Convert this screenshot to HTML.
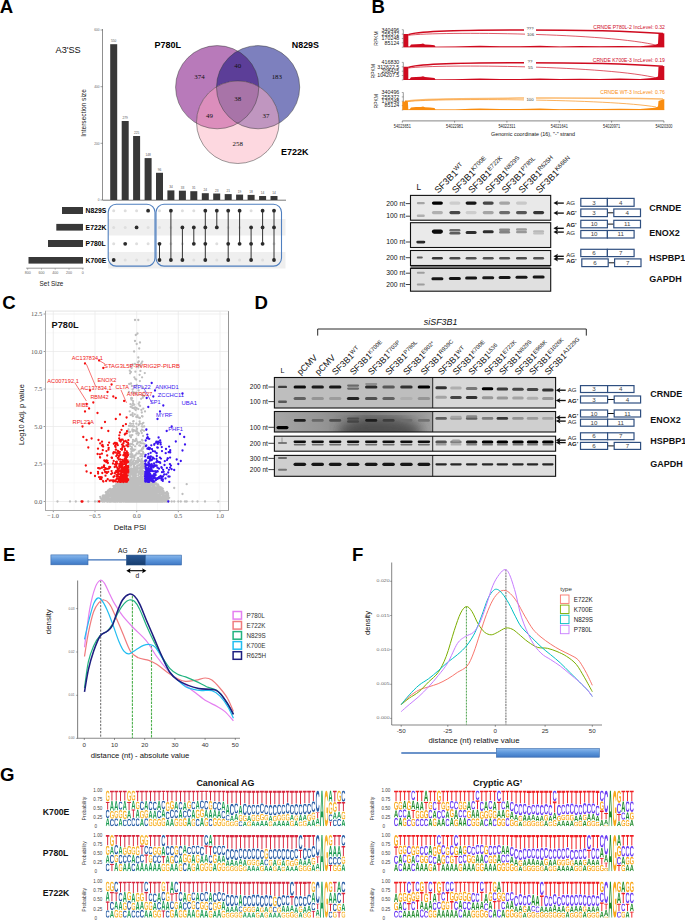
<!DOCTYPE html>
<html><head><meta charset="utf-8"><style>
html,body{margin:0;padding:0;background:#fff;}
svg{display:block;}
text{font-family:"Liberation Sans",sans-serif;}
</style></head><body>
<svg width="685" height="921" viewBox="0 0 685 921">
<rect width="685" height="921" fill="#fff"/>
<text x="-0.3" y="12.9" font-size="18.6" font-weight="bold" fill="#000" >A</text>
<text x="55.5" y="52.8" font-size="9.2" fill="#111" >A3&#39;SS</text>
<line x1="102.5" y1="29" x2="102.5" y2="200" stroke="#444" stroke-width="0.6"/>
<line x1="100.5" y1="200.0" x2="102.5" y2="200.0" stroke="#444" stroke-width="0.5"/>
<text x="99.5" y="201.2" font-size="3.2" text-anchor="end" fill="#666" >0</text>
<line x1="100.5" y1="143.3" x2="102.5" y2="143.3" stroke="#444" stroke-width="0.5"/>
<text x="99.5" y="144.5" font-size="3.2" text-anchor="end" fill="#666" >200</text>
<line x1="100.5" y1="86.7" x2="102.5" y2="86.7" stroke="#444" stroke-width="0.5"/>
<text x="99.5" y="87.9" font-size="3.2" text-anchor="end" fill="#666" >400</text>
<line x1="100.5" y1="30.0" x2="102.5" y2="30.0" stroke="#444" stroke-width="0.5"/>
<text x="99.5" y="31.2" font-size="3.2" text-anchor="end" fill="#666" >600</text>
<text transform="translate(86.3,113) rotate(-90)" font-size="6.6" text-anchor="middle" fill="#222">Intersection size</text>
<line x1="102.5" y1="200.2" x2="286" y2="200.2" stroke="#555" stroke-width="0.8"/>
<rect x="110.2" y="44.2" width="7" height="155.8" fill="#383838"/>
<text x="113.7" y="42.2" font-size="3.2" text-anchor="middle" fill="#555" >550</text>
<rect x="121.7" y="121.0" width="7" height="79.0" fill="#383838"/>
<text x="125.2" y="119.0" font-size="3.2" text-anchor="middle" fill="#555" >279</text>
<rect x="133.1" y="136.0" width="7" height="64.0" fill="#383838"/>
<text x="136.6" y="134.0" font-size="3.2" text-anchor="middle" fill="#555" >225</text>
<rect x="144.6" y="158.1" width="7" height="41.9" fill="#383838"/>
<text x="148.1" y="156.1" font-size="3.2" text-anchor="middle" fill="#555" >148</text>
<rect x="156.0" y="172.8" width="7" height="27.2" fill="#383838"/>
<text x="159.5" y="170.8" font-size="3.2" text-anchor="middle" fill="#555" >96</text>
<rect x="167.4" y="190.4" width="7" height="9.6" fill="#383838"/>
<text x="170.9" y="188.4" font-size="3.2" text-anchor="middle" fill="#555" >34</text>
<rect x="178.9" y="190.7" width="7" height="9.3" fill="#383838"/>
<text x="182.4" y="188.7" font-size="3.2" text-anchor="middle" fill="#555" >33</text>
<rect x="190.3" y="191.2" width="7" height="8.8" fill="#383838"/>
<text x="193.8" y="189.2" font-size="3.2" text-anchor="middle" fill="#555" >31</text>
<rect x="201.8" y="193.2" width="7" height="6.8" fill="#383838"/>
<text x="205.3" y="191.2" font-size="3.2" text-anchor="middle" fill="#555" >24</text>
<rect x="213.2" y="193.5" width="7" height="6.5" fill="#383838"/>
<text x="216.8" y="191.5" font-size="3.2" text-anchor="middle" fill="#555" >23</text>
<rect x="224.7" y="194.1" width="7" height="5.9" fill="#383838"/>
<text x="228.2" y="192.1" font-size="3.2" text-anchor="middle" fill="#555" >21</text>
<rect x="236.1" y="194.6" width="7" height="5.4" fill="#383838"/>
<text x="239.6" y="192.6" font-size="3.2" text-anchor="middle" fill="#555" >19</text>
<rect x="247.6" y="194.9" width="7" height="5.1" fill="#383838"/>
<text x="251.1" y="192.9" font-size="3.2" text-anchor="middle" fill="#555" >18</text>
<rect x="259.1" y="196.0" width="7" height="4.0" fill="#383838"/>
<text x="262.6" y="194.0" font-size="3.2" text-anchor="middle" fill="#555" >14</text>
<rect x="270.5" y="196.0" width="7" height="4.0" fill="#383838"/>
<text x="274.0" y="194.0" font-size="3.2" text-anchor="middle" fill="#555" >14</text>
<rect x="108" y="219" width="177.5" height="16.5" fill="#efefef"/>
<rect x="108" y="252" width="177.5" height="16.5" fill="#efefef"/>
<circle cx="113.7" cy="210.7" r="1.5" fill="#dedede"/>
<circle cx="113.7" cy="227.4" r="1.5" fill="#dedede"/>
<circle cx="113.7" cy="243.8" r="1.5" fill="#dedede"/>
<circle cx="113.7" cy="260.0" r="1.9" fill="#2b2b2b"/>
<circle cx="125.2" cy="210.7" r="1.5" fill="#dedede"/>
<circle cx="125.2" cy="227.4" r="1.5" fill="#dedede"/>
<circle cx="125.2" cy="260.0" r="1.5" fill="#dedede"/>
<circle cx="125.2" cy="243.8" r="1.9" fill="#2b2b2b"/>
<circle cx="136.6" cy="210.7" r="1.5" fill="#dedede"/>
<circle cx="136.6" cy="243.8" r="1.5" fill="#dedede"/>
<circle cx="136.6" cy="260.0" r="1.5" fill="#dedede"/>
<circle cx="136.6" cy="227.4" r="1.9" fill="#2b2b2b"/>
<circle cx="148.1" cy="227.4" r="1.5" fill="#dedede"/>
<circle cx="148.1" cy="243.8" r="1.5" fill="#dedede"/>
<circle cx="148.1" cy="260.0" r="1.5" fill="#dedede"/>
<circle cx="148.1" cy="210.7" r="1.9" fill="#2b2b2b"/>
<circle cx="159.5" cy="210.7" r="1.5" fill="#dedede"/>
<circle cx="159.5" cy="227.4" r="1.5" fill="#dedede"/>
<line x1="159.5" y1="243.8" x2="159.5" y2="260.0" stroke="#333" stroke-width="1"/>
<circle cx="159.5" cy="243.8" r="1.9" fill="#2b2b2b"/>
<circle cx="159.5" cy="260.0" r="1.9" fill="#2b2b2b"/>
<circle cx="170.9" cy="227.4" r="1.5" fill="#dedede"/>
<circle cx="170.9" cy="243.8" r="1.5" fill="#dedede"/>
<line x1="170.9" y1="210.7" x2="170.9" y2="260.0" stroke="#333" stroke-width="1"/>
<circle cx="170.9" cy="210.7" r="1.9" fill="#2b2b2b"/>
<circle cx="170.9" cy="260.0" r="1.9" fill="#2b2b2b"/>
<circle cx="182.4" cy="210.7" r="1.5" fill="#dedede"/>
<circle cx="182.4" cy="243.8" r="1.5" fill="#dedede"/>
<line x1="182.4" y1="227.4" x2="182.4" y2="260.0" stroke="#333" stroke-width="1"/>
<circle cx="182.4" cy="227.4" r="1.9" fill="#2b2b2b"/>
<circle cx="182.4" cy="260.0" r="1.9" fill="#2b2b2b"/>
<circle cx="193.8" cy="210.7" r="1.5" fill="#dedede"/>
<circle cx="193.8" cy="260.0" r="1.5" fill="#dedede"/>
<line x1="193.8" y1="227.4" x2="193.8" y2="243.8" stroke="#333" stroke-width="1"/>
<circle cx="193.8" cy="227.4" r="1.9" fill="#2b2b2b"/>
<circle cx="193.8" cy="243.8" r="1.9" fill="#2b2b2b"/>
<line x1="205.3" y1="210.7" x2="205.3" y2="260.0" stroke="#333" stroke-width="1"/>
<circle cx="205.3" cy="210.7" r="1.9" fill="#2b2b2b"/>
<circle cx="205.3" cy="227.4" r="1.9" fill="#2b2b2b"/>
<circle cx="205.3" cy="243.8" r="1.9" fill="#2b2b2b"/>
<circle cx="205.3" cy="260.0" r="1.9" fill="#2b2b2b"/>
<circle cx="216.8" cy="243.8" r="1.5" fill="#dedede"/>
<circle cx="216.8" cy="260.0" r="1.5" fill="#dedede"/>
<line x1="216.8" y1="210.7" x2="216.8" y2="227.4" stroke="#333" stroke-width="1"/>
<circle cx="216.8" cy="210.7" r="1.9" fill="#2b2b2b"/>
<circle cx="216.8" cy="227.4" r="1.9" fill="#2b2b2b"/>
<circle cx="228.2" cy="227.4" r="1.5" fill="#dedede"/>
<line x1="228.2" y1="210.7" x2="228.2" y2="260.0" stroke="#333" stroke-width="1"/>
<circle cx="228.2" cy="210.7" r="1.9" fill="#2b2b2b"/>
<circle cx="228.2" cy="243.8" r="1.9" fill="#2b2b2b"/>
<circle cx="228.2" cy="260.0" r="1.9" fill="#2b2b2b"/>
<circle cx="239.6" cy="227.4" r="1.5" fill="#dedede"/>
<circle cx="239.6" cy="260.0" r="1.5" fill="#dedede"/>
<line x1="239.6" y1="210.7" x2="239.6" y2="243.8" stroke="#333" stroke-width="1"/>
<circle cx="239.6" cy="210.7" r="1.9" fill="#2b2b2b"/>
<circle cx="239.6" cy="243.8" r="1.9" fill="#2b2b2b"/>
<circle cx="251.1" cy="210.7" r="1.5" fill="#dedede"/>
<line x1="251.1" y1="227.4" x2="251.1" y2="260.0" stroke="#333" stroke-width="1"/>
<circle cx="251.1" cy="227.4" r="1.9" fill="#2b2b2b"/>
<circle cx="251.1" cy="243.8" r="1.9" fill="#2b2b2b"/>
<circle cx="251.1" cy="260.0" r="1.9" fill="#2b2b2b"/>
<circle cx="262.6" cy="260.0" r="1.5" fill="#dedede"/>
<line x1="262.6" y1="210.7" x2="262.6" y2="243.8" stroke="#333" stroke-width="1"/>
<circle cx="262.6" cy="210.7" r="1.9" fill="#2b2b2b"/>
<circle cx="262.6" cy="227.4" r="1.9" fill="#2b2b2b"/>
<circle cx="262.6" cy="243.8" r="1.9" fill="#2b2b2b"/>
<circle cx="274.0" cy="243.8" r="1.5" fill="#dedede"/>
<line x1="274.0" y1="210.7" x2="274.0" y2="260.0" stroke="#333" stroke-width="1"/>
<circle cx="274.0" cy="210.7" r="1.9" fill="#2b2b2b"/>
<circle cx="274.0" cy="227.4" r="1.9" fill="#2b2b2b"/>
<circle cx="274.0" cy="260.0" r="1.9" fill="#2b2b2b"/>
<rect x="108.2" y="204.3" width="46.8" height="61.8" rx="8" fill="none" stroke="#4f7fbf" stroke-width="1.1"/>
<rect x="156" y="204.3" width="125.5" height="61.8" rx="8" fill="none" stroke="#4f7fbf" stroke-width="1.1"/>
<rect x="62" y="207" width="21.0" height="7.0" fill="#383838"/>
<text x="85.6" y="213.3" font-size="6.8" font-weight="bold" fill="#000" >N829S</text>
<rect x="56.3" y="223.9" width="26.7" height="6.7" fill="#383838"/>
<text x="85.6" y="230.0" font-size="6.8" font-weight="bold" fill="#000" >E722K</text>
<rect x="48" y="240" width="35.0" height="7.0" fill="#383838"/>
<text x="85.6" y="246.4" font-size="6.8" font-weight="bold" fill="#000" >P780L</text>
<rect x="28.5" y="257" width="54.5" height="6.6" fill="#383838"/>
<text x="85.6" y="262.6" font-size="6.8" font-weight="bold" fill="#000" >K700E</text>
<line x1="26.2" y1="268.2" x2="83.6" y2="268.2" stroke="#555" stroke-width="0.6"/>
<line x1="27.7" y1="268.3" x2="27.7" y2="269.8" stroke="#555" stroke-width="0.4"/>
<text x="27.7" y="273.6" font-size="3.6" text-anchor="middle" fill="#666" >800</text>
<line x1="41.5" y1="268.3" x2="41.5" y2="269.8" stroke="#555" stroke-width="0.4"/>
<text x="41.5" y="273.6" font-size="3.6" text-anchor="middle" fill="#666" >600</text>
<line x1="55.2" y1="268.3" x2="55.2" y2="269.8" stroke="#555" stroke-width="0.4"/>
<text x="55.2" y="273.6" font-size="3.6" text-anchor="middle" fill="#666" >400</text>
<line x1="69.0" y1="268.3" x2="69.0" y2="269.8" stroke="#555" stroke-width="0.4"/>
<text x="69.0" y="273.6" font-size="3.6" text-anchor="middle" fill="#666" >200</text>
<line x1="82.8" y1="268.3" x2="82.8" y2="269.8" stroke="#555" stroke-width="0.4"/>
<text x="82.8" y="273.6" font-size="3.6" text-anchor="middle" fill="#666" >0</text>
<text x="51.5" y="286.0" font-size="6.4" text-anchor="middle" fill="#222" >Set Size</text>
<defs><clipPath id="cpP"><circle cx="217.2" cy="87.2" r="41.6" fill="#000" /></clipPath><clipPath id="cpN"><circle cx="258.1" cy="87.2" r="41.6" fill="#000" /></clipPath></defs>
<circle cx="217.2" cy="87.2" r="41.6" fill="#b87aba" />
<circle cx="258.1" cy="87.2" r="41.6" fill="#7d80be" />
<circle cx="237.8" cy="122.2" r="41.3" fill="#fdd8e0" />
<g clip-path="url(#cpP)"><circle cx="258.1" cy="87.2" r="41.6" fill="#5c3e98" /><circle cx="237.8" cy="122.2" r="41.3" fill="#dc8ebc" /></g>
<g clip-path="url(#cpN)"><circle cx="237.8" cy="122.2" r="41.3" fill="#c096c0" /><g clip-path="url(#cpP)"><circle cx="237.8" cy="122.2" r="41.3" fill="#a874a8" /></g></g>
<circle cx="217.2" cy="87.2" r="41.6" fill="none" stroke="#3a3a3a" stroke-width="0.5"/>
<circle cx="258.1" cy="87.2" r="41.6" fill="none" stroke="#3a3a3a" stroke-width="0.5"/>
<circle cx="237.8" cy="122.2" r="41.3" fill="none" stroke="#3a3a3a" stroke-width="0.5"/>
<text x="199.5" y="79.3" font-size="6.9" text-anchor="middle" style="font-family:Liberation Serif" fill="#111">374</text>
<text x="237.7" y="68.3" font-size="6.9" text-anchor="middle" style="font-family:Liberation Serif" fill="#111">40</text>
<text x="276.8" y="79.3" font-size="6.9" text-anchor="middle" style="font-family:Liberation Serif" fill="#111">183</text>
<text x="237.7" y="100.8" font-size="6.9" text-anchor="middle" style="font-family:Liberation Serif" fill="#111">38</text>
<text x="209.5" y="118.3" font-size="6.9" text-anchor="middle" style="font-family:Liberation Serif" fill="#111">49</text>
<text x="266" y="118.3" font-size="6.9" text-anchor="middle" style="font-family:Liberation Serif" fill="#111">37</text>
<text x="237.7" y="146.3" font-size="6.9" text-anchor="middle" style="font-family:Liberation Serif" fill="#111">258</text>
<text x="154.6" y="47.9" font-size="9.0" font-weight="bold" fill="#000" >P780L</text>
<text x="291.8" y="47.9" font-size="8.9" font-weight="bold" fill="#000" >N829S</text>
<text x="281.0" y="154.5" font-size="9.0" font-weight="bold" fill="#000" >E722K</text>
<text x="371.6" y="12.9" font-size="18.6" font-weight="bold" fill="#000" >B</text>
<defs><filter id="bl" x="-20%" y="-100%" width="140%" height="300%"><feGaussianBlur stdDeviation="0.55"/></filter><filter id="bl2" x="-20%" y="-100%" width="140%" height="300%"><feGaussianBlur stdDeviation="0.9"/></filter><filter id="bl5" x="-10%" y="-10%" width="120%" height="120%"><feGaussianBlur stdDeviation="6"/></filter></defs>
<line x1="403.3" y1="29.7" x2="403.3" y2="47.2" stroke="#333" stroke-width="0.5"/>
<line x1="401.8" y1="29.7" x2="403.3" y2="29.7" stroke="#333" stroke-width="0.4"/>
<line x1="401.8" y1="34.1" x2="403.3" y2="34.1" stroke="#333" stroke-width="0.4"/>
<line x1="401.8" y1="38.5" x2="403.3" y2="38.5" stroke="#333" stroke-width="0.4"/>
<line x1="401.8" y1="42.8" x2="403.3" y2="42.8" stroke="#333" stroke-width="0.4"/>
<line x1="401.8" y1="47.2" x2="403.3" y2="47.2" stroke="#333" stroke-width="0.4"/>
<text x="399.3" y="31.5" font-size="5.3" text-anchor="end" fill="#222" >340496</text>
<text x="399.3" y="35.9" font-size="5.3" text-anchor="end" fill="#222" >255372</text>
<text x="399.3" y="40.3" font-size="5.3" text-anchor="end" fill="#222" >170248</text>
<text x="399.3" y="44.6" font-size="5.3" text-anchor="end" fill="#222" >85124</text>
<text transform="translate(377.5,38.5) rotate(-90)" font-size="5" text-anchor="middle" fill="#222">RPKM</text>
<path d="M403.5,47.2 L403.5,34.1 L408.3,34.1 L408.3,46.6 L409.7,46.4 L411.0,44.6 L416.0,44.2 L421.0,44.1 L423.0,43.6 L425.0,44.4 L430.0,44.8 L434.5,45.2 L435.5,46.7 L455.0,46.6 L470.0,46.0 L480.0,45.7 L490.0,46.0 L500.0,46.2 L520.0,46.3 L540.0,45.8 L560.0,46.4 L580.0,46.1 L600.0,46.2 L620.0,45.9 L640.0,46.2 L655.0,45.0 L658.0,43.7 L658.5,33.9 L664.3,33.3 L664.3,47.2Z" fill="#cf0a1f"/>
<line x1="403.5" y1="46.95" x2="664.3" y2="46.95" stroke="#cf0a1f" stroke-width="0.6" opacity="0.6"/>
<path d="M408.3,34.7 C425,28.2 600,29.2 663,33.5" fill="none" stroke="#cf0a1f" stroke-width="1.6"/>
<path d="M408.3,35.3 C440,31.3 610,32.9 658,45.6" fill="none" stroke="#cf0a1f" stroke-width="0.8" opacity="0.85"/>
<rect x="524" y="26.5" width="12" height="4.8" fill="#fff"/>
<text x="530.0" y="30.3" font-size="4.3" text-anchor="middle" fill="#333" >???</text>
<rect x="525" y="31.9" width="11" height="4.6" fill="#fff"/>
<text x="530.5" y="36.0" font-size="4.3" text-anchor="middle" fill="#333" >106</text>
<text x="664.8" y="29.099999999999998" font-size="6.2" text-anchor="end" fill="#cf0a1f" textLength="71.5" lengthAdjust="spacingAndGlyphs">CRNDE P780L-2 IncLevel: 0.32</text>
<line x1="403.3" y1="62.4" x2="403.3" y2="79.9" stroke="#333" stroke-width="0.5"/>
<line x1="401.8" y1="62.4" x2="403.3" y2="62.4" stroke="#333" stroke-width="0.4"/>
<line x1="401.8" y1="66.8" x2="403.3" y2="66.8" stroke="#333" stroke-width="0.4"/>
<line x1="401.8" y1="71.2" x2="403.3" y2="71.2" stroke="#333" stroke-width="0.4"/>
<line x1="401.8" y1="75.5" x2="403.3" y2="75.5" stroke="#333" stroke-width="0.4"/>
<line x1="401.8" y1="79.9" x2="403.3" y2="79.9" stroke="#333" stroke-width="0.4"/>
<text x="399.3" y="64.2" font-size="5.3" text-anchor="end" fill="#222" >416830</text>
<text x="399.3" y="68.6" font-size="5.3" text-anchor="end" fill="#222" >312622.5</text>
<text x="399.3" y="73.0" font-size="5.3" text-anchor="end" fill="#222" >208415</text>
<text x="399.3" y="77.3" font-size="5.3" text-anchor="end" fill="#222" >104207.5</text>
<text transform="translate(374.5,71.2) rotate(-90)" font-size="5" text-anchor="middle" fill="#222">RPKM</text>
<path d="M403.5,79.9 L403.5,66.8 L408.3,66.8 L408.3,79.3 L409.7,79.1 L411.0,77.3 L416.0,76.9 L421.0,76.8 L423.0,76.3 L425.0,77.1 L430.0,77.5 L434.5,77.9 L435.5,79.4 L455.0,79.3 L470.0,78.7 L480.0,78.4 L490.0,78.7 L500.0,78.9 L520.0,79.0 L540.0,78.5 L560.0,79.1 L580.0,78.8 L600.0,78.9 L620.0,78.6 L640.0,78.9 L655.0,77.7 L658.0,76.4 L658.5,66.6 L664.3,66.0 L664.3,79.9Z" fill="#cf0a1f"/>
<line x1="403.5" y1="79.65" x2="664.3" y2="79.65" stroke="#cf0a1f" stroke-width="0.6" opacity="0.6"/>
<path d="M408.3,67.4 C425,60.9 600,61.9 663,66.2" fill="none" stroke="#cf0a1f" stroke-width="1.6"/>
<path d="M408.3,68.0 C440,64.0 610,65.6 658,78.30000000000001" fill="none" stroke="#cf0a1f" stroke-width="0.8" opacity="0.85"/>
<rect x="524" y="59.199999999999996" width="12" height="4.8" fill="#fff"/>
<text x="530.0" y="63.0" font-size="4.3" text-anchor="middle" fill="#333" >??</text>
<rect x="525" y="64.6" width="11" height="4.6" fill="#fff"/>
<text x="530.5" y="68.7" font-size="4.3" text-anchor="middle" fill="#333" >55</text>
<text x="664.8" y="61.8" font-size="6.2" text-anchor="end" fill="#cf0a1f" textLength="72" lengthAdjust="spacingAndGlyphs">CRNDE K700E-3 IncLevel: 0.19</text>
<line x1="403.3" y1="92.5" x2="403.3" y2="110.0" stroke="#333" stroke-width="0.5"/>
<line x1="401.8" y1="92.5" x2="403.3" y2="92.5" stroke="#333" stroke-width="0.4"/>
<line x1="401.8" y1="96.9" x2="403.3" y2="96.9" stroke="#333" stroke-width="0.4"/>
<line x1="401.8" y1="101.2" x2="403.3" y2="101.2" stroke="#333" stroke-width="0.4"/>
<line x1="401.8" y1="105.6" x2="403.3" y2="105.6" stroke="#333" stroke-width="0.4"/>
<line x1="401.8" y1="110.0" x2="403.3" y2="110.0" stroke="#333" stroke-width="0.4"/>
<text x="399.3" y="94.3" font-size="5.3" text-anchor="end" fill="#222" >340496</text>
<text x="399.3" y="98.7" font-size="5.3" text-anchor="end" fill="#222" >255372</text>
<text x="399.3" y="103.0" font-size="5.3" text-anchor="end" fill="#222" >170248</text>
<text x="399.3" y="107.4" font-size="5.3" text-anchor="end" fill="#222" >85124</text>
<text transform="translate(377.5,101.2) rotate(-90)" font-size="5" text-anchor="middle" fill="#222">RPKM</text>
<path d="M402.3,110.0 L402.3,101.5 L405.0,101.5 L405.0,100.5 L407.8,100.5 L408.3,109.4 L409.7,109.2 L411.0,107.4 L416.0,107.0 L421.0,106.9 L423.0,106.4 L425.0,107.2 L430.0,107.6 L434.5,108.0 L435.5,109.5 L455.0,109.4 L470.0,108.8 L480.0,108.5 L490.0,108.8 L500.0,109.0 L520.0,109.1 L540.0,108.6 L560.0,109.2 L580.0,108.9 L600.0,109.0 L620.0,108.7 L640.0,109.0 L655.0,107.8 L658.0,106.5 L658.5,101.1 L664.3,99.0 L664.3,110.0Z" fill="#f98c0f"/>
<line x1="403.5" y1="109.75" x2="664.3" y2="109.75" stroke="#f98c0f" stroke-width="0.6" opacity="0.6"/>
<path d="M407.8,100.9 C425,97.3 600,97.7 663,99.0" fill="none" stroke="#f98c0f" stroke-width="1.5" opacity="0.6"/>
<path d="M407.8,101.5 C440,98.1 610,98.9 656,107.0" fill="none" stroke="#f98c0f" stroke-width="0.8" opacity="0.85"/>
<rect x="524" y="97.1" width="12" height="4.8" fill="#fff"/>
<text x="530.0" y="101.1" font-size="4.3" text-anchor="middle" fill="#333" >100</text>
<text x="664.8" y="93.9" font-size="6.2" text-anchor="end" fill="#f98c0f" textLength="64.5" lengthAdjust="spacingAndGlyphs">CRNDE WT-3 IncLevel: 0.76</text>
<line x1="402.3" y1="120.9" x2="663.9" y2="120.9" stroke="#333" stroke-width="0.6"/>
<line x1="402.3" y1="120.9" x2="402.3" y2="122.6" stroke="#333" stroke-width="0.5"/>
<text x="402.3" y="128" font-size="4.8" text-anchor="middle" fill="#222" textLength="17" lengthAdjust="spacingAndGlyphs">54023651</text>
<line x1="454.6" y1="120.9" x2="454.6" y2="122.6" stroke="#333" stroke-width="0.5"/>
<text x="454.6" y="128" font-size="4.8" text-anchor="middle" fill="#222" textLength="17" lengthAdjust="spacingAndGlyphs">54022981</text>
<line x1="506.9" y1="120.9" x2="506.9" y2="122.6" stroke="#333" stroke-width="0.5"/>
<text x="506.9" y="128" font-size="4.8" text-anchor="middle" fill="#222" textLength="17" lengthAdjust="spacingAndGlyphs">54022311</text>
<line x1="559.3" y1="120.9" x2="559.3" y2="122.6" stroke="#333" stroke-width="0.5"/>
<text x="559.3" y="128" font-size="4.8" text-anchor="middle" fill="#222" textLength="17" lengthAdjust="spacingAndGlyphs">54021641</text>
<line x1="611.6" y1="120.9" x2="611.6" y2="122.6" stroke="#333" stroke-width="0.5"/>
<text x="611.6" y="128" font-size="4.8" text-anchor="middle" fill="#222" textLength="17" lengthAdjust="spacingAndGlyphs">54020971</text>
<line x1="663.9" y1="120.9" x2="663.9" y2="122.6" stroke="#333" stroke-width="0.5"/>
<text x="663.9" y="128" font-size="4.8" text-anchor="middle" fill="#222" textLength="17" lengthAdjust="spacingAndGlyphs">54020300</text>
<text x="533" y="135.8" font-size="6.2" text-anchor="middle" fill="#111" textLength="84" lengthAdjust="spacingAndGlyphs">Genomic coordinate (16), "-" strand</text>
<rect x="410.5" y="195.4" width="140.2" height="24.8" fill="#e9e9e9"/>
<rect x="410.5" y="222.7" width="140.2" height="24.8" fill="#eaeaea"/>
<rect x="410.5" y="250.5" width="140.2" height="15.0" fill="#e8e8e8"/>
<rect x="410.5" y="265.5" width="140.2" height="3" fill="#7a7a7a"/>
<rect x="410.5" y="268.4" width="140.2" height="22.8" fill="#e0e0e0"/>
<rect x="416.8" y="201.9" width="8.0" height="2.4" rx="1.2" fill="rgb(165,165,165)" filter="url(#bl)"/>
<rect x="416.8" y="214.6" width="8.0" height="2.4" rx="1.2" fill="rgb(176,176,176)" filter="url(#bl)"/>
<rect x="431.9" y="201.4" width="11.0" height="3.4" rx="1.7" fill="rgb(6,6,6)" filter="url(#bl)"/>
<rect x="449.4" y="201.4" width="11.0" height="3.4" rx="1.7" fill="rgb(205,205,205)" filter="url(#bl)"/>
<rect x="465.6" y="201.4" width="11.0" height="3.4" rx="1.7" fill="rgb(18,18,18)" filter="url(#bl)"/>
<rect x="482.7" y="201.4" width="11.0" height="3.4" rx="1.7" fill="rgb(70,70,70)" filter="url(#bl)"/>
<rect x="499.1" y="201.4" width="11.0" height="3.4" rx="1.7" fill="rgb(165,165,165)" filter="url(#bl)"/>
<rect x="516.0" y="201.4" width="11.0" height="3.4" rx="1.7" fill="rgb(201,201,201)" filter="url(#bl)"/>
<rect x="431.9" y="211.0" width="11.0" height="3.2" rx="1.6" fill="rgb(176,176,176)" filter="url(#bl)"/>
<rect x="449.4" y="211.0" width="11.0" height="3.2" rx="1.6" fill="rgb(70,70,70)" filter="url(#bl)"/>
<rect x="465.6" y="211.0" width="11.0" height="3.2" rx="1.6" fill="rgb(205,205,205)" filter="url(#bl)"/>
<rect x="482.7" y="211.0" width="11.0" height="3.2" rx="1.6" fill="rgb(165,165,165)" filter="url(#bl)"/>
<rect x="499.1" y="211.0" width="11.0" height="3.2" rx="1.6" fill="rgb(108,108,108)" filter="url(#bl)"/>
<rect x="516.0" y="211.0" width="11.0" height="3.2" rx="1.6" fill="rgb(86,86,86)" filter="url(#bl)"/>
<rect x="533.1" y="211.0" width="11.0" height="3.2" rx="1.6" fill="rgb(52,52,52)" filter="url(#bl)"/>
<rect x="416.3" y="240.7" width="9.0" height="2.8" rx="1.4" fill="rgb(41,41,41)" filter="url(#bl)"/>
<rect x="431.9" y="229.5" width="11.0" height="4.2" rx="2.1" fill="rgb(7,7,7)" filter="url(#bl)"/>
<rect x="449.4" y="229.1" width="11.0" height="2.4" rx="1.2" fill="rgb(109,109,109)" filter="url(#bl)"/>
<rect x="449.4" y="231.9" width="11.0" height="2.6" rx="1.3" fill="rgb(93,93,93)" filter="url(#bl)"/>
<rect x="465.6" y="231.0" width="11.0" height="3.0" rx="1.5" fill="rgb(47,47,47)" filter="url(#bl)"/>
<rect x="482.7" y="230.3" width="11.0" height="3.0" rx="1.5" fill="rgb(47,47,47)" filter="url(#bl)"/>
<rect x="499.1" y="228.6" width="11.0" height="2.4" rx="1.2" fill="rgb(138,138,138)" filter="url(#bl)"/>
<rect x="499.1" y="231.1" width="11.0" height="2.4" rx="1.2" fill="rgb(131,131,131)" filter="url(#bl)"/>
<rect x="516.0" y="228.3" width="11.0" height="2.4" rx="1.2" fill="rgb(156,156,156)" filter="url(#bl)"/>
<rect x="516.0" y="230.9" width="11.0" height="2.4" rx="1.2" fill="rgb(152,152,152)" filter="url(#bl)"/>
<rect x="533.1" y="230.3" width="11.0" height="2.4" rx="1.2" fill="rgb(184,184,184)" filter="url(#bl)"/>
<rect x="533.1" y="232.4" width="11.0" height="2.2" rx="1.1" fill="rgb(193,193,193)" filter="url(#bl)"/>
<rect x="416.8" y="256.6" width="6.0" height="1.8" rx="0.9" fill="rgb(96,96,96)" filter="url(#bl)"/>
<rect x="431.9" y="257.0" width="11.0" height="2.6" rx="1.3" fill="rgb(56,56,56)" filter="url(#bl)"/>
<rect x="449.4" y="257.0" width="11.0" height="2.6" rx="1.3" fill="rgb(78,78,78)" filter="url(#bl)"/>
<rect x="465.6" y="257.0" width="11.0" height="2.6" rx="1.3" fill="rgb(83,83,83)" filter="url(#bl)"/>
<rect x="482.7" y="257.0" width="11.0" height="2.6" rx="1.3" fill="rgb(83,83,83)" filter="url(#bl)"/>
<rect x="499.1" y="257.0" width="11.0" height="2.6" rx="1.3" fill="rgb(83,83,83)" filter="url(#bl)"/>
<rect x="516.0" y="257.0" width="11.0" height="2.6" rx="1.3" fill="rgb(78,78,78)" filter="url(#bl)"/>
<rect x="533.1" y="257.0" width="11.0" height="2.6" rx="1.3" fill="rgb(83,83,83)" filter="url(#bl)"/>
<rect x="416.8" y="271.8" width="8.0" height="2.0" rx="1.0" fill="rgb(158,158,158)" filter="url(#bl)"/>
<rect x="416.8" y="283.6" width="8.0" height="2.0" rx="1.0" fill="rgb(158,158,158)" filter="url(#bl)"/>
<rect x="431.4" y="277.2" width="12.0" height="3.0" rx="1.5" fill="rgb(24,24,24)" filter="url(#bl)"/>
<rect x="448.9" y="276.9" width="12.0" height="3.0" rx="1.5" fill="rgb(24,24,24)" filter="url(#bl)"/>
<rect x="465.1" y="276.6" width="12.0" height="3.0" rx="1.5" fill="rgb(24,24,24)" filter="url(#bl)"/>
<rect x="482.2" y="276.3" width="12.0" height="3.0" rx="1.5" fill="rgb(24,24,24)" filter="url(#bl)"/>
<rect x="498.6" y="276.0" width="12.0" height="3.0" rx="1.5" fill="rgb(24,24,24)" filter="url(#bl)"/>
<rect x="515.5" y="275.7" width="12.0" height="3.0" rx="1.5" fill="rgb(24,24,24)" filter="url(#bl)"/>
<rect x="532.6" y="275.4" width="12.0" height="3.0" rx="1.5" fill="rgb(24,24,24)" filter="url(#bl)"/>
<rect x="410.5" y="195.4" width="140.2" height="24.8" fill="none" stroke="#111" stroke-width="1.1"/>
<rect x="410.5" y="222.7" width="140.2" height="24.8" fill="none" stroke="#111" stroke-width="1.1"/>
<rect x="410.5" y="250.5" width="140.2" height="15.0" fill="none" stroke="#111" stroke-width="1.1"/>
<rect x="410.5" y="268.4" width="140.2" height="22.8" fill="none" stroke="#111" stroke-width="1.1"/>
<line x1="405.7" y1="203.6" x2="410.5" y2="203.6" stroke="#111" stroke-width="0.8"/>
<text x="405.2" y="205.8" font-size="6.8" text-anchor="end" fill="#111" >200 nt</text>
<line x1="405.7" y1="216.2" x2="410.5" y2="216.2" stroke="#111" stroke-width="0.8"/>
<text x="405.2" y="218.4" font-size="6.8" text-anchor="end" fill="#111" >100 nt</text>
<line x1="405.7" y1="242.0" x2="410.5" y2="242.0" stroke="#111" stroke-width="0.8"/>
<text x="405.2" y="244.2" font-size="6.8" text-anchor="end" fill="#111" >100 nt</text>
<line x1="405.7" y1="257.7" x2="410.5" y2="257.7" stroke="#111" stroke-width="0.8"/>
<text x="405.2" y="259.9" font-size="6.8" text-anchor="end" fill="#111" >200 nt</text>
<line x1="405.7" y1="273.2" x2="410.5" y2="273.2" stroke="#111" stroke-width="0.8"/>
<text x="405.2" y="275.4" font-size="6.8" text-anchor="end" fill="#111" >300 nt</text>
<line x1="405.7" y1="284.5" x2="410.5" y2="284.5" stroke="#111" stroke-width="0.8"/>
<text x="405.2" y="286.7" font-size="6.8" text-anchor="end" fill="#111" >200 nt</text>
<text x="416.5" y="190.0" font-size="8.2" fill="#111" >L</text>
<text transform="translate(438.2,193.8) rotate(-45)" font-size="9.3" fill="#111">SF3B1<tspan font-size="6.1" dy="-3.3">WT</tspan></text>
<text transform="translate(455.7,193.8) rotate(-45)" font-size="9.3" fill="#111">SF3B1<tspan font-size="6.1" dy="-3.3">K700E</tspan></text>
<text transform="translate(471.9,193.8) rotate(-45)" font-size="9.3" fill="#111">SF3B1<tspan font-size="6.1" dy="-3.3">E722K</tspan></text>
<text transform="translate(489.0,193.8) rotate(-45)" font-size="9.3" fill="#111">SF3B1<tspan font-size="6.1" dy="-3.3">N829S</tspan></text>
<text transform="translate(505.4,193.8) rotate(-45)" font-size="9.3" fill="#111">SF3B1<tspan font-size="6.1" dy="-3.3">P780L</tspan></text>
<text transform="translate(522.3,193.8) rotate(-45)" font-size="9.3" fill="#111">SF3B1<tspan font-size="6.1" dy="-3.3">R625H</tspan></text>
<text transform="translate(539.4,193.8) rotate(-45)" font-size="9.3" fill="#111">SF3B1<tspan font-size="6.1" dy="-3.3">K666N</tspan></text>
<line x1="555.9" y1="203.1" x2="563.8" y2="203.1" stroke="#111" stroke-width="1.35"/>
<path d="M553.4,203.1 L558.0,200.6 L557.0,203.1 L558.0,205.6Z" fill="#111"/>
<text x="566.2" y="205.2" font-size="6.1" fill="#222" >AG</text>
<line x1="555.9" y1="213.1" x2="563.8" y2="213.1" stroke="#111" stroke-width="1.35"/>
<path d="M553.4,213.1 L558.0,210.6 L557.0,213.1 L558.0,215.6Z" fill="#111"/>
<text x="566.2" y="215.2" font-size="5.917" font-weight="bold" fill="#111" >AG&#8217;</text>
<line x1="555.9" y1="228.3" x2="563.8" y2="228.3" stroke="#111" stroke-width="1.35"/>
<path d="M553.4,228.3 L558.0,225.8 L557.0,228.3 L558.0,230.8Z" fill="#111"/>
<text x="566.2" y="226.8" font-size="5.917" font-weight="bold" fill="#111" >AG&#8217;</text>
<line x1="555.9" y1="232.1" x2="563.8" y2="232.1" stroke="#111" stroke-width="1.35"/>
<path d="M553.4,232.1 L558.0,229.6 L557.0,232.1 L558.0,234.6Z" fill="#111"/>
<text x="566.2" y="234.6" font-size="6.1" fill="#222" >AG</text>
<line x1="555.9" y1="256.3" x2="563.8" y2="256.3" stroke="#111" stroke-width="1.35"/>
<path d="M553.4,256.3 L558.0,253.8 L557.0,256.3 L558.0,258.8Z" fill="#111"/>
<text x="566.2" y="256.6" font-size="6.1" fill="#222" >AG</text>
<line x1="555.9" y1="258.9" x2="563.8" y2="258.9" stroke="#111" stroke-width="1.35"/>
<path d="M553.4,258.9 L558.0,256.4 L557.0,258.9 L558.0,261.4Z" fill="#111"/>
<text x="566.2" y="262.5" font-size="5.917" font-weight="bold" fill="#111" >AG&#8217;</text>
<rect x="580.8" y="198.4" width="26.6" height="7.9" fill="#fff" stroke="#2f4f80" stroke-width="1.2"/>
<rect x="607.4" y="198.4" width="26.7" height="7.9" fill="#fff" stroke="#2f4f80" stroke-width="1.2"/>
<text x="594.1" y="204.6" font-size="6.2" text-anchor="middle" fill="#444" >3</text>
<text x="620.8" y="204.6" font-size="6.2" text-anchor="middle" fill="#444" >4</text>
<line x1="607.4" y1="212.8" x2="613.8" y2="212.8" stroke="#111" stroke-width="1"/>
<rect x="580.8" y="209" width="26.6" height="7.6" fill="#fff" stroke="#2f4f80" stroke-width="1.2"/>
<rect x="613.8" y="209" width="26.7" height="7.6" fill="#fff" stroke="#2f4f80" stroke-width="1.2"/>
<text x="594.1" y="215.0" font-size="6.2" text-anchor="middle" fill="#444" >3</text>
<text x="627.2" y="215.0" font-size="6.2" text-anchor="middle" fill="#444" >4</text>
<line x1="607.4" y1="224.1" x2="613.8" y2="224.1" stroke="#111" stroke-width="1"/>
<rect x="580.8" y="220.3" width="26.6" height="7.5" fill="#fff" stroke="#2f4f80" stroke-width="1.2"/>
<rect x="613.8" y="220.3" width="26.7" height="7.5" fill="#fff" stroke="#2f4f80" stroke-width="1.2"/>
<text x="594.1" y="226.2" font-size="6.2" text-anchor="middle" fill="#444" >10</text>
<text x="627.2" y="226.2" font-size="6.2" text-anchor="middle" fill="#444" >11</text>
<rect x="580.8" y="230.5" width="26.6" height="7.5" fill="#fff" stroke="#2f4f80" stroke-width="1.2"/>
<rect x="607.4" y="230.5" width="26.7" height="7.5" fill="#fff" stroke="#2f4f80" stroke-width="1.2"/>
<text x="594.1" y="236.4" font-size="6.2" text-anchor="middle" fill="#444" >10</text>
<text x="620.8" y="236.4" font-size="6.2" text-anchor="middle" fill="#444" >11</text>
<rect x="580.8" y="249.3" width="26.6" height="7.3" fill="#fff" stroke="#2f4f80" stroke-width="1.2"/>
<rect x="607.4" y="249.3" width="26.7" height="7.3" fill="#fff" stroke="#2f4f80" stroke-width="1.2"/>
<text x="594.1" y="255.2" font-size="6.2" text-anchor="middle" fill="#444" >6</text>
<text x="620.8" y="255.2" font-size="6.2" text-anchor="middle" fill="#444" >7</text>
<line x1="608.2" y1="262.8" x2="614.6" y2="262.8" stroke="#111" stroke-width="1"/>
<rect x="581.8" y="258.9" width="26.4" height="7.7" fill="#fff" stroke="#2f4f80" stroke-width="1.2"/>
<rect x="614.6" y="258.9" width="26.4" height="7.7" fill="#fff" stroke="#2f4f80" stroke-width="1.2"/>
<text x="595.0" y="264.9" font-size="6.2" text-anchor="middle" fill="#444" >6</text>
<text x="627.8" y="264.9" font-size="6.2" text-anchor="middle" fill="#444" >7</text>
<text x="649.3" y="210.7" font-size="9.0" font-weight="bold" fill="#111" >CRNDE</text>
<text x="649.3" y="236.0" font-size="9.0" font-weight="bold" fill="#111" >ENOX2</text>
<text x="649.3" y="261.3" font-size="9.0" font-weight="bold" fill="#111" >HSPBP1</text>
<text x="649.3" y="282.4" font-size="9.0" font-weight="bold" fill="#111" >GAPDH</text>
<text x="2.3" y="309.1" font-size="18.6" font-weight="bold" fill="#000" >C</text>
<line x1="74.1" y1="311.1" x2="74.1" y2="510.5" stroke="#f3f3f3" stroke-width="0.5"/>
<line x1="115.8" y1="311.1" x2="115.8" y2="510.5" stroke="#f3f3f3" stroke-width="0.5"/>
<line x1="157.5" y1="311.1" x2="157.5" y2="510.5" stroke="#f3f3f3" stroke-width="0.5"/>
<line x1="199.2" y1="311.1" x2="199.2" y2="510.5" stroke="#f3f3f3" stroke-width="0.5"/>
<line x1="45.5" y1="482.8" x2="228.5" y2="482.8" stroke="#f3f3f3" stroke-width="0.5"/>
<line x1="45.5" y1="445.2" x2="228.5" y2="445.2" stroke="#f3f3f3" stroke-width="0.5"/>
<line x1="45.5" y1="407.8" x2="228.5" y2="407.8" stroke="#f3f3f3" stroke-width="0.5"/>
<line x1="45.5" y1="370.2" x2="228.5" y2="370.2" stroke="#f3f3f3" stroke-width="0.5"/>
<line x1="45.5" y1="332.8" x2="228.5" y2="332.8" stroke="#f3f3f3" stroke-width="0.5"/>
<line x1="53.3" y1="311.1" x2="53.3" y2="510.5" stroke="#e8e8e8" stroke-width="0.7"/>
<line x1="53.3" y1="510.5" x2="53.3" y2="512.2" stroke="#555" stroke-width="0.6"/>
<text x="53.1" y="517.5" font-size="6.4" text-anchor="middle" fill="#555" style="font-family:Liberation Serif">&#8722;1.0</text>
<line x1="95.0" y1="311.1" x2="95.0" y2="510.5" stroke="#e8e8e8" stroke-width="0.7"/>
<line x1="95.0" y1="510.5" x2="95.0" y2="512.2" stroke="#555" stroke-width="0.6"/>
<text x="94.8" y="517.5" font-size="6.4" text-anchor="middle" fill="#555" style="font-family:Liberation Serif">&#8722;0.5</text>
<line x1="136.7" y1="311.1" x2="136.7" y2="510.5" stroke="#e8e8e8" stroke-width="0.7"/>
<line x1="136.7" y1="510.5" x2="136.7" y2="512.2" stroke="#555" stroke-width="0.6"/>
<text x="136.7" y="517.5" font-size="6.4" text-anchor="middle" fill="#555" style="font-family:Liberation Serif">0.0</text>
<line x1="178.3" y1="311.1" x2="178.3" y2="510.5" stroke="#e8e8e8" stroke-width="0.7"/>
<line x1="178.3" y1="510.5" x2="178.3" y2="512.2" stroke="#555" stroke-width="0.6"/>
<text x="178.3" y="517.5" font-size="6.4" text-anchor="middle" fill="#555" style="font-family:Liberation Serif">0.5</text>
<line x1="220.0" y1="311.1" x2="220.0" y2="510.5" stroke="#e8e8e8" stroke-width="0.7"/>
<line x1="220.0" y1="510.5" x2="220.0" y2="512.2" stroke="#555" stroke-width="0.6"/>
<text x="220.0" y="517.5" font-size="6.4" text-anchor="middle" fill="#555" style="font-family:Liberation Serif">1.0</text>
<line x1="45.5" y1="501.5" x2="228.5" y2="501.5" stroke="#e8e8e8" stroke-width="0.7"/>
<line x1="43.6" y1="501.5" x2="45.5" y2="501.5" stroke="#555" stroke-width="0.6"/>
<text x="42.3" y="503.7" font-size="6.5" text-anchor="end" fill="#555" style="font-family:Liberation Serif">0.0</text>
<line x1="45.5" y1="464.0" x2="228.5" y2="464.0" stroke="#e8e8e8" stroke-width="0.7"/>
<line x1="43.6" y1="464.0" x2="45.5" y2="464.0" stroke="#555" stroke-width="0.6"/>
<text x="42.3" y="466.2" font-size="6.5" text-anchor="end" fill="#555" style="font-family:Liberation Serif">2.5</text>
<line x1="45.5" y1="426.5" x2="228.5" y2="426.5" stroke="#e8e8e8" stroke-width="0.7"/>
<line x1="43.6" y1="426.5" x2="45.5" y2="426.5" stroke="#555" stroke-width="0.6"/>
<text x="42.3" y="428.7" font-size="6.5" text-anchor="end" fill="#555" style="font-family:Liberation Serif">5.0</text>
<line x1="45.5" y1="389.0" x2="228.5" y2="389.0" stroke="#e8e8e8" stroke-width="0.7"/>
<line x1="43.6" y1="389.0" x2="45.5" y2="389.0" stroke="#555" stroke-width="0.6"/>
<text x="42.3" y="391.2" font-size="6.5" text-anchor="end" fill="#555" style="font-family:Liberation Serif">7.5</text>
<line x1="45.5" y1="351.5" x2="228.5" y2="351.5" stroke="#e8e8e8" stroke-width="0.7"/>
<line x1="43.6" y1="351.5" x2="45.5" y2="351.5" stroke="#555" stroke-width="0.6"/>
<text x="42.3" y="353.7" font-size="6.5" text-anchor="end" fill="#555" style="font-family:Liberation Serif">10.0</text>
<line x1="45.5" y1="314.0" x2="228.5" y2="314.0" stroke="#e8e8e8" stroke-width="0.7"/>
<line x1="43.6" y1="314.0" x2="45.5" y2="314.0" stroke="#555" stroke-width="0.6"/>
<text x="42.3" y="316.2" font-size="6.5" text-anchor="end" fill="#555" style="font-family:Liberation Serif">12.5</text>
<line x1="45.5" y1="311.1" x2="228.5" y2="311.1" stroke="#e0e0e0" stroke-width="0.9"/>
<line x1="228.5" y1="311.1" x2="228.5" y2="510.5" stroke="#8c8c8c" stroke-width="0.9"/>
<line x1="45.5" y1="310.8" x2="45.5" y2="510.5" stroke="#aaa" stroke-width="1"/>
<line x1="45" y1="510.5" x2="228.9" y2="510.5" stroke="#aaa" stroke-width="1"/>
<text transform="translate(24.3,414.6) rotate(-90)" font-size="7.4" text-anchor="middle" fill="#111">Log10 Adj. p value</text>
<text x="130.0" y="529.8" font-size="7.7" text-anchor="middle" fill="#111" >Delta PSI</text>
<path d="M110.2 496.1h0M126.2 498.7h0M138.1 501.5h0M147.9 501.0h0M145.2 490.3h0M131.3 501.5h0M136.8 493.4h0M136.3 489.8h0M139.7 493.6h0M168.0 494.2h0M138.0 500.6h0M146.9 485.4h0M158.1 501.5h0M133.0 482.4h0M121.7 501.5h0M120.9 482.8h0M136.8 500.7h0M142.4 491.5h0M135.9 489.8h0M130.1 498.2h0M155.2 496.6h0M117.3 490.3h0M115.9 497.8h0M151.8 501.5h0M128.6 490.6h0M132.0 482.9h0M142.0 499.2h0M118.3 498.6h0M114.8 485.8h0M130.7 494.3h0M145.6 488.5h0M141.4 496.7h0M134.5 500.6h0M147.0 497.0h0M122.8 501.3h0M143.9 495.3h0M139.5 495.4h0M145.4 488.7h0M139.0 484.0h0M103.1 497.3h0M137.2 496.3h0M117.1 485.1h0M130.8 486.6h0M126.0 484.9h0M159.2 493.0h0M112.0 493.8h0M111.3 489.6h0M106.3 494.7h0M139.4 501.5h0M132.2 493.1h0M119.4 483.8h0M136.9 496.6h0M149.8 489.4h0M123.4 489.3h0M160.4 489.7h0M127.3 491.0h0M112.8 489.0h0M120.1 499.0h0M137.2 498.2h0M125.8 485.6h0M137.1 501.5h0M104.4 496.0h0M137.3 499.5h0M134.3 485.8h0M153.5 493.8h0M141.8 486.3h0M141.1 501.5h0M150.1 488.3h0M125.7 492.3h0M127.9 486.6h0M152.6 483.5h0M119.9 484.0h0M141.7 484.7h0M132.6 489.6h0M144.1 488.2h0M167.0 492.0h0M123.0 484.0h0M120.4 500.4h0M138.3 501.2h0M122.3 486.4h0M138.3 499.3h0M130.0 485.5h0M134.5 501.5h0M126.4 487.9h0M134.9 485.5h0M118.9 484.2h0M166.2 496.5h0M153.0 492.0h0M169.2 497.8h0M139.2 492.9h0M142.4 491.9h0M163.2 498.7h0M115.6 486.1h0M146.0 498.6h0M110.3 501.5h0M139.4 496.2h0M155.5 500.1h0M127.2 498.5h0M136.0 495.2h0M141.2 490.0h0M143.8 485.3h0M117.2 488.4h0M122.7 496.3h0M162.8 500.2h0M136.4 501.5h0M129.8 486.6h0M135.7 498.4h0M166.2 500.6h0M135.2 488.9h0M134.5 501.5h0M120.5 499.4h0M135.1 485.5h0M108.0 501.0h0M137.7 493.4h0M125.6 501.5h0M141.1 493.6h0M130.1 498.5h0M163.0 491.4h0M143.6 494.6h0M139.2 482.4h0M154.2 486.9h0M125.7 484.3h0M139.0 494.6h0M115.5 496.5h0M125.7 490.2h0M146.1 495.9h0M150.7 492.0h0M144.5 488.5h0M103.2 497.4h0M133.4 498.5h0M139.0 497.5h0M104.0 497.4h0M135.0 501.5h0M136.9 483.6h0M132.9 499.0h0M164.8 497.2h0M147.5 495.4h0M127.2 488.2h0M132.9 501.5h0M137.0 484.3h0M124.2 482.3h0M147.6 493.2h0M129.2 492.2h0M102.6 496.1h0M143.5 490.2h0M151.2 499.7h0M141.6 493.6h0M117.7 492.3h0M150.6 497.8h0M153.9 490.1h0M147.2 488.9h0M122.6 498.6h0M162.7 501.5h0M121.1 497.2h0M149.1 501.5h0M146.0 491.7h0M128.1 495.8h0M106.6 500.6h0M137.8 487.1h0M135.5 495.3h0M123.3 491.7h0M130.2 501.5h0M106.9 500.9h0M159.4 491.2h0M106.7 499.8h0M130.0 488.7h0M155.6 495.7h0M151.2 491.3h0M162.5 496.3h0M149.9 496.3h0M161.3 498.6h0M128.5 494.9h0M146.1 486.5h0M139.2 498.8h0M120.4 501.3h0M107.0 495.2h0M123.3 491.8h0M154.5 501.5h0M146.7 499.4h0M136.9 487.2h0M127.9 495.9h0M145.5 492.8h0M129.4 494.5h0M109.8 491.0h0M160.9 487.5h0M131.1 494.3h0M114.8 489.7h0M140.8 494.2h0M105.6 499.1h0M144.0 486.9h0M120.6 501.5h0M140.9 498.7h0M133.2 498.0h0M120.2 498.9h0M114.7 494.4h0M162.6 497.6h0M133.8 501.5h0M155.1 495.0h0M129.8 497.1h0M136.8 493.3h0M149.2 490.5h0M138.5 496.2h0M136.1 489.9h0M129.7 501.5h0M158.1 501.5h0M135.1 501.5h0M106.1 496.3h0M142.8 486.6h0M107.7 492.7h0M129.4 485.7h0M135.5 500.5h0M134.1 488.8h0M125.1 493.5h0M145.2 501.4h0M137.9 501.5h0M155.0 498.3h0M152.7 495.2h0M130.1 489.3h0M147.3 487.9h0M139.2 488.1h0M107.8 501.5h0M134.6 494.7h0M129.0 500.3h0M145.7 500.5h0M145.6 492.5h0M156.4 495.4h0M149.2 488.6h0M145.7 501.5h0M137.9 495.8h0M125.9 486.7h0M147.0 499.2h0M138.2 495.6h0M128.3 492.4h0M114.8 485.9h0M100.8 501.2h0M133.0 483.6h0M126.1 499.7h0M149.5 491.5h0M127.8 484.0h0M141.8 499.8h0M144.1 491.2h0M131.1 501.5h0M152.3 483.4h0M135.7 490.8h0M124.4 498.4h0M124.4 498.9h0M147.3 491.3h0M154.8 499.4h0M141.0 493.3h0M128.8 487.5h0M157.5 486.9h0M117.1 491.9h0M123.5 484.1h0M134.6 488.0h0M119.6 496.5h0M124.6 499.7h0M133.4 488.7h0M139.1 496.5h0M161.7 487.9h0M129.7 486.3h0M148.1 491.3h0M138.3 491.9h0M130.4 497.7h0M161.2 490.0h0M146.8 501.5h0M145.3 492.7h0M133.2 498.3h0M161.4 499.3h0M130.3 493.3h0M168.0 500.1h0M139.6 500.0h0M133.9 484.2h0M149.4 483.4h0M151.1 498.0h0M139.3 497.8h0M126.5 489.4h0M144.1 497.9h0M146.1 497.0h0M150.0 492.1h0M135.2 490.7h0M138.4 496.9h0M131.6 497.0h0M166.2 501.3h0M127.3 483.6h0M114.3 493.2h0M124.7 492.4h0M147.3 492.3h0M118.3 486.9h0M137.9 487.0h0M117.4 493.3h0M150.1 501.5h0M133.1 484.8h0M120.7 501.3h0M127.5 501.5h0M139.6 491.8h0M140.1 499.4h0M129.8 492.2h0M152.7 500.3h0M136.4 488.8h0M105.7 498.2h0M144.0 501.5h0M139.2 499.4h0M100.2 501.4h0M111.1 496.8h0M139.6 482.1h0M138.2 497.9h0M137.4 483.5h0M150.5 482.4h0M121.8 500.8h0M147.0 485.0h0M132.5 494.8h0M138.4 495.7h0M128.1 499.1h0M126.1 493.8h0M138.8 485.0h0M153.9 495.4h0M145.1 498.8h0M154.2 497.2h0M127.5 483.4h0M149.9 501.5h0M132.8 484.6h0M136.3 500.8h0M140.1 501.0h0M147.3 494.2h0M138.8 488.4h0M133.1 498.4h0M130.6 494.6h0M116.7 497.1h0M139.3 490.0h0M166.7 499.0h0M116.1 490.0h0M159.5 498.5h0M137.4 494.2h0M128.4 492.8h0M144.1 494.7h0M131.9 500.2h0M128.7 499.3h0M118.3 501.2h0M130.3 500.7h0M120.1 493.3h0M137.1 501.2h0M139.4 497.3h0M119.7 483.0h0M140.0 483.3h0M127.3 494.4h0M160.3 496.5h0M127.8 499.5h0M114.7 499.6h0M163.1 493.2h0M124.6 497.7h0M133.2 491.7h0M152.7 496.0h0M122.5 488.2h0M107.9 490.9h0M126.2 491.4h0M126.6 487.5h0M136.7 498.8h0M147.7 501.5h0M134.9 493.7h0M130.8 499.1h0M105.2 499.7h0M127.8 488.2h0M131.4 487.3h0M139.5 494.3h0M146.6 485.7h0M123.3 497.9h0M149.6 491.0h0M110.6 492.9h0M113.5 501.5h0M154.2 501.5h0M132.0 499.8h0M124.6 496.4h0M120.6 494.9h0M167.1 498.2h0M137.9 486.4h0M159.4 498.2h0M154.8 501.5h0M147.5 497.1h0M150.4 495.4h0M160.9 501.5h0M147.0 493.0h0M146.3 494.4h0M126.0 500.8h0M129.4 483.4h0M131.2 485.7h0M129.6 501.2h0M147.2 487.4h0M142.0 501.4h0M102.4 498.3h0M150.7 494.7h0M152.8 482.3h0M128.5 488.4h0M103.2 497.6h0M124.2 486.2h0M150.0 495.6h0M123.1 500.2h0M141.6 491.8h0M156.7 500.1h0M135.1 492.7h0M137.4 492.0h0M144.7 487.4h0M130.3 482.8h0M129.1 488.4h0M123.2 496.2h0M109.4 489.4h0M123.7 498.2h0M158.7 491.9h0M149.1 499.9h0M118.9 494.3h0M142.0 490.6h0M153.9 493.8h0M140.2 483.5h0M157.1 496.8h0M128.5 484.9h0M134.4 497.8h0M135.7 483.4h0M135.8 501.5h0M149.1 497.5h0M112.3 499.3h0M131.0 500.5h0M134.4 497.7h0M153.0 491.7h0M111.8 497.0h0M122.5 485.7h0M157.3 495.5h0M140.6 482.3h0M133.9 484.7h0M130.1 501.3h0M125.1 490.0h0M134.0 499.7h0M129.2 499.6h0M142.3 495.5h0M147.8 487.8h0M130.8 490.0h0M128.9 493.6h0M124.7 488.5h0M140.5 496.9h0M148.1 493.6h0M121.8 487.6h0M148.6 497.0h0M121.2 488.7h0M141.8 494.5h0M118.4 494.3h0M158.3 492.3h0M140.9 495.4h0M133.4 489.2h0M165.0 501.3h0M127.6 496.3h0M147.3 482.7h0M128.0 485.8h0M141.3 493.5h0M136.6 498.1h0M131.9 494.8h0M141.7 499.0h0M136.2 486.2h0M109.6 501.5h0M164.6 501.5h0M127.1 492.0h0M139.2 492.6h0M126.4 501.5h0M130.7 497.6h0M157.5 498.5h0M113.1 500.4h0M142.8 482.7h0M117.6 483.3h0M120.5 499.2h0M135.0 501.5h0M129.6 496.6h0M138.9 501.5h0M133.5 499.9h0M118.5 484.5h0M137.9 492.7h0M130.4 497.4h0M156.2 493.6h0M132.9 501.5h0M137.9 491.7h0M146.4 496.3h0M143.7 487.5h0M109.5 501.5h0M126.0 490.7h0M154.7 490.5h0M121.6 501.5h0M136.9 497.5h0M130.0 485.1h0M134.4 482.4h0M131.9 496.3h0M144.5 500.8h0M125.4 483.6h0M125.5 483.5h0M157.1 495.0h0M162.8 500.8h0M137.4 487.5h0M130.9 496.2h0M139.1 499.9h0M130.8 499.8h0M139.0 483.7h0M134.8 492.0h0M146.6 501.1h0M126.6 489.1h0M132.1 486.9h0M125.1 499.0h0M132.4 495.7h0M142.8 494.9h0M125.5 491.0h0M123.5 488.6h0M134.6 501.5h0M126.8 488.2h0M120.4 491.5h0M132.0 493.0h0M108.5 498.5h0M131.5 491.7h0M121.3 483.1h0M108.2 493.0h0M119.9 499.8h0M132.9 484.2h0M116.5 489.2h0M150.1 497.3h0M159.8 493.9h0M136.5 493.0h0M143.3 497.0h0M112.3 489.2h0M117.1 492.5h0M153.3 501.5h0M125.8 486.7h0M131.1 495.3h0M135.4 491.4h0M142.4 483.3h0M134.8 484.2h0M164.0 498.3h0M162.3 501.5h0M104.5 496.1h0M136.4 500.5h0M121.3 492.2h0M143.0 494.4h0M155.1 493.0h0M139.1 499.6h0M127.9 482.5h0M158.9 501.5h0M108.4 495.2h0M114.6 500.5h0M103.8 500.9h0M103.2 501.4h0M117.7 492.6h0M155.5 501.5h0M166.7 493.4h0M135.4 487.1h0M138.4 492.2h0M127.9 484.6h0M139.2 497.5h0M123.8 497.8h0M127.2 484.7h0M135.3 496.6h0M126.5 501.5h0M117.9 498.2h0M126.4 495.5h0M127.5 499.5h0M124.2 486.6h0M117.0 491.4h0M137.5 492.7h0M134.8 483.9h0M159.6 486.9h0M111.1 492.2h0M114.6 499.8h0M150.1 483.1h0M143.9 501.5h0M143.5 501.5h0M139.3 492.2h0M142.5 487.2h0M107.1 501.5h0M138.6 492.6h0M108.3 495.5h0M166.5 497.3h0M132.7 498.6h0M103.3 496.1h0M140.7 487.8h0M143.2 498.1h0M128.6 501.5h0M125.2 501.0h0M127.0 490.2h0M147.0 484.6h0M123.2 496.0h0M133.2 483.4h0M112.5 494.7h0M146.2 497.8h0M154.3 483.2h0M132.2 491.5h0M135.9 501.5h0M126.0 497.2h0M131.4 492.8h0M137.9 482.7h0M156.0 498.0h0M118.6 484.2h0M148.0 491.6h0M126.4 485.5h0M137.8 498.5h0M155.2 482.7h0M142.4 486.2h0M117.8 486.4h0M139.0 492.5h0M142.4 484.0h0M135.3 500.7h0M161.8 497.9h0M133.8 487.3h0M150.9 500.8h0M154.0 484.8h0M144.3 492.9h0M150.9 501.2h0M116.9 490.2h0M125.8 497.1h0M135.6 488.9h0M161.3 498.0h0M124.5 482.8h0M133.9 501.5h0M137.3 493.3h0M151.6 498.4h0M134.4 500.8h0M140.9 483.1h0M129.0 493.2h0M141.7 494.1h0M138.7 489.8h0M118.4 491.9h0M144.6 500.8h0M156.4 497.4h0M127.7 489.7h0M156.0 494.4h0M161.8 501.5h0M129.3 488.7h0M122.1 487.6h0M144.0 489.0h0M135.0 500.8h0M130.3 500.5h0M161.1 489.4h0M155.7 496.5h0M133.7 485.0h0M145.0 494.7h0M141.7 493.7h0M117.7 493.9h0M127.6 487.0h0M142.3 484.7h0M164.1 492.3h0M116.2 488.9h0M154.0 489.2h0M131.0 498.0h0M148.0 501.5h0M135.2 487.1h0M138.9 482.1h0M105.6 496.5h0M127.7 490.9h0M151.4 491.1h0M149.0 491.5h0M110.7 491.4h0M146.2 491.3h0M133.6 499.0h0M145.9 496.8h0M147.1 493.5h0M139.6 483.0h0M106.7 499.0h0M150.1 485.8h0M126.9 501.2h0M148.7 499.3h0M163.9 499.0h0M155.7 488.2h0M148.0 501.5h0M159.0 498.8h0M123.3 498.1h0M158.6 495.0h0M108.2 499.5h0M113.3 499.8h0M124.3 485.8h0M141.5 498.9h0M142.1 484.8h0M161.9 499.0h0M135.1 485.5h0M132.4 501.5h0M153.5 501.5h0M135.0 501.3h0M134.0 488.7h0M155.0 496.8h0M130.6 496.8h0M143.9 496.4h0M155.0 493.3h0M152.4 484.5h0M126.3 492.7h0M120.5 492.6h0M115.1 486.7h0M132.1 501.5h0M143.0 496.9h0M157.4 490.2h0M124.6 491.6h0M162.8 501.5h0M140.2 482.6h0M127.5 492.4h0M159.8 501.5h0M122.9 499.9h0M130.7 487.2h0M148.1 498.9h0M146.6 498.1h0M128.1 501.5h0M150.7 489.5h0M137.5 482.9h0M125.4 489.9h0M149.9 501.5h0M138.7 501.5h0M130.1 493.2h0M135.3 498.7h0M160.1 501.5h0M119.4 497.5h0M152.3 492.8h0M131.6 501.5h0M164.1 499.2h0M148.4 482.5h0M121.9 501.5h0M150.0 495.0h0M142.9 496.1h0M143.4 492.7h0M139.3 497.7h0M132.6 500.5h0M141.9 485.5h0M149.7 487.3h0M139.9 501.5h0M130.4 484.7h0M159.8 492.8h0M143.6 499.9h0M143.0 489.8h0M142.1 492.0h0M123.1 494.9h0M130.5 490.3h0M162.8 494.3h0M138.2 483.3h0M133.5 488.4h0M125.0 496.9h0M153.9 488.6h0M117.5 487.7h0M151.0 485.0h0M151.9 482.9h0M145.4 482.9h0M107.1 496.1h0M105.8 496.0h0M130.3 493.8h0M119.2 495.4h0M131.6 485.3h0M136.3 501.5h0M137.1 497.1h0M154.8 497.9h0M144.6 485.2h0M131.5 496.4h0M148.1 488.9h0M166.1 499.8h0M149.3 498.7h0M139.5 489.1h0M139.4 493.5h0M138.6 491.7h0M150.2 501.2h0M148.3 501.5h0M148.4 485.9h0M148.9 489.2h0M138.6 491.0h0M146.8 487.0h0M135.0 501.4h0M124.7 501.5h0M127.8 490.5h0M154.5 496.8h0M140.8 483.8h0M124.8 493.1h0M104.7 501.5h0M140.8 494.2h0M131.3 496.7h0M115.9 501.4h0M142.4 499.6h0M151.6 500.7h0M120.6 500.9h0M142.3 499.4h0M154.3 493.3h0M115.4 501.0h0M140.9 496.6h0M133.6 483.7h0M132.8 496.2h0M154.6 501.0h0M107.3 492.5h0M127.9 496.3h0M137.3 494.3h0M125.3 493.4h0M148.0 492.8h0M157.1 495.9h0M142.0 499.7h0M120.4 490.5h0M128.8 489.7h0M122.7 495.4h0M122.2 486.4h0M127.4 489.8h0M156.1 500.2h0M121.8 495.1h0M119.6 500.4h0M116.7 485.8h0M116.5 498.6h0M133.1 501.2h0M123.4 498.6h0M156.5 487.5h0M120.5 501.5h0M141.5 495.6h0M158.9 492.9h0M107.7 501.5h0M124.9 494.5h0M140.2 484.3h0M144.7 493.3h0M145.0 494.4h0M149.5 488.8h0M156.7 500.3h0M153.5 496.4h0M163.4 494.9h0M123.8 485.4h0M131.4 501.5h0M135.0 487.1h0M123.7 498.4h0M144.5 489.1h0M141.6 501.5h0M157.3 495.7h0M166.8 500.1h0M164.1 499.5h0M151.2 497.9h0M133.2 499.7h0M124.8 486.9h0M120.6 493.4h0M128.9 496.1h0M118.6 500.9h0M141.6 494.2h0M103.7 499.5h0M137.7 499.5h0M127.1 498.8h0M137.5 488.0h0M127.6 498.6h0M150.8 496.6h0M114.8 497.9h0M141.7 482.9h0M140.6 482.2h0M109.7 498.3h0M147.0 498.4h0M135.6 500.9h0M110.6 494.2h0M151.2 497.6h0M137.3 500.9h0M141.1 494.7h0M155.3 496.0h0M138.6 501.5h0M134.8 501.2h0M142.5 484.7h0M133.9 500.1h0M136.2 492.8h0M135.2 486.6h0M150.0 489.1h0M123.2 486.0h0M129.4 487.4h0M140.0 493.2h0M112.6 493.8h0M134.3 487.8h0M102.1 500.4h0M153.5 501.5h0M134.5 501.5h0M136.8 501.1h0M157.3 485.2h0M152.5 497.1h0M130.2 493.3h0M147.8 483.3h0M156.9 498.2h0M126.0 495.7h0M123.3 501.5h0M133.8 501.0h0M112.9 490.1h0M162.8 488.7h0M156.2 488.3h0M134.6 489.4h0M151.8 499.4h0M141.4 483.1h0M158.2 488.0h0M168.1 495.3h0M104.5 501.2h0M166.7 497.5h0M113.0 491.5h0M161.1 491.5h0M147.7 498.3h0M130.9 501.5h0M134.9 498.0h0M127.3 501.5h0M142.2 487.9h0M110.6 501.5h0M154.5 484.0h0M142.9 486.2h0M167.7 501.5h0M120.6 490.4h0M117.6 486.2h0M141.2 485.3h0M132.5 484.3h0M131.3 482.2h0M147.0 501.5h0M131.6 490.7h0M124.3 482.5h0M140.6 501.5h0M144.9 492.9h0M130.3 501.5h0M131.7 487.1h0M159.1 487.8h0M150.8 485.5h0M112.2 493.9h0M151.8 499.6h0M132.5 501.5h0M138.8 490.5h0M147.1 484.1h0M163.1 498.8h0M132.3 500.1h0M134.2 488.2h0M137.8 484.5h0M132.4 501.5h0M151.5 483.7h0M140.4 488.1h0M138.9 494.4h0M120.4 496.9h0M138.2 501.5h0M151.8 482.4h0M124.8 501.5h0M114.2 497.5h0M115.0 501.5h0M126.2 483.1h0M137.1 501.5h0M142.4 501.5h0M138.7 485.7h0M155.6 499.3h0M163.2 501.5h0M140.6 501.5h0M125.2 500.4h0M134.2 494.0h0M149.4 500.8h0M119.1 485.9h0M145.5 501.5h0M117.4 483.9h0M132.1 498.5h0M131.5 488.7h0M134.9 499.8h0M160.4 496.4h0M132.2 501.5h0M107.2 500.9h0M130.6 489.8h0M137.6 490.8h0M156.8 499.7h0M133.7 484.9h0M134.2 484.0h0M155.4 498.2h0M136.8 487.2h0M121.0 494.1h0M152.1 484.6h0M133.3 489.1h0M133.6 499.4h0M131.7 494.4h0M137.9 485.2h0M157.4 492.3h0M144.1 501.5h0M148.2 499.5h0M142.9 485.0h0M132.7 491.0h0M160.2 501.0h0M153.4 490.8h0M111.8 494.2h0M115.4 501.5h0M145.6 501.5h0M113.0 498.5h0M151.5 497.0h0M137.2 484.9h0M124.7 483.0h0M127.0 489.7h0M153.3 497.7h0M111.1 491.6h0M140.9 483.5h0M167.0 496.0h0M127.0 495.1h0M131.2 489.8h0M137.1 495.3h0M138.1 492.3h0M139.6 489.0h0M137.2 493.9h0M121.2 491.2h0M143.0 498.8h0M138.0 498.4h0M146.7 492.2h0M122.5 493.1h0M126.3 493.4h0M134.9 482.6h0M120.1 487.1h0M118.1 488.3h0M167.1 497.2h0M145.0 501.5h0M119.9 490.3h0M125.9 487.7h0M119.0 501.5h0M131.1 488.5h0M133.7 499.0h0M149.9 498.8h0M159.2 494.0h0M137.5 482.5h0M135.6 489.9h0M128.3 484.9h0M147.3 493.3h0M141.6 496.2h0M134.6 501.5h0M152.3 493.0h0M138.2 494.3h0M150.0 490.2h0M155.3 497.8h0M131.8 488.3h0M144.9 497.4h0M145.9 494.7h0M126.9 491.7h0M151.2 500.2h0M158.5 501.5h0M144.2 492.8h0M137.7 500.8h0M138.4 482.7h0M141.0 484.0h0M126.7 500.0h0M146.9 498.4h0M119.9 501.5h0M142.3 488.8h0M150.4 491.0h0M123.9 482.1h0M139.0 489.7h0M141.4 500.4h0M134.9 493.8h0M157.9 484.5h0M117.7 486.0h0M132.0 486.8h0M128.7 491.5h0M130.5 486.1h0M136.3 487.1h0M149.7 483.7h0M149.6 492.2h0M136.9 493.1h0M135.2 487.9h0M136.9 494.1h0M153.5 486.8h0M127.1 496.7h0M137.1 487.7h0M143.2 501.5h0M166.0 501.5h0M142.6 501.5h0M106.1 499.7h0M117.3 492.9h0M128.8 500.6h0M135.4 490.7h0M120.1 494.5h0M129.6 484.7h0M153.1 488.8h0M151.4 497.6h0M147.7 490.5h0M130.3 484.5h0M154.9 493.8h0M137.4 486.2h0M131.6 493.8h0M115.3 487.7h0M124.8 501.4h0M135.2 483.1h0M166.5 493.7h0M140.1 496.6h0M133.4 485.9h0M131.1 495.1h0M120.9 489.3h0M136.5 500.8h0M133.6 483.4h0M124.0 484.8h0M120.6 483.0h0M131.3 483.2h0M138.0 485.2h0M119.1 493.3h0M130.4 497.5h0M133.2 492.2h0M150.6 489.4h0M124.8 485.4h0M147.2 498.8h0M126.8 495.0h0M131.9 501.5h0M125.2 488.3h0M160.3 491.3h0M163.7 497.0h0M142.3 495.4h0M157.6 500.6h0M137.6 485.5h0M132.1 490.3h0M131.6 497.1h0M124.9 497.7h0M128.7 501.5h0M134.2 488.7h0M122.2 500.9h0M140.9 501.5h0M146.0 487.3h0M136.0 499.5h0M131.6 486.7h0M134.6 486.0h0M108.7 497.0h0M138.8 500.5h0M168.3 497.2h0M129.0 489.8h0M137.7 501.0h0M137.8 496.9h0M122.4 496.8h0M139.8 482.9h0M137.9 483.3h0M147.2 490.4h0M144.8 495.8h0M123.5 501.5h0M137.5 488.2h0M153.8 487.8h0M127.5 494.8h0M136.1 493.3h0M133.9 492.6h0M112.0 492.6h0M121.7 494.5h0M137.6 486.5h0M119.0 489.6h0M113.8 494.2h0M121.1 497.2h0M154.1 489.3h0M129.9 493.6h0M141.3 493.4h0M135.0 487.9h0M141.1 499.8h0M141.8 501.5h0M120.0 487.9h0M115.7 491.3h0M149.3 485.6h0M142.2 501.4h0M156.7 501.5h0M134.5 501.5h0M166.3 492.3h0M115.6 489.3h0M152.3 492.7h0M119.9 486.7h0M119.8 484.3h0M142.6 501.2h0M152.1 488.0h0M132.7 489.3h0M134.8 487.8h0M148.4 500.8h0M157.4 501.5h0M126.4 485.9h0M139.1 501.5h0M123.3 501.5h0M126.1 492.2h0M144.7 495.3h0M148.6 497.1h0M136.4 490.8h0M137.0 484.0h0M125.6 497.2h0M128.2 501.5h0M115.2 488.2h0M155.0 501.5h0M143.9 501.4h0M129.1 487.0h0M107.0 497.1h0M146.5 501.5h0M131.0 500.3h0M162.7 501.5h0M135.5 486.8h0M140.0 500.4h0M142.8 501.5h0M109.6 500.6h0M122.9 494.7h0M127.3 488.7h0M138.7 494.2h0M143.1 498.5h0M132.1 501.5h0M121.1 498.2h0M135.8 501.5h0M131.6 498.9h0M159.5 498.7h0M152.2 493.6h0M143.5 489.8h0M150.8 490.6h0M128.1 486.3h0M113.0 497.6h0M125.5 497.8h0M125.4 500.8h0M159.2 499.7h0M114.5 501.5h0M135.0 501.5h0M141.0 493.1h0M160.7 494.8h0M137.0 495.6h0M115.0 499.3h0M134.8 492.8h0M127.3 484.0h0M135.5 483.8h0M117.5 492.0h0M121.7 498.6h0M132.7 501.5h0M119.3 494.8h0M151.3 501.5h0M149.0 490.4h0M130.6 486.1h0M168.2 501.1h0M135.1 486.0h0M110.5 492.4h0M163.2 500.7h0M139.0 490.4h0M127.2 486.6h0M162.1 493.5h0M150.0 497.0h0M135.7 496.2h0M152.9 488.9h0M101.8 499.6h0M103.2 495.3h0M133.6 495.8h0M105.7 501.0h0M111.6 499.4h0M139.2 501.5h0M119.4 501.5h0M126.4 494.4h0M152.7 483.0h0M110.1 494.1h0M141.6 490.4h0M110.8 501.5h0M144.7 498.0h0M162.8 500.3h0M137.9 500.8h0M149.5 499.7h0M148.4 497.0h0M120.4 496.0h0M113.1 490.7h0M141.3 485.6h0M133.1 491.0h0M148.9 501.5h0M136.5 495.9h0M147.0 501.0h0M146.6 488.8h0M158.2 499.0h0M148.6 501.5h0M116.2 496.4h0M132.8 484.8h0M141.9 498.9h0M128.5 497.6h0M139.9 487.8h0M166.0 495.2h0M122.8 485.0h0M117.8 482.8h0M132.7 498.3h0M151.0 501.5h0M121.5 487.0h0M109.0 491.8h0M113.3 496.9h0M132.1 501.5h0M156.2 501.5h0M138.1 500.2h0M126.3 499.7h0M136.2 482.2h0M106.9 492.2h0M123.9 486.1h0M160.0 496.8h0M115.4 492.6h0M145.4 501.5h0M116.7 489.3h0M153.7 488.3h0M123.1 501.5h0M133.0 483.1h0M114.6 495.6h0M123.2 487.4h0M158.5 485.3h0M147.4 492.9h0M126.5 501.5h0M143.6 495.9h0M130.0 500.9h0M139.8 492.8h0M140.2 497.9h0M134.3 496.0h0M137.0 491.6h0M131.1 487.9h0M145.4 491.5h0M143.2 501.1h0M119.8 498.3h0M140.6 490.1h0M141.0 484.8h0M139.6 495.1h0M144.4 490.0h0M132.3 490.0h0M144.6 501.5h0M146.4 483.9h0M113.8 496.7h0M143.7 487.9h0M148.3 482.3h0M138.8 482.0h0M119.3 494.9h0M138.4 498.0h0M147.7 482.2h0M146.6 487.7h0M151.7 501.1h0M138.3 495.8h0M142.3 483.1h0M110.7 499.4h0M139.6 499.3h0M163.4 491.0h0M161.4 487.6h0M148.5 494.3h0M139.8 501.2h0M148.9 493.1h0M116.6 489.5h0M126.3 483.4h0M102.5 499.7h0M124.4 489.6h0M118.0 496.9h0M150.9 482.2h0M135.1 492.3h0M157.1 501.5h0M113.6 489.1h0M152.1 499.1h0M131.4 484.1h0M164.7 500.5h0M131.5 483.9h0M139.2 496.2h0M160.7 501.5h0M147.1 490.8h0M133.2 485.6h0M104.0 500.5h0M103.2 501.4h0M150.7 497.7h0M116.3 488.3h0M123.8 493.5h0M139.1 494.7h0M147.0 498.6h0M148.4 484.7h0M132.9 495.3h0M150.7 489.9h0M132.3 498.8h0M127.5 498.3h0M117.1 483.8h0M158.0 487.1h0M131.9 501.5h0M123.0 482.5h0M141.0 498.8h0M124.4 494.5h0M144.5 500.9h0M124.5 487.3h0M129.7 490.3h0M135.6 495.1h0M128.4 485.0h0M103.1 498.5h0M126.7 483.3h0M123.2 487.5h0M144.5 500.5h0M158.6 488.4h0M132.4 496.8h0M144.6 482.4h0M122.9 490.8h0M157.2 499.1h0M123.5 494.3h0M152.6 490.0h0M133.7 495.0h0M149.0 497.0h0M145.1 496.7h0M113.8 492.0h0M127.7 494.2h0M126.7 487.4h0M106.0 492.9h0M128.1 498.8h0M128.9 492.0h0M140.1 488.4h0M117.0 490.5h0M118.6 497.8h0M142.2 492.9h0M111.9 498.6h0M133.0 483.8h0M142.2 497.6h0M135.2 492.1h0M130.9 501.5h0M132.3 482.3h0M135.9 492.2h0M148.5 493.2h0M120.4 491.2h0M134.8 498.2h0M132.3 494.5h0M121.8 491.8h0M148.9 494.1h0M133.6 483.4h0M112.3 492.3h0M134.6 501.5h0M128.8 492.8h0M129.2 488.4h0M114.1 487.2h0M117.3 501.5h0M131.8 495.0h0M150.7 487.3h0M139.6 496.1h0M145.4 487.2h0M132.4 501.4h0M151.2 490.8h0M147.4 501.3h0M136.0 487.8h0M142.2 497.9h0M131.7 486.6h0M143.8 488.8h0M109.1 501.4h0M125.0 497.5h0M149.6 501.5h0M151.3 490.6h0M123.9 491.4h0M136.2 487.6h0M152.9 492.5h0M154.4 500.6h0M134.3 490.7h0M133.8 485.8h0M138.1 491.8h0M139.2 492.0h0M134.9 501.5h0M150.1 501.2h0M145.7 497.1h0M130.5 488.1h0M104.4 501.2h0M135.1 495.5h0M154.5 491.9h0M118.7 491.3h0M133.7 485.0h0M109.3 495.0h0M141.9 492.3h0M155.0 501.5h0M145.8 482.6h0M118.4 496.2h0M152.7 499.3h0M121.2 501.5h0M146.0 501.5h0M159.6 501.4h0M149.5 501.5h0M124.2 491.5h0M119.4 487.9h0M148.3 499.3h0M131.3 486.6h0M156.7 499.0h0M156.4 496.2h0M155.9 483.8h0M149.2 493.3h0M150.1 499.3h0M136.2 494.7h0M116.2 490.6h0M121.1 501.5h0M137.2 494.2h0M104.5 501.5h0M125.5 497.6h0M138.9 501.3h0M129.1 497.5h0M134.4 483.9h0M149.3 484.0h0M137.3 495.7h0M104.5 501.0h0M166.7 494.7h0M154.6 485.0h0M141.7 488.7h0M133.9 499.8h0M112.6 495.4h0M144.2 495.4h0M127.8 496.8h0M167.9 495.3h0M110.7 489.5h0M138.0 492.2h0M143.3 501.5h0M134.6 491.7h0M147.6 485.8h0M141.1 498.8h0M128.7 496.1h0M162.2 488.6h0M158.8 499.4h0M156.7 501.1h0M142.7 489.2h0M131.5 497.0h0M153.1 483.4h0M129.0 498.3h0M144.5 492.0h0M133.0 483.4h0M150.1 482.2h0M122.6 488.0h0M120.5 496.0h0M141.5 483.8h0M131.2 483.1h0M121.9 491.5h0M158.2 499.1h0M131.5 484.0h0M140.2 501.5h0M134.1 495.2h0M141.3 500.6h0M138.6 497.9h0M128.9 487.6h0M137.4 482.9h0M117.7 501.5h0M134.0 486.0h0M138.4 492.3h0M133.2 497.9h0M147.7 501.5h0M126.8 499.7h0M150.9 495.5h0M113.7 501.5h0M156.4 484.6h0M126.8 492.8h0M125.7 484.4h0M155.7 489.3h0M144.4 501.5h0M159.4 499.9h0M114.3 488.5h0M127.1 491.4h0M141.6 499.0h0M111.8 496.3h0M154.6 498.9h0M131.3 501.5h0M150.3 499.2h0M147.4 487.7h0M132.7 491.7h0M145.9 499.2h0M132.7 501.5h0M137.4 501.3h0M129.9 498.1h0M120.5 498.6h0M134.0 499.6h0M126.8 501.5h0M115.1 487.9h0M157.3 500.1h0M126.7 496.2h0M132.8 482.8h0M136.7 495.6h0M115.5 492.6h0M137.2 486.4h0M150.6 487.7h0M135.6 490.0h0M167.7 495.9h0M140.1 493.5h0M112.1 501.5h0M119.1 485.2h0M133.8 494.3h0M117.7 500.1h0M138.0 492.3h0M107.2 491.6h0M124.0 492.3h0M153.7 489.5h0M145.4 482.2h0M137.4 488.2h0M166.5 501.5h0M137.9 498.3h0M112.6 496.1h0M130.7 501.5h0M117.9 494.1h0M142.4 488.7h0M145.9 501.0h0M133.5 482.7h0M160.7 489.4h0M131.1 493.2h0M115.8 499.1h0M148.8 501.5h0M159.7 491.7h0M127.5 501.2h0M120.3 495.2h0M133.6 490.2h0M153.3 489.6h0M156.9 489.3h0M133.6 501.5h0M104.4 498.3h0M114.8 499.5h0M133.6 482.0h0M162.2 492.5h0M125.8 486.8h0M152.7 501.5h0M136.6 486.3h0M126.1 484.9h0M118.4 500.7h0M134.2 489.9h0M129.5 490.9h0M137.5 498.8h0M132.7 485.5h0M131.8 482.5h0M119.2 484.7h0M125.8 494.6h0M113.9 491.6h0M119.6 488.1h0M130.1 498.8h0M137.5 487.3h0M156.5 501.5h0M133.0 498.3h0M103.2 501.5h0M114.0 488.5h0M132.3 493.3h0M128.9 498.7h0M136.2 501.5h0M130.9 493.7h0M102.5 501.5h0M146.5 493.0h0M119.1 500.6h0M128.3 493.1h0M139.7 500.8h0M141.2 498.5h0M139.8 496.9h0M135.3 497.7h0M140.2 487.9h0M127.5 496.5h0M148.5 494.9h0M109.6 490.8h0M131.4 496.7h0M133.4 486.1h0M114.0 488.4h0M139.7 493.8h0M163.5 497.5h0M127.2 484.2h0M129.3 489.3h0M144.7 492.3h0M117.6 488.3h0M139.2 483.6h0M140.2 498.6h0M129.2 484.4h0M157.0 501.5h0M135.0 486.9h0M161.6 488.5h0M139.0 501.4h0M155.6 495.6h0M134.0 485.0h0M138.0 497.8h0M143.6 483.3h0M134.9 497.8h0M107.2 501.5h0M136.9 486.3h0M145.8 489.5h0M166.3 500.7h0M143.7 499.6h0M143.2 486.1h0M116.9 501.5h0M130.3 498.4h0M114.8 497.0h0M132.4 492.7h0M148.4 484.4h0M127.7 501.5h0M130.0 492.4h0M127.7 489.2h0M148.8 501.2h0M135.6 498.3h0M150.8 496.9h0M131.2 494.9h0M155.5 489.0h0M126.7 482.5h0M136.5 489.3h0M137.4 489.3h0M115.2 499.5h0M130.2 500.6h0M107.5 494.0h0M166.1 495.2h0M120.9 495.9h0M142.9 494.0h0M148.5 488.4h0M117.0 501.5h0M149.2 487.4h0M125.6 493.0h0M143.2 491.1h0M131.6 482.5h0M156.2 483.6h0M168.3 496.1h0M161.2 501.5h0M138.2 496.6h0M150.7 500.3h0M145.6 499.6h0M153.9 499.8h0M161.8 493.1h0M113.0 497.5h0M164.8 495.4h0M136.4 493.9h0M109.8 499.6h0M145.9 498.5h0M134.5 501.5h0M138.5 500.1h0M133.6 491.4h0M114.6 497.4h0M135.6 492.9h0M143.9 501.5h0M149.4 495.1h0M121.9 490.9h0M139.1 488.7h0M145.3 485.7h0M136.0 483.2h0M121.9 484.3h0M131.3 494.1h0M132.2 488.5h0M138.9 497.4h0M146.6 498.1h0M146.4 496.5h0M136.3 488.2h0M118.7 486.5h0M110.1 489.0h0M112.1 489.1h0M160.7 488.1h0M161.5 500.6h0M113.2 496.9h0M128.3 494.5h0M143.5 495.7h0M121.4 498.0h0M123.8 491.2h0M152.1 489.4h0M144.8 499.1h0M138.1 482.8h0M140.4 489.1h0M137.9 496.1h0M142.1 497.9h0M156.2 483.4h0M149.2 501.4h0M113.3 501.2h0M131.9 501.5h0M141.7 486.5h0M100.7 498.4h0M125.5 495.1h0M129.0 482.6h0M109.0 496.1h0M162.3 501.5h0M166.7 498.6h0M123.4 488.7h0M148.5 492.8h0M136.1 483.8h0M137.5 492.8h0M130.6 491.1h0M124.5 499.3h0M144.1 491.9h0M152.1 494.7h0M133.6 500.7h0M119.7 496.4h0M154.2 499.3h0M143.8 486.0h0M104.7 498.0h0M111.0 499.3h0M124.6 482.0h0M129.9 497.0h0M131.6 501.5h0M134.6 500.2h0M142.4 483.4h0M157.7 501.5h0M145.6 483.9h0M132.4 484.2h0M134.3 485.5h0M133.0 497.5h0M152.4 501.3h0M131.5 492.5h0M141.5 487.5h0M148.5 490.5h0M144.3 486.3h0M132.9 487.3h0M122.9 492.4h0M121.7 501.5h0M119.0 488.8h0M131.8 490.6h0M136.4 492.6h0M137.9 487.3h0M101.1 498.1h0M146.3 483.5h0M125.4 493.4h0M140.6 482.2h0M131.4 490.5h0M160.4 500.4h0M154.1 487.5h0M145.2 500.7h0M115.7 501.5h0M135.2 490.4h0M132.5 484.1h0M154.8 498.6h0M147.2 500.4h0M137.4 496.6h0M137.5 501.5h0M146.6 488.1h0M128.1 487.7h0M100.2 496.8h0M133.6 496.8h0M148.9 501.5h0M107.3 492.9h0M136.3 501.0h0M125.7 496.0h0M138.1 501.5h0M154.3 486.5h0M104.1 496.4h0M137.5 495.2h0M167.7 493.5h0M128.8 492.2h0M117.4 495.4h0M135.9 483.9h0M158.2 492.3h0M132.0 484.6h0M142.1 490.7h0M123.7 495.9h0M132.5 501.5h0M150.2 498.2h0M140.5 498.0h0M136.4 500.1h0M156.6 498.4h0M136.3 498.8h0M137.1 494.0h0M151.1 490.0h0M121.1 493.8h0M120.4 482.4h0M156.9 493.2h0M115.4 498.0h0M141.1 484.4h0M127.0 492.5h0M138.5 485.7h0M132.9 491.7h0M141.7 497.5h0M117.0 493.0h0M128.4 495.9h0M155.1 487.1h0M127.9 484.4h0M121.2 501.5h0M135.1 501.5h0M139.7 487.0h0M149.9 485.9h0M133.4 501.5h0M109.1 494.8h0M119.0 491.6h0M144.3 498.4h0M134.6 484.0h0M129.3 482.1h0M126.8 493.3h0M146.9 499.3h0M129.0 497.2h0M142.9 496.6h0M142.6 491.8h0M152.3 485.6h0M144.3 488.9h0M146.4 499.7h0M113.4 486.1h0M160.0 501.1h0M137.1 494.5h0M136.7 501.1h0M114.7 499.7h0M167.5 500.1h0M112.7 500.2h0M152.0 498.8h0M139.0 498.6h0M140.3 482.6h0M122.1 485.7h0M165.4 499.0h0M121.9 482.2h0M143.1 500.2h0M145.9 494.8h0M122.5 488.5h0M122.8 495.9h0M168.5 497.9h0M111.2 499.2h0M144.5 498.3h0M120.5 500.4h0M164.4 498.0h0M131.9 496.0h0M150.4 492.6h0M154.0 495.4h0M134.9 500.2h0M138.1 501.2h0M131.8 488.0h0M146.2 496.6h0M156.2 491.6h0M146.7 484.2h0M163.4 497.8h0M138.9 495.4h0M136.1 496.0h0M152.8 498.3h0M112.9 490.5h0M158.9 486.7h0M151.8 484.8h0M134.6 493.0h0M132.5 498.2h0M151.4 498.8h0M115.9 484.5h0M128.0 491.5h0M167.1 495.5h0M130.2 501.5h0M166.6 493.3h0M140.4 486.6h0M147.0 486.9h0M143.6 487.6h0M145.9 493.1h0M141.4 500.1h0M143.8 499.5h0M146.1 501.0h0M141.2 493.3h0M155.9 500.4h0M133.4 501.5h0M153.0 485.7h0M125.8 493.0h0M151.2 485.5h0M128.6 501.5h0M140.9 494.1h0M133.5 497.0h0M130.8 501.5h0M147.4 483.6h0M121.8 496.0h0M141.9 486.5h0M142.0 498.4h0M150.0 495.2h0M130.7 500.5h0M120.5 499.8h0M142.2 497.6h0M150.9 483.6h0M150.7 501.5h0M153.4 488.3h0M111.7 499.2h0M117.7 492.3h0M131.8 501.4h0M131.8 501.5h0M156.9 487.5h0M155.6 489.1h0M128.3 500.7h0M134.5 499.4h0M154.6 489.3h0M138.1 483.9h0M154.6 497.1h0M128.3 493.5h0M127.5 490.9h0M148.6 490.2h0M164.4 492.8h0M139.2 492.4h0M149.2 495.4h0M139.0 491.6h0M150.0 483.6h0M142.0 489.4h0M138.3 498.8h0M111.2 501.5h0M123.2 491.3h0M138.6 489.9h0M119.3 486.7h0M146.2 501.2h0M149.8 490.7h0M166.3 497.1h0M126.4 497.5h0M111.7 494.0h0M150.3 495.2h0M114.4 496.3h0M115.6 485.6h0M156.9 501.3h0M127.4 486.3h0M116.7 499.3h0M121.9 487.8h0M130.9 483.0h0M128.8 501.5h0M133.4 486.1h0M127.3 487.3h0M140.9 494.6h0M141.8 500.9h0M141.2 499.0h0M104.9 495.5h0M128.1 483.7h0M155.3 490.8h0M145.9 493.0h0M119.9 493.0h0M145.4 487.5h0M114.5 495.0h0M130.8 483.0h0M144.8 500.2h0M143.4 501.5h0M128.1 500.6h0M133.8 501.5h0M160.0 489.6h0M154.5 499.7h0M147.0 500.0h0M132.4 489.6h0M140.6 486.7h0M120.9 498.6h0M136.6 493.8h0M137.0 498.2h0M144.2 492.2h0M137.9 501.5h0M151.7 489.8h0M144.7 488.9h0M147.6 500.4h0M119.3 483.2h0M151.2 485.6h0M139.0 501.5h0M157.2 487.3h0M147.8 501.5h0M123.2 488.9h0M142.1 483.8h0M152.3 492.5h0M155.1 500.1h0M137.6 491.0h0M129.7 495.5h0M130.6 501.5h0M136.1 501.1h0M142.6 487.6h0M107.4 501.5h0M129.0 493.6h0M137.6 490.9h0M127.9 491.3h0M134.7 501.5h0M137.3 487.0h0M151.8 494.2h0M125.3 496.7h0M154.0 490.0h0M129.2 501.4h0M134.8 484.2h0M127.6 499.1h0M145.0 483.0h0M143.6 497.8h0M129.2 490.2h0M129.7 498.1h0M153.5 493.5h0M140.0 499.8h0M121.1 489.2h0M148.7 501.3h0M115.0 501.5h0M140.9 483.6h0M156.2 494.0h0M128.1 499.2h0M137.9 497.8h0M122.4 488.1h0M148.4 495.6h0M134.8 497.6h0M113.3 496.9h0M141.1 483.2h0M125.7 498.6h0M109.3 498.6h0M133.0 498.0h0M115.8 499.8h0M124.7 483.2h0M150.3 491.5h0M141.6 492.4h0M159.7 495.4h0M125.1 497.6h0M144.2 490.0h0M119.4 501.5h0M141.6 495.3h0M126.2 498.6h0M148.2 493.8h0M131.0 483.9h0M149.4 485.6h0M123.4 498.2h0M143.5 494.9h0M131.5 488.4h0M125.1 485.6h0M163.1 499.2h0M116.9 485.9h0M126.8 483.2h0M125.6 501.4h0M128.7 494.3h0M163.3 492.6h0M146.0 499.5h0M132.9 486.3h0M131.7 499.1h0M111.7 499.9h0M133.4 497.1h0M140.8 498.2h0M147.3 501.5h0M152.2 501.5h0M147.0 501.5h0M120.9 493.7h0M127.2 487.3h0M123.7 490.4h0M115.9 501.5h0M108.5 498.7h0M110.5 495.4h0M137.2 488.1h0M118.3 496.1h0M167.0 493.4h0M130.6 486.4h0M112.1 496.4h0M140.7 488.4h0M139.7 490.7h0M115.7 499.9h0M127.0 493.5h0M147.4 485.0h0M131.2 501.3h0M136.3 485.5h0M128.4 491.0h0M132.4 501.5h0M128.7 488.3h0M140.3 501.4h0M107.5 493.2h0M149.2 501.0h0M149.1 490.8h0M137.7 482.3h0M141.8 483.6h0M137.0 488.0h0M128.1 498.4h0M114.5 490.7h0M137.1 485.0h0M148.4 491.4h0M148.0 484.7h0M138.5 485.3h0M139.8 501.5h0M129.0 501.5h0M150.2 499.2h0M167.4 495.9h0M142.2 494.2h0M129.9 498.0h0M143.1 495.9h0M133.5 501.5h0M118.2 487.8h0M125.2 491.9h0M116.0 500.9h0M124.2 500.9h0M151.4 501.4h0M121.3 484.6h0M141.8 499.8h0M125.8 498.0h0M156.2 488.7h0M148.1 501.4h0M141.2 492.2h0M140.4 491.9h0M121.4 499.3h0M131.0 485.2h0M154.0 482.3h0M150.5 498.8h0M117.3 490.2h0M149.4 485.6h0M141.9 485.3h0M108.0 499.8h0M128.4 495.1h0M112.5 499.6h0M168.4 501.5h0M156.7 500.2h0M168.1 493.5h0M128.3 488.3h0M141.5 485.6h0M162.1 489.7h0M138.4 501.5h0M160.2 494.8h0M112.1 494.4h0M123.9 493.6h0M117.5 498.9h0M145.2 485.7h0M140.3 499.9h0M119.8 495.5h0M158.8 490.7h0M105.9 492.2h0M118.7 499.0h0M108.2 495.0h0M159.7 501.5h0M118.1 484.9h0M125.5 487.1h0M149.2 499.4h0M148.9 482.5h0M140.1 492.9h0M158.3 496.2h0M115.3 501.0h0M142.5 493.1h0M138.1 501.5h0M127.3 482.8h0M136.9 483.1h0M122.4 500.5h0M142.4 500.4h0M126.4 486.3h0M148.9 500.4h0M125.4 486.2h0M135.5 491.2h0M106.3 500.0h0M132.9 493.7h0M140.8 497.7h0M132.2 487.2h0M141.7 497.4h0M154.4 500.2h0M127.0 492.1h0M139.9 501.5h0M119.3 501.5h0M123.7 501.1h0M146.8 482.9h0M141.5 492.4h0M110.8 490.3h0M147.1 490.7h0M154.0 501.0h0M142.8 494.5h0M145.9 493.7h0M146.6 501.5h0M144.1 488.2h0M132.6 501.5h0M147.0 501.5h0M128.8 494.5h0M162.7 494.5h0M108.9 501.5h0M161.3 500.0h0M144.8 501.5h0M127.7 501.5h0M151.1 493.5h0M130.7 489.1h0M117.9 498.3h0M138.5 485.5h0M129.1 492.0h0M130.0 493.1h0M127.7 498.5h0M133.6 498.4h0M140.7 490.0h0M124.4 489.9h0M144.5 489.0h0M136.0 500.9h0M120.4 496.0h0M123.1 497.6h0M152.6 492.1h0M116.8 501.5h0M120.6 485.2h0M135.0 483.1h0M133.0 489.8h0M157.7 496.4h0M164.5 501.5h0M141.4 493.9h0M134.9 501.5h0M123.7 485.5h0M134.6 501.5h0M139.9 497.4h0M148.6 482.4h0M132.5 498.9h0M131.7 486.0h0M103.9 499.0h0M122.9 493.7h0M148.0 497.9h0M116.7 501.2h0M144.7 490.3h0M124.8 501.5h0M148.1 493.0h0M151.8 500.1h0M148.3 490.7h0M121.3 492.9h0M130.2 501.5h0M135.1 493.3h0M131.9 495.4h0M143.1 500.5h0M102.3 498.9h0M162.1 500.9h0M120.6 487.8h0M115.8 494.0h0M106.9 501.5h0M108.4 490.2h0M141.1 495.1h0M135.0 489.4h0M102.6 498.2h0M121.3 490.6h0M148.3 501.5h0M116.8 495.2h0M162.2 499.2h0M132.9 500.9h0M148.8 501.0h0M131.1 497.8h0M135.7 488.4h0M135.0 482.7h0M159.1 493.1h0M132.3 489.7h0M127.4 499.2h0M148.2 482.4h0M117.4 486.5h0M168.4 500.7h0M132.7 488.9h0M130.3 499.7h0M107.4 499.9h0M129.2 501.5h0M121.2 501.5h0M146.2 501.5h0M162.1 488.5h0M121.4 496.3h0M136.3 483.9h0M124.1 493.0h0M121.7 490.0h0M132.3 488.1h0M117.7 501.5h0M127.7 490.6h0M164.8 493.0h0M134.4 496.8h0M132.9 501.5h0M118.6 482.9h0M146.5 484.3h0M145.3 493.5h0M126.7 497.5h0M159.7 501.5h0M153.3 501.3h0M139.1 501.3h0M140.7 488.6h0M136.2 501.4h0M105.8 492.4h0M135.4 501.5h0M136.8 501.5h0M138.4 499.5h0M140.6 500.3h0M137.3 485.6h0M140.3 492.5h0M155.1 492.1h0M146.5 501.2h0M121.1 499.8h0M125.2 491.2h0M123.9 492.9h0M162.8 498.9h0M110.9 501.1h0M146.3 492.4h0M125.9 501.5h0M149.6 493.4h0M123.4 498.2h0M155.6 493.5h0M148.7 484.0h0M140.3 496.9h0M147.6 487.1h0M144.5 500.4h0M120.4 500.0h0M136.1 491.8h0M123.0 494.1h0M130.7 493.5h0M120.7 482.9h0M133.3 492.7h0M131.4 501.5h0M102.2 499.9h0M144.8 472.6h0M132.3 435.1h0M139.6 480.2h0M143.0 443.4h0M142.6 440.6h0M142.7 448.1h0M142.7 461.2h0M142.0 416.2h0M134.6 479.5h0M141.8 433.0h0M141.9 455.7h0M133.2 444.8h0M133.8 469.0h0M141.9 463.8h0M140.3 456.3h0M133.7 472.1h0M130.0 476.8h0M129.6 481.3h0M130.4 479.6h0M133.0 479.5h0M131.9 462.4h0M134.5 458.3h0M132.8 469.4h0M135.4 475.3h0M130.8 460.5h0M130.5 476.9h0M135.1 472.8h0M133.9 430.2h0M138.9 433.5h0M135.1 407.3h0M140.3 442.8h0M139.5 473.1h0M145.0 467.5h0M130.2 473.7h0M142.4 430.0h0M137.1 468.6h0M139.6 461.0h0M144.6 481.1h0M134.5 478.3h0M135.2 468.3h0M138.2 442.6h0M140.8 479.6h0M136.1 462.2h0M143.7 475.7h0M131.4 451.1h0M137.3 471.1h0M133.5 480.3h0M141.4 409.9h0M142.5 481.9h0M130.2 472.2h0M132.4 475.1h0M142.9 451.7h0M140.2 445.8h0M140.7 466.3h0M140.8 475.0h0M143.2 471.0h0M132.2 478.8h0M135.0 464.1h0M131.4 451.6h0M133.7 466.4h0M130.3 472.9h0M131.9 480.3h0M135.5 472.8h0M141.5 473.5h0M130.9 465.8h0M143.5 481.8h0M138.2 478.4h0M135.7 463.1h0M131.6 480.0h0M140.0 464.4h0M139.8 461.1h0M130.0 436.2h0M138.1 457.9h0M132.1 473.5h0M144.4 475.2h0M137.2 465.5h0M129.0 470.7h0M129.0 475.2h0M142.2 423.9h0M132.7 477.9h0M130.4 460.6h0M141.8 459.0h0M132.4 454.5h0M133.9 481.2h0M143.1 481.2h0M145.0 461.6h0M143.8 481.0h0M134.2 455.9h0M141.5 468.7h0M129.2 384.0h0M136.4 481.7h0M142.1 466.4h0M134.4 377.3h0M138.5 472.4h0M136.7 479.9h0M135.0 441.2h0M138.2 453.4h0M138.3 477.4h0M139.2 473.8h0M131.3 398.0h0M133.7 456.8h0M144.0 472.9h0M138.9 468.4h0M136.7 471.3h0M138.3 435.1h0M135.9 477.4h0M138.4 475.1h0M135.4 472.9h0M138.7 461.2h0M142.3 477.7h0M131.7 470.7h0M141.0 454.2h0M131.5 468.4h0M131.2 453.5h0M138.1 432.9h0M130.5 478.9h0M137.1 469.5h0M131.7 464.4h0M134.9 463.1h0M133.8 460.5h0M140.0 468.0h0M130.9 480.3h0M140.0 479.8h0M136.6 468.4h0M131.0 454.9h0M140.9 470.8h0M138.6 403.8h0M132.6 426.2h0M129.9 469.4h0M134.0 477.5h0M136.9 444.0h0M143.2 473.3h0M131.2 435.5h0M142.4 466.6h0M139.5 459.6h0M140.6 464.0h0M139.4 453.1h0M132.9 469.5h0M145.0 411.4h0M145.0 446.3h0M129.7 446.1h0M141.9 429.6h0M132.1 480.9h0M134.1 477.3h0M136.6 440.3h0M128.3 444.8h0M129.8 463.1h0M133.0 426.6h0M145.0 481.6h0M129.0 479.4h0M143.5 467.9h0M144.8 479.5h0M144.0 430.8h0M129.5 461.7h0M136.9 460.8h0M136.4 462.8h0M142.5 481.3h0M132.8 441.8h0M137.8 480.0h0M144.1 479.3h0M132.1 457.4h0M135.3 479.5h0M130.1 468.6h0M132.1 448.2h0M141.8 470.5h0M134.3 471.5h0M141.0 479.2h0M132.4 430.8h0M141.7 469.1h0M130.1 472.2h0M136.2 478.5h0M130.5 477.1h0M135.6 478.5h0M130.4 474.7h0M139.2 464.9h0M133.0 478.6h0M135.8 480.9h0M134.4 466.4h0M129.1 468.9h0M143.0 387.3h0M143.3 479.3h0M141.5 467.4h0M133.6 477.1h0M144.5 443.8h0M139.0 471.4h0M141.8 426.3h0M133.9 476.5h0M142.7 465.2h0M130.9 448.9h0M132.6 471.8h0M142.8 468.4h0M138.4 481.8h0M133.7 464.6h0M140.3 481.9h0M129.5 476.8h0M142.7 477.4h0M136.1 475.7h0M131.5 399.7h0M135.7 481.0h0M129.8 461.8h0M142.5 474.1h0M130.1 431.8h0M138.7 451.4h0M133.2 461.4h0M141.1 463.5h0M142.1 454.3h0M143.6 464.0h0M132.7 474.2h0M144.6 454.8h0M143.2 448.6h0M144.2 479.6h0M143.1 471.9h0M130.4 456.8h0M135.2 440.3h0M130.1 423.4h0M130.6 480.6h0M130.4 479.3h0M129.4 463.7h0M143.5 465.9h0M140.7 475.9h0M135.7 476.2h0M132.4 450.5h0M135.4 474.5h0M138.7 424.7h0M128.6 431.6h0M130.2 476.0h0M135.6 476.6h0M136.2 392.6h0M131.0 479.6h0M132.0 444.0h0M138.3 409.1h0M130.4 443.9h0M135.6 431.1h0M134.0 450.0h0M136.8 472.8h0M129.8 370.7h0M143.4 453.0h0M128.3 465.9h0M139.0 461.0h0M137.0 469.9h0M142.6 471.2h0M139.1 478.8h0M129.1 479.4h0M132.4 429.4h0M137.7 458.9h0M143.3 408.6h0M143.6 446.6h0M133.5 479.2h0M137.2 481.0h0M131.7 478.8h0M142.0 477.7h0M141.4 443.3h0M133.1 407.9h0M130.7 414.9h0M133.3 475.8h0M135.7 469.8h0M142.0 439.9h0M135.2 471.9h0M142.0 464.7h0M130.9 372.0h0M130.7 478.5h0M141.1 471.1h0M137.7 462.5h0M133.5 431.1h0M132.6 392.0h0M133.0 440.0h0M130.7 426.2h0M140.2 450.7h0M141.2 461.2h0M129.2 468.0h0M142.8 477.5h0M142.5 456.6h0M141.5 450.5h0M132.3 407.8h0M130.4 479.9h0M131.5 470.0h0M138.2 468.5h0M130.2 460.7h0M133.6 464.3h0M134.9 476.3h0M140.3 467.0h0M138.6 472.5h0M134.2 474.2h0M128.9 391.9h0M143.1 436.0h0M133.1 401.1h0M130.1 468.4h0M135.0 449.6h0M139.6 481.6h0M140.2 481.2h0M141.0 431.0h0M128.8 454.1h0M136.2 438.9h0M141.9 478.3h0M131.9 455.6h0M136.9 443.9h0M135.1 478.7h0M135.1 446.3h0M129.7 411.3h0M129.9 475.2h0M142.9 467.4h0M138.3 481.4h0M138.1 479.8h0M136.5 453.4h0M139.7 442.2h0M135.8 469.9h0M140.5 481.3h0M134.2 408.5h0M139.8 477.0h0M133.4 474.5h0M135.6 455.0h0M139.6 421.5h0M137.9 462.8h0M142.8 480.9h0M129.5 432.3h0M136.5 478.0h0M135.3 467.4h0M139.3 471.4h0M130.6 462.3h0M142.7 476.3h0M142.1 462.1h0M141.5 478.9h0M129.8 464.6h0M137.7 466.3h0M128.5 429.5h0M137.1 428.9h0M130.3 456.9h0M138.3 479.2h0M136.2 467.5h0M133.2 481.6h0M133.5 476.0h0M136.1 470.7h0M132.5 449.0h0M132.1 471.5h0M132.2 469.8h0M130.8 477.7h0M141.3 462.3h0M136.2 475.2h0M132.9 450.5h0M135.7 480.7h0M131.1 470.4h0M142.1 467.0h0M137.6 442.2h0M132.3 472.1h0M133.9 476.3h0M131.5 459.6h0M131.4 472.6h0M132.4 473.9h0M130.4 463.3h0M132.9 461.4h0M136.3 423.7h0M133.2 463.8h0M139.0 481.5h0M133.4 450.7h0M131.1 469.7h0M131.7 446.8h0M135.8 461.1h0M141.0 474.3h0M136.4 433.5h0M129.3 462.1h0M130.0 471.4h0M140.9 475.6h0M140.7 481.0h0M140.3 442.0h0M142.1 449.0h0M132.8 463.4h0M134.7 470.4h0M135.7 469.1h0M139.2 445.4h0M133.6 480.7h0M141.0 472.5h0M135.8 479.1h0M142.0 481.7h0M142.6 448.1h0M133.0 472.2h0M143.4 422.8h0M136.8 462.7h0M131.0 437.3h0M130.8 478.5h0M133.2 421.4h0M142.2 471.8h0M134.3 477.7h0M134.8 479.3h0M144.4 465.7h0M138.0 471.4h0M141.7 470.8h0M130.6 473.7h0M133.9 450.4h0M129.2 473.4h0M139.5 470.7h0M140.8 477.9h0M136.4 426.8h0M143.2 461.6h0M143.0 396.1h0M134.6 386.5h0M129.9 435.3h0M130.6 477.0h0M129.9 475.9h0M131.8 456.8h0M132.9 431.5h0M142.7 426.7h0M142.3 479.9h0M129.3 472.1h0M135.4 480.0h0M134.4 456.5h0M139.0 453.4h0M131.9 472.2h0M141.4 480.3h0M132.1 449.0h0M140.8 469.7h0M137.1 472.5h0M129.0 426.0h0M129.8 445.3h0M135.7 481.9h0M133.7 468.4h0M133.8 465.6h0M130.4 481.4h0M132.7 471.5h0M144.4 392.3h0M133.0 477.2h0M141.1 398.8h0M139.3 402.3h0M133.2 423.8h0M132.4 405.4h0M137.2 431.5h0M136.3 416.9h0M140.3 365.0h0M136.5 429.3h0M138.6 390.5h0M136.2 392.6h0M142.5 416.5h0M135.4 379.1h0M131.0 383.5h0M132.6 413.2h0M142.1 377.3h0M136.2 379.5h0M132.6 389.4h0M138.4 365.5h0M142.9 395.6h0M133.6 421.2h0M144.2 426.4h0M134.1 392.6h0M130.7 365.4h0M140.4 370.9h0M136.8 385.0h0M130.1 373.3h0M142.8 397.7h0M139.9 417.9h0M134.3 404.7h0M141.4 363.3h0M132.7 364.5h0M140.1 423.6h0M141.8 412.5h0M130.5 404.2h0M131.6 368.0h0M132.9 416.2h0M131.1 398.5h0M137.6 417.1h0M140.7 365.8h0M132.4 414.8h0M133.0 403.2h0M136.5 408.2h0M138.3 367.3h0M138.6 425.0h0M137.5 394.6h0M137.5 415.3h0M135.7 410.0h0M138.8 361.3h0M136.6 408.1h0M131.0 423.8h0M133.7 393.2h0M139.5 405.5h0M142.3 361.6h0M135.4 371.7h0M137.7 416.9h0M132.1 398.2h0M140.1 405.9h0M139.9 381.1h0M130.6 406.8h0M139.6 374.8h0M131.9 386.0h0M134.9 364.0h0M138.1 362.5h0M142.0 394.7h0M134.8 414.4h0M134.0 426.4h0M144.8 373.1h0M139.8 423.8h0M144.2 396.0h0M139.3 418.0h0M135.0 320.0h0M138.3 320.0h0M137.5 333.5h0M135.0 341.0h0M136.7 344.0h0M139.2 348.5h0M134.1 351.5h0M138.3 357.5h0M140.0 342.5h0M135.8 335.0h0M57.5 501.5h0M70.0 501.5h0M75.8 501.5h0M81.6 501.5h0M88.3 501.5h0M95.0 501.5h0M97.5 501.5h0M100.0 501.5h0M171.7 501.5h0M174.2 501.5h0M178.3 501.5h0M180.8 501.5h0M186.7 501.5h0M192.5 501.5h0M197.5 501.5h0M205.0 501.5h0M218.3 501.5h0M185.0 501.5h0M186.7 484.2h0M182.5 494.0h0M174.2 488.0h0" stroke="#bebebe" stroke-width="2.3" stroke-linecap="round" fill="none"/>
<path d="M122.1 449.0h0M122.1 474.5h0M126.8 442.2h0M121.0 474.3h0M125.2 467.2h0M115.8 449.7h0M126.5 473.6h0M121.1 470.6h0M126.0 460.1h0M127.4 478.7h0M122.6 445.0h0M122.8 471.8h0M119.5 478.0h0M128.3 470.1h0M124.9 471.4h0M121.7 480.3h0M124.0 441.5h0M125.5 467.7h0M124.7 474.5h0M122.6 439.7h0M121.7 465.5h0M120.3 461.8h0M125.3 480.3h0M125.2 462.8h0M126.8 451.4h0M125.3 455.3h0M122.2 466.6h0M116.0 461.8h0M119.9 481.3h0M121.9 470.0h0M124.2 471.0h0M125.4 480.5h0M117.9 450.8h0M117.6 478.7h0M126.8 475.8h0M109.1 442.6h0M120.2 465.0h0M125.9 478.7h0M122.3 459.9h0M121.0 474.9h0M120.7 481.7h0M125.3 475.5h0M124.3 476.8h0M121.3 481.5h0M118.0 476.4h0M123.4 467.6h0M126.4 463.6h0M122.3 477.2h0M120.8 474.4h0M127.2 471.4h0M125.6 472.7h0M128.0 467.5h0M123.8 471.4h0M119.6 459.3h0M119.0 471.5h0M126.0 474.8h0M116.9 476.8h0M121.4 480.0h0M117.1 455.1h0M123.6 468.2h0M118.7 456.9h0M121.0 465.3h0M126.6 477.3h0M125.6 474.5h0M126.7 479.6h0M121.8 479.6h0M119.2 453.2h0M116.2 471.0h0M124.9 463.9h0M125.9 475.4h0M122.4 447.2h0M128.2 466.2h0M117.8 445.2h0M123.5 481.7h0M121.7 439.6h0M121.8 476.4h0M121.7 481.5h0M116.7 478.9h0M119.7 480.0h0M125.2 456.2h0M115.8 442.8h0M124.4 470.8h0M121.0 471.8h0M115.8 480.1h0M126.1 458.7h0M117.5 453.1h0M126.6 479.0h0M117.4 481.8h0M124.1 470.5h0M124.4 467.3h0M123.3 455.3h0M128.2 455.1h0M122.0 468.2h0M125.4 481.7h0M120.2 454.9h0M120.6 462.9h0M128.3 440.2h0M121.0 470.8h0M126.2 475.7h0M119.3 479.0h0M120.6 480.5h0M118.2 473.2h0M125.9 465.6h0M120.3 459.5h0M123.3 482.0h0M127.5 475.4h0M123.5 481.1h0M123.9 468.6h0M125.2 480.8h0M120.9 481.5h0M123.1 480.7h0M118.9 479.9h0M123.8 472.6h0M120.7 441.6h0M127.5 479.6h0M121.7 480.8h0M127.8 480.3h0M124.1 470.0h0M123.9 478.0h0M126.2 463.9h0M125.0 449.0h0M123.9 480.3h0M125.4 433.6h0M122.2 463.9h0M127.0 467.9h0M119.3 481.2h0M125.4 474.3h0M116.5 463.1h0M127.1 480.4h0M117.6 476.2h0M125.5 471.5h0M120.8 481.6h0M126.5 445.3h0M123.1 425.9h0M123.8 478.9h0M119.2 474.2h0M128.0 442.8h0M121.2 477.8h0M120.8 480.9h0M123.3 470.1h0M122.5 475.8h0M125.2 462.0h0M124.6 469.1h0M125.9 468.3h0M122.3 477.1h0M123.4 475.0h0M127.2 479.0h0M121.8 481.3h0M126.9 481.8h0M120.1 480.6h0M126.0 479.0h0M125.3 480.7h0M121.9 449.8h0M126.6 466.5h0M117.8 457.9h0M122.8 471.7h0M124.2 479.1h0M126.4 471.3h0M126.4 474.0h0M125.4 471.3h0M122.2 466.1h0M126.0 459.1h0M107.7 479.2h0M126.1 479.0h0M124.4 446.6h0M125.6 478.3h0M124.8 434.5h0M122.6 469.3h0M124.4 479.0h0M113.5 477.0h0M121.9 477.4h0M121.9 465.3h0M121.3 469.2h0M116.2 456.1h0M128.1 480.0h0M125.7 441.0h0M125.1 477.6h0M125.2 478.7h0M124.8 477.0h0M117.6 468.5h0M125.7 478.4h0M120.9 449.1h0M123.4 468.2h0M125.4 469.3h0M127.3 456.8h0M125.1 480.7h0M124.2 478.9h0M119.7 440.7h0M124.2 467.3h0M128.2 466.5h0M120.3 471.6h0M124.1 475.3h0M126.3 453.7h0M123.9 464.2h0M123.4 477.8h0M127.7 453.0h0M119.8 467.1h0M128.1 472.6h0M113.2 481.6h0M119.8 480.2h0M118.7 481.3h0M119.1 466.1h0M125.8 480.5h0M124.1 476.7h0M114.6 443.0h0M126.2 475.7h0M123.1 460.8h0M125.0 452.8h0M126.1 481.7h0M124.4 462.6h0M121.6 472.6h0M113.7 480.3h0M118.7 459.5h0M126.8 477.1h0M127.3 480.3h0M124.8 481.1h0M125.5 477.5h0M122.7 467.1h0M124.5 472.0h0M126.2 473.8h0M127.0 431.2h0M128.3 471.9h0M125.6 470.1h0M124.3 452.4h0M127.8 467.9h0M125.8 461.4h0M125.9 464.5h0M124.4 480.4h0M124.5 459.5h0M126.2 467.5h0M124.4 477.2h0M122.4 469.9h0M116.3 466.5h0M127.6 460.3h0M127.0 470.0h0M123.4 443.2h0M126.2 479.2h0M119.4 466.2h0M122.8 479.3h0M119.6 480.2h0M125.7 462.6h0M124.0 479.6h0M124.8 481.5h0M124.5 461.3h0M126.0 475.7h0M126.6 469.4h0M121.3 477.3h0M126.0 473.3h0M124.9 478.4h0M119.3 464.2h0M114.7 467.0h0M120.7 480.6h0M125.4 479.8h0M117.9 470.2h0M121.1 481.2h0M118.9 469.0h0M127.9 446.4h0M113.7 480.7h0M126.7 433.3h0M120.3 481.9h0M115.9 463.6h0M124.6 480.2h0M115.3 472.3h0M121.5 429.8h0M126.3 479.2h0M116.1 465.0h0M127.2 481.3h0M126.4 455.9h0M125.0 450.1h0M123.6 479.6h0M124.9 458.3h0M122.0 444.6h0M120.9 475.8h0M119.6 471.2h0M122.2 476.2h0M127.3 471.5h0M120.8 465.0h0M123.8 481.1h0M119.5 480.3h0M125.7 474.1h0M119.9 466.9h0M121.6 468.3h0M119.6 470.9h0M125.9 424.2h0M123.4 480.6h0M122.6 477.8h0M128.1 462.0h0M125.9 475.0h0M126.4 476.8h0M124.5 471.9h0M123.8 481.6h0M113.8 443.8h0M124.2 475.0h0M126.2 481.0h0M123.3 476.0h0M121.3 478.3h0M114.9 473.3h0M124.3 474.7h0M121.0 474.0h0M123.3 481.1h0M102.0 441.7h0M105.1 471.9h0M109.2 468.3h0M107.9 468.8h0M99.9 454.3h0M99.9 468.5h0M105.3 472.3h0M119.2 438.4h0M104.3 460.4h0M100.2 443.4h0M103.1 446.5h0M113.4 452.7h0M104.1 465.5h0M123.0 445.7h0M119.2 455.7h0M106.4 460.4h0M101.8 477.3h0M111.0 480.4h0M102.3 473.0h0M112.6 480.3h0M120.1 481.9h0M102.8 450.2h0M101.9 453.7h0M110.2 467.1h0M106.9 473.1h0M117.9 451.2h0M107.9 463.0h0M123.2 477.3h0M116.1 449.6h0M106.3 462.0h0M123.9 462.0h0M105.6 468.2h0M103.0 481.1h0M108.5 449.7h0M122.1 462.0h0M113.9 452.1h0M120.8 475.2h0M100.1 479.1h0M127.3 453.3h0M112.3 473.2h0M100.0 457.1h0M106.1 468.9h0M119.8 477.0h0M120.6 481.9h0M119.7 477.9h0M120.2 466.9h0M99.1 477.2h0M116.8 461.6h0M126.9 470.3h0M98.7 468.1h0M115.1 464.4h0M111.6 471.1h0M104.9 461.2h0M103.9 466.5h0M104.0 467.2h0M100.7 477.1h0M119.8 451.9h0M107.2 455.5h0M115.6 447.0h0M98.0 448.7h0M109.3 466.8h0M106.4 451.1h0M116.4 463.8h0M125.5 459.9h0M108.2 471.8h0M98.5 440.0h0M119.5 453.3h0M126.1 476.2h0M101.9 445.6h0M113.3 453.4h0M117.5 474.9h0M127.7 462.2h0M102.0 467.3h0M114.4 476.2h0M101.9 467.8h0M116.6 474.8h0M98.1 468.1h0M101.4 479.0h0M104.3 469.8h0M125.3 455.1h0M111.1 474.1h0M107.4 460.8h0M112.0 458.0h0M117.5 467.8h0M113.7 460.9h0M111.9 457.6h0M122.9 464.5h0M103.4 481.6h0M106.1 481.0h0M120.1 440.0h0M111.6 457.6h0M105.9 471.8h0M115.1 446.0h0M115.5 452.5h0M115.3 481.4h0M125.8 456.4h0M128.3 444.1h0M125.0 467.0h0M119.3 435.3h0M102.5 445.0h0M124.1 481.2h0M108.7 447.9h0M121.2 477.8h0M120.3 470.8h0M125.2 468.0h0M127.7 468.8h0M125.3 477.4h0M117.1 463.5h0M121.2 473.7h0M97.6 454.0h0M124.2 454.7h0M100.1 457.5h0M126.5 474.6h0M108.0 445.1h0M127.0 466.1h0M103.9 466.1h0M123.9 454.5h0M109.7 480.7h0M117.3 472.4h0M105.5 475.7h0M116.0 444.4h0M128.1 479.4h0M113.0 463.5h0M98.0 471.9h0M117.1 443.5h0M120.8 440.4h0M98.1 473.5h0M126.3 453.6h0M117.3 453.9h0M117.8 469.6h0M85.0 363.5h0M99.1 360.5h0M103.3 368.0h0M90.0 390.5h0M111.6 384.5h0M107.5 392.0h0M113.3 396.5h0M115.8 398.0h0M93.3 402.5h0M86.6 404.0h0M89.1 408.5h0M97.5 413.0h0M85.0 411.5h0M89.1 423.5h0M82.5 426.5h0M115.8 419.0h0M105.0 422.0h0M120.0 414.5h0M126.6 417.5h0M124.1 401.0h0M101.6 428.0h0M108.3 431.0h0M120.0 432.5h0M83.3 437.0h0M86.6 440.0h0M91.6 438.5h0M88.3 447.5h0M85.8 465.5h0M86.6 471.5h0M90.8 473.0h0M95.0 476.0h0M81.6 501.5h0M82.5 501.5h0M99.1 501.5h0" stroke="#f50f0f" stroke-width="2.3" stroke-linecap="round" fill="none"/>
<path d="M154.2 444.8h0M149.1 475.2h0M150.0 459.1h0M150.1 475.4h0M154.0 478.1h0M145.2 480.3h0M160.2 462.9h0M149.1 478.9h0M146.3 445.4h0M146.9 438.2h0M151.7 480.7h0M145.3 473.5h0M152.6 478.4h0M147.3 481.5h0M146.8 469.7h0M147.5 475.0h0M147.2 470.7h0M145.0 476.7h0M149.0 475.5h0M148.4 462.3h0M145.6 464.9h0M145.6 476.3h0M152.9 481.0h0M146.4 470.0h0M147.0 464.4h0M150.2 458.5h0M147.7 471.7h0M146.4 471.9h0M146.0 446.0h0M147.8 478.0h0M154.5 465.2h0M151.1 468.2h0M148.5 473.8h0M150.0 479.9h0M149.0 476.5h0M149.0 471.2h0M149.1 481.9h0M155.4 474.9h0M148.6 479.6h0M146.2 481.0h0M145.7 475.4h0M146.8 481.1h0M149.5 474.8h0M148.4 453.8h0M153.7 465.5h0M150.1 480.2h0M149.4 477.6h0M146.3 480.6h0M146.4 429.5h0M153.0 481.8h0M157.8 478.8h0M150.4 479.4h0M152.9 480.6h0M153.2 475.3h0M150.3 468.8h0M154.0 458.7h0M147.2 479.8h0M145.1 456.4h0M145.7 440.5h0M148.6 479.1h0M152.7 457.3h0M157.0 442.7h0M161.5 479.8h0M145.5 466.6h0M145.3 481.4h0M147.4 471.6h0M145.5 479.3h0M148.9 480.4h0M149.0 469.3h0M146.9 481.3h0M155.8 480.2h0M157.3 447.5h0M151.5 480.8h0M154.2 473.7h0M146.7 476.3h0M146.7 470.8h0M145.6 481.7h0M157.1 461.0h0M150.7 475.6h0M146.8 473.9h0M151.6 476.2h0M151.7 479.8h0M153.4 478.2h0M145.5 475.6h0M151.1 471.1h0M157.7 471.5h0M152.3 478.7h0M152.8 457.7h0M145.2 478.7h0M147.5 471.4h0M150.7 477.9h0M148.4 473.7h0M146.9 468.8h0M154.6 475.9h0M149.3 464.8h0M147.9 481.9h0M148.3 456.7h0M151.5 478.4h0M148.4 438.5h0M147.3 473.4h0M146.9 480.6h0M149.2 458.2h0M149.3 438.8h0M145.1 478.7h0M148.3 476.0h0M150.8 477.4h0M145.6 474.1h0M148.9 476.5h0M148.7 481.5h0M148.2 479.2h0M146.6 474.7h0M149.1 473.5h0M150.2 471.4h0M146.0 468.5h0M148.4 472.1h0M152.3 480.3h0M150.6 476.1h0M150.5 469.1h0M145.4 474.2h0M145.3 472.2h0M146.6 472.7h0M152.6 479.0h0M148.0 471.7h0M145.4 481.3h0M146.4 478.4h0M157.3 471.1h0M145.2 460.9h0M151.3 445.3h0M151.7 464.2h0M148.2 479.1h0M149.7 460.7h0M145.9 471.9h0M148.3 467.3h0M145.4 461.6h0M156.5 459.0h0M153.0 471.2h0M148.5 479.8h0M147.0 477.3h0M155.2 478.2h0M150.9 476.9h0M154.1 481.5h0M152.0 466.5h0M150.2 471.0h0M147.5 474.4h0M146.3 429.8h0M150.3 479.3h0M150.4 466.0h0M145.5 481.6h0M145.7 467.2h0M153.2 478.1h0M150.5 480.4h0M148.3 448.8h0M150.4 477.0h0M146.9 480.4h0M146.9 475.1h0M149.2 469.5h0M147.6 479.3h0M145.6 468.8h0M150.6 476.8h0M155.9 472.5h0M159.0 477.1h0M145.2 471.9h0M145.3 481.3h0M147.0 477.6h0M153.4 467.3h0M146.9 469.7h0M151.4 479.8h0M152.2 465.7h0M147.3 434.6h0M148.4 480.9h0M153.4 475.1h0M150.1 473.8h0M146.8 478.0h0M149.4 476.1h0M151.8 460.1h0M155.6 478.8h0M150.1 476.9h0M145.3 479.0h0M150.2 478.9h0M161.8 467.9h0M152.2 478.8h0M147.4 472.6h0M150.9 469.8h0M146.0 465.0h0M147.5 476.4h0M151.1 467.6h0M146.3 477.3h0M145.9 467.5h0M147.4 470.5h0M148.7 481.0h0M145.5 460.4h0M152.9 480.8h0M149.4 480.1h0M145.9 479.8h0M145.7 471.4h0M152.3 470.6h0M145.2 463.8h0M150.3 480.4h0M150.3 456.7h0M146.5 478.5h0M147.6 473.5h0M160.4 476.2h0M145.2 474.9h0M148.0 471.6h0M158.6 437.5h0M161.4 467.2h0M162.0 477.0h0M170.2 450.2h0M151.3 475.6h0M149.2 466.3h0M149.1 473.2h0M149.1 479.1h0M150.8 460.3h0M169.9 464.1h0M152.0 470.7h0M159.8 462.2h0M165.7 453.2h0M168.9 469.8h0M169.1 446.6h0M146.3 445.5h0M150.0 448.2h0M160.7 444.4h0M160.6 442.4h0M167.0 460.1h0M151.6 479.0h0M154.9 451.5h0M166.4 474.3h0M168.4 476.5h0M166.9 467.9h0M170.1 457.6h0M148.6 472.7h0M162.0 451.1h0M151.5 468.8h0M152.0 449.2h0M150.7 452.8h0M157.5 467.7h0M160.7 475.8h0M167.9 458.4h0M167.6 458.3h0M155.7 475.1h0M170.2 452.4h0M147.4 448.7h0M153.6 478.4h0M158.3 441.6h0M157.8 447.7h0M149.3 464.8h0M161.4 478.2h0M163.1 469.8h0M150.7 476.4h0M166.0 449.0h0M146.8 478.9h0M161.8 447.1h0M156.4 452.9h0M146.2 460.3h0M158.3 461.9h0M148.7 447.6h0M157.8 443.9h0M159.9 457.6h0M154.9 466.0h0M148.8 478.3h0M150.6 467.3h0M156.0 465.5h0M146.0 481.4h0M149.0 463.3h0M169.6 476.6h0M170.1 467.6h0M160.2 440.3h0M156.2 442.4h0M154.1 466.5h0M155.8 480.0h0M164.2 474.5h0M147.7 464.9h0M147.0 468.6h0M156.7 478.3h0M156.8 456.0h0M159.1 442.3h0M168.2 472.5h0M152.4 480.9h0M156.7 453.2h0M165.5 478.4h0M145.8 469.0h0M164.8 461.2h0M151.9 459.6h0M168.7 452.2h0M162.8 480.9h0M145.3 481.6h0M152.9 451.2h0M150.8 475.1h0M159.0 468.7h0M162.0 472.2h0M145.7 454.8h0M156.5 479.3h0M155.1 471.2h0M151.5 469.7h0M162.9 479.3h0M148.9 481.8h0M157.4 471.1h0M164.5 465.0h0M169.3 481.9h0M147.8 457.9h0M161.0 458.6h0M170.1 451.7h0M148.9 473.5h0M150.8 456.5h0M171.0 465.6h0M154.1 463.3h0M147.7 437.2h0M153.6 477.0h0M151.1 464.3h0M156.7 465.6h0M163.7 471.8h0M156.3 462.2h0M171.6 469.2h0M149.6 449.2h0M158.1 477.9h0M155.8 471.3h0M156.4 441.6h0M159.3 478.2h0M154.5 443.8h0M162.9 476.5h0M151.7 383.0h0M155.0 390.5h0M182.5 393.5h0M153.3 396.5h0M163.3 405.5h0M160.0 411.5h0M157.5 419.0h0M171.7 426.5h0M166.7 431.0h0M180.0 434.0h0M184.2 437.0h0M175.8 441.5h0M182.5 450.5h0M185.0 444.5h0M176.7 459.5h0M174.2 470.0h0M178.3 464.0h0M180.8 461.0h0M146.7 398.0h0M148.3 407.0h0M168.3 501.5h0" stroke="#3a14f0" stroke-width="2.3" stroke-linecap="round" fill="none"/>
<line x1="86.4" y1="364.2" x2="95.5" y2="386" stroke="#f01818" stroke-width="0.6"/>
<line x1="100" y1="361" x2="105" y2="364" stroke="#f01818" stroke-width="0.6"/>
<line x1="75" y1="383" x2="86.4" y2="401" stroke="#f01818" stroke-width="0.6"/>
<line x1="121" y1="390" x2="126.5" y2="402.8" stroke="#f01818" stroke-width="0.6"/>
<line x1="144" y1="388.5" x2="152" y2="403" stroke="#3a14f0" stroke-width="0.6"/>
<text x="71.8" y="359.6" font-size="5.6" fill="#f01818" textLength="31" lengthAdjust="spacingAndGlyphs">AC137834.1</text>
<text x="104" y="368.2" font-size="5.6" fill="#f01818" textLength="76" lengthAdjust="spacingAndGlyphs">STAG3L5P-PVRIG2P-PILRB</text>
<text x="47.3" y="383.3" font-size="5.6" fill="#f01818" textLength="31.5" lengthAdjust="spacingAndGlyphs">AC007192.1</text>
<text x="97.4" y="381.5" font-size="5.6" fill="#f01818" textLength="19" lengthAdjust="spacingAndGlyphs">ENOX2</text>
<text x="80.6" y="390.3" font-size="5.6" fill="#f01818" textLength="31" lengthAdjust="spacingAndGlyphs">AC137834.1</text>
<text x="115.6" y="389.2" font-size="5.6" fill="#f01818" textLength="13.3" lengthAdjust="spacingAndGlyphs">CLTA</text>
<text x="90.4" y="399" font-size="5.6" fill="#f01818" textLength="18.2" lengthAdjust="spacingAndGlyphs">RBM42</text>
<text x="126.8" y="396.2" font-size="5.6" fill="#f01818" textLength="25.6" lengthAdjust="spacingAndGlyphs">ANKRD27</text>
<text x="76" y="407.1" font-size="5.6" fill="#f01818" textLength="12.6" lengthAdjust="spacingAndGlyphs">MIB2</text>
<text x="72.5" y="424.2" font-size="5.6" fill="#f01818" textLength="21.4" lengthAdjust="spacingAndGlyphs">RPL23A</text>
<text x="133.1" y="388.5" font-size="5.6" fill="#3a14f0" textLength="17.6" lengthAdjust="spacingAndGlyphs">RPL22</text>
<text x="155.2" y="389.2" font-size="5.6" fill="#3a14f0" textLength="23.5" lengthAdjust="spacingAndGlyphs">ANKHD1</text>
<text x="157.7" y="396.6" font-size="5.6" fill="#3a14f0" textLength="26.3" lengthAdjust="spacingAndGlyphs">ZCCHC11</text>
<text x="150" y="404.3" font-size="5.6" fill="#3a14f0" textLength="10.5" lengthAdjust="spacingAndGlyphs">SP1</text>
<text x="181.5" y="405.3" font-size="5.6" fill="#3a14f0" textLength="15.5" lengthAdjust="spacingAndGlyphs">UBA1</text>
<text x="156" y="416.5" font-size="5.6" fill="#3a14f0" textLength="16.4" lengthAdjust="spacingAndGlyphs">MYRF</text>
<text x="168.2" y="431.3" font-size="5.6" fill="#3a14f0" textLength="14.8" lengthAdjust="spacingAndGlyphs">PHF1</text>
<text x="51.6" y="327.9" font-size="9.2" font-weight="bold" fill="#111" >P780L</text>
<text x="254.5" y="309.0" font-size="18.6" font-weight="bold" fill="#000" >D</text>
<text x="423.8" y="324.9" font-size="8.9" font-style="italic" fill="#111">siSF3B1</text>
<path d="M317.7,335.6 V329 H586.3 V335.6" fill="none" stroke="#111" stroke-width="0.9"/>
<text x="280.6" y="372.6" font-size="7.2" fill="#111" >L</text>
<text transform="translate(300.6,375.6) rotate(-45)" font-size="8.8" fill="#111">pCMV</text>
<text transform="translate(318.5,375.6) rotate(-45)" font-size="8.8" fill="#111">pCMV</text>
<text transform="translate(335.5,375.6) rotate(-45)" font-size="8.8" fill="#111">SF3B1<tspan font-size="5.7" dy="-3.1">WT</tspan></text>
<text transform="translate(353.4,375.6) rotate(-45)" font-size="8.8" fill="#111">SF3B1<tspan font-size="5.7" dy="-3.1">K700E</tspan></text>
<text transform="translate(371.5,375.6) rotate(-45)" font-size="8.8" fill="#111">SF3B1<tspan font-size="5.7" dy="-3.1">T703P</tspan></text>
<text transform="translate(388.9,375.6) rotate(-45)" font-size="8.8" fill="#111">SF3B1<tspan font-size="5.7" dy="-3.1">P780L</tspan></text>
<text transform="translate(406.7,375.6) rotate(-45)" font-size="8.8" fill="#111">SF3B1<tspan font-size="5.7" dy="-3.1">E902*</tspan></text>
<text transform="translate(424.2,375.6) rotate(-45)" font-size="8.8" fill="#111">SF3B1<tspan font-size="5.7" dy="-3.1">R939C</tspan></text>
<text transform="translate(441.4,375.6) rotate(-45)" font-size="8.8" fill="#111">SF3B1<tspan font-size="5.7" dy="-3.1">WT</tspan></text>
<text transform="translate(456.3,375.6) rotate(-45)" font-size="8.8" fill="#111">SF3B1<tspan font-size="5.7" dy="-3.1">K700E</tspan></text>
<text transform="translate(472.0,375.6) rotate(-45)" font-size="8.8" fill="#111">SF3B1<tspan font-size="5.7" dy="-3.1">L536</tspan></text>
<text transform="translate(487.8,375.6) rotate(-45)" font-size="8.8" fill="#111">SF3B1<tspan font-size="5.7" dy="-3.1">E722K</tspan></text>
<text transform="translate(502.7,375.6) rotate(-45)" font-size="8.8" fill="#111">SF3B1<tspan font-size="5.7" dy="-3.1">N829S</tspan></text>
<text transform="translate(518.3,375.6) rotate(-45)" font-size="8.8" fill="#111">SF3B1<tspan font-size="5.7" dy="-3.1">E968K</tspan></text>
<text transform="translate(532.8,375.6) rotate(-45)" font-size="8.8" fill="#111">SF3B1<tspan font-size="5.7" dy="-3.1">E1026K</tspan></text>
<text transform="translate(548.2,375.6) rotate(-45)" font-size="8.8" fill="#111">SF3B1<tspan font-size="5.7" dy="-3.1">A1229G</tspan></text>
<rect x="274.4" y="377.5" width="158.3" height="30.5" fill="#bebebe"/>
<rect x="432.7" y="377.5" width="122.9" height="30.5" fill="#d8d8d8"/>
<defs><linearGradient id="g2l" x1="0" x2="1"><stop offset="0" stop-color="#a6a6a6"/><stop offset="0.3" stop-color="#959595"/><stop offset="0.58" stop-color="#7c7c7c"/><stop offset="0.8" stop-color="#8c8c8c"/><stop offset="1" stop-color="#a2a2a2"/></linearGradient><clipPath id="cb2"><rect x="274.4" y="411.5" width="158.3" height="20.5"/></clipPath></defs>
<rect x="274.4" y="411.5" width="158.3" height="20.5" fill="url(#g2l)"/>
<g clip-path="url(#cb2)"><ellipse cx="380" cy="432" rx="42" ry="14" fill="#404040" filter="url(#bl5)" opacity="0.8"/></g>
<rect x="432.7" y="411.5" width="122.9" height="20.5" fill="#cfcfcf"/>
<rect x="274.4" y="436.2" width="158.3" height="15.0" fill="#dadada"/>
<rect x="432.7" y="436.2" width="122.9" height="15.0" fill="#e3e3e3"/>
<rect x="274.4" y="455.4" width="158.3" height="20.9" fill="#cecece"/>
<rect x="432.7" y="455.4" width="122.9" height="20.9" fill="#dedede"/>
<rect x="278.0" y="385.7" width="9.0" height="2.4" rx="1.2" fill="rgb(60,60,60)" filter="url(#bl)"/>
<rect x="278.0" y="400.6" width="9.0" height="2.4" rx="1.2" fill="rgb(88,88,88)" filter="url(#bl)"/>
<rect x="293.6" y="385.5" width="12.4" height="3.0" rx="1.5" fill="rgb(14,14,14)" filter="url(#bl)"/>
<rect x="293.6" y="396.9" width="12.4" height="3.2" rx="1.6" fill="rgb(97,97,97)" filter="url(#bl)"/>
<rect x="311.5" y="385.5" width="12.4" height="3.0" rx="1.5" fill="rgb(27,27,27)" filter="url(#bl)"/>
<rect x="311.5" y="396.9" width="12.4" height="3.2" rx="1.6" fill="rgb(149,149,149)" filter="url(#bl)"/>
<rect x="329.0" y="385.5" width="12.4" height="3.0" rx="1.5" fill="rgb(24,24,24)" filter="url(#bl)"/>
<rect x="329.0" y="396.9" width="12.4" height="3.2" rx="1.6" fill="rgb(156,156,156)" filter="url(#bl)"/>
<rect x="347.1" y="384.5" width="12.0" height="2.2" rx="1.1" fill="rgb(107,107,107)" filter="url(#bl)"/>
<rect x="347.1" y="387.5" width="12.0" height="2.2" rx="1.1" fill="rgb(107,107,107)" filter="url(#bl)"/>
<rect x="346.9" y="396.9" width="12.4" height="3.2" rx="1.6" fill="rgb(33,33,33)" filter="url(#bl)"/>
<rect x="365.0" y="385.5" width="12.4" height="3.0" rx="1.5" fill="rgb(42,42,42)" filter="url(#bl)"/>
<rect x="365.0" y="396.9" width="12.4" height="3.2" rx="1.6" fill="rgb(79,79,79)" filter="url(#bl)"/>
<rect x="382.4" y="385.5" width="12.4" height="3.0" rx="1.5" fill="rgb(88,88,88)" filter="url(#bl)"/>
<rect x="382.4" y="396.9" width="12.4" height="3.2" rx="1.6" fill="rgb(97,97,97)" filter="url(#bl)"/>
<rect x="400.2" y="385.5" width="12.4" height="3.0" rx="1.5" fill="rgb(51,51,51)" filter="url(#bl)"/>
<rect x="400.2" y="396.9" width="12.4" height="3.2" rx="1.6" fill="rgb(175,175,175)" filter="url(#bl)"/>
<rect x="417.7" y="385.5" width="12.4" height="3.0" rx="1.5" fill="rgb(5,5,5)" filter="url(#bl)"/>
<rect x="417.7" y="396.9" width="12.4" height="3.2" rx="1.6" fill="rgb(149,149,149)" filter="url(#bl)"/>
<rect x="365.2" y="383.0" width="12.0" height="2.0" rx="1.0" fill="rgb(143,143,143)" filter="url(#bl)"/>
<rect x="435.4" y="386.3" width="11.5" height="3.0" rx="1.5" fill="rgb(48,48,48)" filter="url(#bl)"/>
<rect x="435.4" y="395.8" width="11.5" height="3.0" rx="1.5" fill="rgb(163,163,163)" filter="url(#bl)"/>
<rect x="450.2" y="386.6" width="11.5" height="3.0" rx="1.5" fill="rgb(174,174,174)" filter="url(#bl)"/>
<rect x="450.2" y="395.9" width="11.5" height="3.0" rx="1.5" fill="rgb(69,69,69)" filter="url(#bl)"/>
<rect x="465.9" y="386.9" width="11.5" height="3.0" rx="1.5" fill="rgb(121,121,121)" filter="url(#bl)"/>
<rect x="465.9" y="396.1" width="11.5" height="3.0" rx="1.5" fill="rgb(48,48,48)" filter="url(#bl)"/>
<rect x="481.8" y="387.2" width="11.5" height="3.0" rx="1.5" fill="rgb(6,6,6)" filter="url(#bl)"/>
<rect x="481.8" y="396.2" width="11.5" height="3.0" rx="1.5" fill="rgb(153,153,153)" filter="url(#bl)"/>
<rect x="496.6" y="387.5" width="11.5" height="3.0" rx="1.5" fill="rgb(58,58,58)" filter="url(#bl)"/>
<rect x="496.6" y="396.4" width="11.5" height="3.0" rx="1.5" fill="rgb(153,153,153)" filter="url(#bl)"/>
<rect x="512.2" y="387.8" width="11.5" height="3.0" rx="1.5" fill="rgb(69,69,69)" filter="url(#bl)"/>
<rect x="512.2" y="396.6" width="11.5" height="3.0" rx="1.5" fill="rgb(163,163,163)" filter="url(#bl)"/>
<rect x="526.8" y="388.1" width="11.5" height="3.0" rx="1.5" fill="rgb(69,69,69)" filter="url(#bl)"/>
<rect x="526.8" y="396.7" width="11.5" height="3.0" rx="1.5" fill="rgb(174,174,174)" filter="url(#bl)"/>
<rect x="542.1" y="388.4" width="11.5" height="3.0" rx="1.5" fill="rgb(48,48,48)" filter="url(#bl)"/>
<rect x="542.1" y="396.9" width="11.5" height="3.0" rx="1.5" fill="rgb(153,153,153)" filter="url(#bl)"/>
<rect x="276.5" y="426.0" width="12.0" height="3.2" rx="1.6" fill="rgb(5,5,5)" filter="url(#bl)"/>
<rect x="293.8" y="419.0" width="12.0" height="2.8" rx="1.4" fill="rgb(28,28,28)" filter="url(#bl)"/>
<rect x="311.7" y="419.0" width="12.0" height="2.8" rx="1.4" fill="rgb(103,103,103)" filter="url(#bl)"/>
<rect x="329.2" y="419.0" width="12.0" height="2.8" rx="1.4" fill="rgb(77,77,77)" filter="url(#bl)"/>
<rect x="347.1" y="417.4" width="12.0" height="2.4" rx="1.2" fill="rgb(76,76,76)" filter="url(#bl)"/>
<rect x="347.1" y="420.3" width="12.0" height="2.4" rx="1.2" fill="rgb(69,69,69)" filter="url(#bl)"/>
<rect x="365.2" y="419.0" width="12.0" height="2.8" rx="1.4" fill="rgb(26,26,26)" filter="url(#bl)"/>
<rect x="382.6" y="419.0" width="12.0" height="2.8" rx="1.4" fill="rgb(62,62,62)" filter="url(#bl)"/>
<rect x="400.4" y="419.0" width="12.0" height="2.8" rx="1.4" fill="rgb(109,109,109)" filter="url(#bl)"/>
<rect x="417.9" y="419.0" width="12.0" height="2.8" rx="1.4" fill="rgb(113,113,113)" filter="url(#bl)"/>
<rect x="435.4" y="417.0" width="11.5" height="2.8" rx="1.4" fill="rgb(96,96,96)" filter="url(#bl)"/>
<rect x="450.2" y="417.0" width="11.5" height="2.8" rx="1.4" fill="rgb(146,146,146)" filter="url(#bl)"/>
<rect x="465.9" y="417.0" width="11.5" height="2.8" rx="1.4" fill="rgb(96,96,96)" filter="url(#bl)"/>
<rect x="481.8" y="417.0" width="11.5" height="2.8" rx="1.4" fill="rgb(126,126,126)" filter="url(#bl)"/>
<rect x="496.6" y="417.0" width="11.5" height="2.8" rx="1.4" fill="rgb(56,56,56)" filter="url(#bl)"/>
<rect x="512.2" y="417.0" width="11.5" height="2.8" rx="1.4" fill="rgb(146,146,146)" filter="url(#bl)"/>
<rect x="526.8" y="417.0" width="11.5" height="2.8" rx="1.4" fill="rgb(156,156,156)" filter="url(#bl)"/>
<rect x="542.1" y="417.0" width="11.5" height="2.8" rx="1.4" fill="rgb(166,166,166)" filter="url(#bl)"/>
<rect x="466.2" y="415.3" width="11.0" height="2.4" rx="1.2" fill="rgb(136,136,136)" filter="url(#bl)"/>
<rect x="450.5" y="415.8" width="11.0" height="2.4" rx="1.2" fill="rgb(166,166,166)" filter="url(#bl)"/>
<rect x="278.0" y="442.3" width="9.0" height="1.4" rx="0.7" fill="rgb(91,91,91)" filter="url(#bl)"/>
<line x1="282.0" y1="437.5" x2="282.0" y2="442.5" stroke="#555" stroke-width="0.5"/>
<rect x="293.6" y="440.5" width="12.4" height="2.6" rx="1.3" fill="rgb(17,17,17)" filter="url(#bl)"/>
<rect x="293.8" y="443.7" width="12.0" height="1.8" rx="0.9" fill="rgb(112,112,112)" filter="url(#bl)"/>
<rect x="311.5" y="440.5" width="12.4" height="2.6" rx="1.3" fill="rgb(17,17,17)" filter="url(#bl)"/>
<rect x="311.7" y="443.7" width="12.0" height="1.8" rx="0.9" fill="rgb(112,112,112)" filter="url(#bl)"/>
<rect x="329.0" y="440.5" width="12.4" height="2.6" rx="1.3" fill="rgb(17,17,17)" filter="url(#bl)"/>
<rect x="329.2" y="443.7" width="12.0" height="1.8" rx="0.9" fill="rgb(112,112,112)" filter="url(#bl)"/>
<rect x="346.9" y="440.5" width="12.4" height="2.6" rx="1.3" fill="rgb(17,17,17)" filter="url(#bl)"/>
<rect x="347.1" y="443.7" width="12.0" height="1.8" rx="0.9" fill="rgb(112,112,112)" filter="url(#bl)"/>
<rect x="365.0" y="440.5" width="12.4" height="2.6" rx="1.3" fill="rgb(17,17,17)" filter="url(#bl)"/>
<rect x="365.2" y="443.7" width="12.0" height="1.8" rx="0.9" fill="rgb(112,112,112)" filter="url(#bl)"/>
<rect x="382.4" y="440.5" width="12.4" height="2.6" rx="1.3" fill="rgb(17,17,17)" filter="url(#bl)"/>
<rect x="382.6" y="443.7" width="12.0" height="1.8" rx="0.9" fill="rgb(112,112,112)" filter="url(#bl)"/>
<rect x="400.2" y="440.5" width="12.4" height="2.6" rx="1.3" fill="rgb(17,17,17)" filter="url(#bl)"/>
<rect x="400.4" y="443.7" width="12.0" height="1.8" rx="0.9" fill="rgb(112,112,112)" filter="url(#bl)"/>
<rect x="417.7" y="440.5" width="12.4" height="2.6" rx="1.3" fill="rgb(17,17,17)" filter="url(#bl)"/>
<rect x="417.9" y="443.7" width="12.0" height="1.8" rx="0.9" fill="rgb(112,112,112)" filter="url(#bl)"/>
<rect x="435.4" y="440.4" width="11.5" height="3.0" rx="1.5" fill="rgb(83,83,83)" filter="url(#bl)"/>
<rect x="435.6" y="444.1" width="11.0" height="1.4" rx="0.7" fill="rgb(155,155,155)" filter="url(#bl)"/>
<rect x="450.2" y="440.4" width="11.5" height="3.0" rx="1.5" fill="rgb(127,127,127)" filter="url(#bl)"/>
<rect x="450.5" y="444.1" width="11.0" height="1.4" rx="0.7" fill="rgb(177,177,177)" filter="url(#bl)"/>
<rect x="465.9" y="440.4" width="11.5" height="3.0" rx="1.5" fill="rgb(28,28,28)" filter="url(#bl)"/>
<rect x="466.2" y="444.1" width="11.0" height="1.4" rx="0.7" fill="rgb(127,127,127)" filter="url(#bl)"/>
<rect x="481.8" y="440.4" width="11.5" height="3.0" rx="1.5" fill="rgb(6,6,6)" filter="url(#bl)"/>
<rect x="482.0" y="444.1" width="11.0" height="1.4" rx="0.7" fill="rgb(116,116,116)" filter="url(#bl)"/>
<rect x="496.6" y="440.4" width="11.5" height="3.0" rx="1.5" fill="rgb(6,6,6)" filter="url(#bl)"/>
<rect x="496.9" y="444.1" width="11.0" height="1.4" rx="0.7" fill="rgb(116,116,116)" filter="url(#bl)"/>
<rect x="512.2" y="440.4" width="11.5" height="3.0" rx="1.5" fill="rgb(6,6,6)" filter="url(#bl)"/>
<rect x="512.5" y="444.1" width="11.0" height="1.4" rx="0.7" fill="rgb(116,116,116)" filter="url(#bl)"/>
<rect x="526.8" y="440.4" width="11.5" height="3.0" rx="1.5" fill="rgb(6,6,6)" filter="url(#bl)"/>
<rect x="527.0" y="444.1" width="11.0" height="1.4" rx="0.7" fill="rgb(116,116,116)" filter="url(#bl)"/>
<rect x="542.1" y="440.4" width="11.5" height="3.0" rx="1.5" fill="rgb(6,6,6)" filter="url(#bl)"/>
<rect x="542.4" y="444.1" width="11.0" height="1.4" rx="0.7" fill="rgb(116,116,116)" filter="url(#bl)"/>
<rect x="452.0" y="439.5" width="8.0" height="2.0" rx="1.0" fill="rgb(160,160,160)" filter="url(#bl)"/>
<rect x="278.0" y="457.1" width="9.0" height="1.8" rx="0.9" fill="rgb(106,106,106)" filter="url(#bl)"/>
<rect x="278.0" y="468.8" width="9.0" height="2.0" rx="1.0" fill="rgb(116,116,116)" filter="url(#bl)"/>
<rect x="293.5" y="462.7" width="12.6" height="3.2" rx="1.6" fill="rgb(22,22,22)" filter="url(#bl)"/>
<rect x="311.4" y="462.7" width="12.6" height="3.2" rx="1.6" fill="rgb(22,22,22)" filter="url(#bl)"/>
<rect x="328.9" y="462.7" width="12.6" height="3.2" rx="1.6" fill="rgb(22,22,22)" filter="url(#bl)"/>
<rect x="346.8" y="462.7" width="12.6" height="3.2" rx="1.6" fill="rgb(22,22,22)" filter="url(#bl)"/>
<rect x="364.9" y="462.7" width="12.6" height="3.2" rx="1.6" fill="rgb(22,22,22)" filter="url(#bl)"/>
<rect x="382.3" y="462.7" width="12.6" height="3.2" rx="1.6" fill="rgb(22,22,22)" filter="url(#bl)"/>
<rect x="400.1" y="462.7" width="12.6" height="3.2" rx="1.6" fill="rgb(22,22,22)" filter="url(#bl)"/>
<rect x="417.6" y="462.7" width="12.6" height="3.2" rx="1.6" fill="rgb(22,22,22)" filter="url(#bl)"/>
<rect x="435.4" y="463.3" width="11.5" height="2.1" rx="1.1" fill="rgb(38,38,38)" filter="url(#bl)"/>
<rect x="450.2" y="463.3" width="11.5" height="2.1" rx="1.1" fill="rgb(38,38,38)" filter="url(#bl)"/>
<rect x="465.9" y="463.3" width="11.5" height="2.1" rx="1.1" fill="rgb(38,38,38)" filter="url(#bl)"/>
<rect x="481.8" y="463.3" width="11.5" height="2.1" rx="1.1" fill="rgb(38,38,38)" filter="url(#bl)"/>
<rect x="496.6" y="463.3" width="11.5" height="2.1" rx="1.1" fill="rgb(38,38,38)" filter="url(#bl)"/>
<rect x="512.2" y="463.3" width="11.5" height="2.1" rx="1.1" fill="rgb(38,38,38)" filter="url(#bl)"/>
<rect x="526.8" y="463.3" width="11.5" height="2.1" rx="1.1" fill="rgb(38,38,38)" filter="url(#bl)"/>
<rect x="542.1" y="463.3" width="11.5" height="2.1" rx="1.1" fill="rgb(38,38,38)" filter="url(#bl)"/>
<rect x="274.4" y="377.5" width="281.2" height="30.5" fill="none" stroke="#111" stroke-width="1.1"/>
<line x1="432.7" y1="377.5" x2="432.7" y2="408" stroke="#111" stroke-width="0.9"/>
<rect x="274.4" y="411.5" width="281.2" height="20.5" fill="none" stroke="#111" stroke-width="1.1"/>
<line x1="432.7" y1="411.5" x2="432.7" y2="432" stroke="#111" stroke-width="0.9"/>
<rect x="274.4" y="436.2" width="281.2" height="15.0" fill="none" stroke="#111" stroke-width="1.1"/>
<line x1="432.7" y1="436.2" x2="432.7" y2="451.2" stroke="#111" stroke-width="0.9"/>
<rect x="274.4" y="455.4" width="281.2" height="20.9" fill="none" stroke="#111" stroke-width="1.1"/>
<line x1="432.7" y1="455.4" x2="432.7" y2="476.3" stroke="#111" stroke-width="0.9"/>
<line x1="268.4" y1="387.0" x2="274.4" y2="387.0" stroke="#111" stroke-width="0.8"/>
<text x="267.9" y="389.2" font-size="6.5" text-anchor="end" fill="#111" >200 nt</text>
<line x1="268.4" y1="401.6" x2="274.4" y2="401.6" stroke="#111" stroke-width="0.8"/>
<text x="267.9" y="403.8" font-size="6.5" text-anchor="end" fill="#111" >100 nt</text>
<line x1="268.4" y1="427.3" x2="274.4" y2="427.3" stroke="#111" stroke-width="0.8"/>
<text x="267.9" y="429.5" font-size="6.5" text-anchor="end" fill="#111" >100 nt</text>
<line x1="268.4" y1="443.3" x2="274.4" y2="443.3" stroke="#111" stroke-width="0.8"/>
<text x="267.9" y="445.5" font-size="6.5" text-anchor="end" fill="#111" >200 nt</text>
<line x1="268.4" y1="458.4" x2="274.4" y2="458.4" stroke="#111" stroke-width="0.8"/>
<text x="267.9" y="460.6" font-size="6.5" text-anchor="end" fill="#111" >300 nt</text>
<line x1="268.4" y1="469.6" x2="274.4" y2="469.6" stroke="#111" stroke-width="0.8"/>
<text x="267.9" y="471.8" font-size="6.5" text-anchor="end" fill="#111" >200 nt</text>
<line x1="558.3" y1="390.2" x2="565.7" y2="390.2" stroke="#111" stroke-width="1.35"/>
<path d="M555.8,390.2 L560.4,387.7 L559.4,390.2 L560.4,392.7Z" fill="#111"/>
<text x="567.8" y="392.2" font-size="6.1" fill="#222" >AG</text>
<line x1="558.3" y1="400.5" x2="565.7" y2="400.5" stroke="#111" stroke-width="1.35"/>
<path d="M555.8,400.5 L560.4,398.0 L559.4,400.5 L560.4,403.0Z" fill="#111"/>
<text x="567.8" y="402.6" font-size="5.917" font-weight="bold" fill="#111" >AG&#8217;</text>
<line x1="558.3" y1="417.5" x2="565.7" y2="417.5" stroke="#111" stroke-width="1.35"/>
<path d="M555.8,417.5 L560.4,415.0 L559.4,417.5 L560.4,420.0Z" fill="#111"/>
<text x="567.8" y="417.5" font-size="5.917" font-weight="bold" fill="#111" >AG&#8217;</text>
<line x1="558.3" y1="421.1" x2="565.7" y2="421.1" stroke="#111" stroke-width="1.35"/>
<path d="M555.8,421.1 L560.4,418.6 L559.4,421.1 L560.4,423.6Z" fill="#111"/>
<text x="567.8" y="424.2" font-size="6.1" fill="#222" >AG</text>
<line x1="558.3" y1="440.2" x2="565.7" y2="440.2" stroke="#111" stroke-width="1.35"/>
<path d="M555.8,440.2 L560.4,437.7 L559.4,440.2 L560.4,442.7Z" fill="#111"/>
<text x="567.8" y="439.5" font-size="6.1" fill="#222" >AG</text>
<line x1="558.3" y1="442.6" x2="565.7" y2="442.6" stroke="#111" stroke-width="1.35"/>
<path d="M555.8,442.6 L560.4,440.1 L559.4,442.6 L560.4,445.1Z" fill="#111"/>
<text x="567.8" y="446.1" font-size="5.917" font-weight="bold" fill="#111" >AG&#8217;</text>
<rect x="580.5" y="385.6" width="27.1" height="6.9" fill="#fff" stroke="#2f4f80" stroke-width="1.2"/>
<rect x="607.6" y="385.6" width="26.4" height="6.9" fill="#fff" stroke="#2f4f80" stroke-width="1.2"/>
<text x="594.0" y="391.2" font-size="6.2" text-anchor="middle" fill="#444" >3</text>
<text x="620.8" y="391.2" font-size="6.2" text-anchor="middle" fill="#444" >4</text>
<line x1="607.6" y1="399.5" x2="614.2" y2="399.5" stroke="#111" stroke-width="1"/>
<rect x="580.5" y="396" width="27.1" height="7.0" fill="#fff" stroke="#2f4f80" stroke-width="1.2"/>
<rect x="614.2" y="396" width="26.4" height="7.0" fill="#fff" stroke="#2f4f80" stroke-width="1.2"/>
<text x="594.0" y="401.7" font-size="6.2" text-anchor="middle" fill="#444" >3</text>
<text x="627.4" y="401.7" font-size="6.2" text-anchor="middle" fill="#444" >4</text>
<line x1="607.6" y1="413.5" x2="614.2" y2="413.5" stroke="#111" stroke-width="1"/>
<rect x="580.5" y="410" width="27.1" height="7.0" fill="#fff" stroke="#2f4f80" stroke-width="1.2"/>
<rect x="614.2" y="410" width="26.4" height="7.0" fill="#fff" stroke="#2f4f80" stroke-width="1.2"/>
<text x="594.0" y="415.7" font-size="6.2" text-anchor="middle" fill="#444" >10</text>
<text x="627.4" y="415.7" font-size="6.2" text-anchor="middle" fill="#444" >11</text>
<rect x="580.5" y="419.2" width="27.1" height="7.0" fill="#fff" stroke="#2f4f80" stroke-width="1.2"/>
<rect x="607.6" y="419.2" width="26.4" height="7.0" fill="#fff" stroke="#2f4f80" stroke-width="1.2"/>
<text x="594.0" y="424.9" font-size="6.2" text-anchor="middle" fill="#444" >10</text>
<text x="620.8" y="424.9" font-size="6.2" text-anchor="middle" fill="#444" >11</text>
<rect x="580.5" y="432.8" width="27.1" height="6.9" fill="#fff" stroke="#2f4f80" stroke-width="1.2"/>
<rect x="607.6" y="432.8" width="26.4" height="6.9" fill="#fff" stroke="#2f4f80" stroke-width="1.2"/>
<text x="594.0" y="438.4" font-size="6.2" text-anchor="middle" fill="#444" >6</text>
<text x="620.8" y="438.4" font-size="6.2" text-anchor="middle" fill="#444" >7</text>
<line x1="607.6" y1="445.9" x2="614.2" y2="445.9" stroke="#111" stroke-width="1"/>
<rect x="580.5" y="442.4" width="27.1" height="7.0" fill="#fff" stroke="#2f4f80" stroke-width="1.2"/>
<rect x="614.2" y="442.4" width="26.4" height="7.0" fill="#fff" stroke="#2f4f80" stroke-width="1.2"/>
<text x="594.0" y="448.1" font-size="6.2" text-anchor="middle" fill="#444" >6</text>
<text x="627.4" y="448.1" font-size="6.2" text-anchor="middle" fill="#444" >7</text>
<text x="650.2" y="397.2" font-size="9.0" font-weight="bold" fill="#111" >CRNDE</text>
<text x="650.2" y="422.5" font-size="9.0" font-weight="bold" fill="#111" >ENOX2</text>
<text x="650.2" y="444.1" font-size="9.0" font-weight="bold" fill="#111" >HSPBP1</text>
<text x="650.2" y="466.6" font-size="9.0" font-weight="bold" fill="#111" >GAPDH</text>
<text x="2.9" y="561.3" font-size="18.6" font-weight="bold" fill="#000" >E</text>
<text x="130.0" y="529.3" font-size="1" fill="#000" ></text>
<defs><linearGradient id="ex" x1="0" y1="0" x2="0" y2="1"><stop offset="0" stop-color="#8ab8ec"/><stop offset="0.5" stop-color="#5b95da"/><stop offset="1" stop-color="#3f78c4"/></linearGradient><linearGradient id="exd" x1="0" y1="0" x2="0" y2="1"><stop offset="0" stop-color="#2a5a98"/><stop offset="1" stop-color="#173d6e"/></linearGradient></defs>
<line x1="88" y1="559.9" x2="126.5" y2="559.9" stroke="#3a6fb8" stroke-width="1.1"/>
<rect x="50.9" y="554.9" width="37.1" height="9.9" fill="url(#ex)" stroke="#3566a8" stroke-width="0.6"/>
<rect x="145.1" y="555.1" width="36.4" height="9.9" fill="url(#ex)" stroke="#3566a8" stroke-width="0.6"/>
<rect x="126.5" y="555.1" width="18.6" height="9.9" fill="url(#exd)" stroke="#1f4a80" stroke-width="0.6"/>
<text x="118.0" y="552.9" font-size="6.6" fill="#111" >AG</text>
<text x="137.5" y="552.9" font-size="6.6" fill="#111" >AG</text>
<line x1="128.5" y1="570.7" x2="144.2" y2="570.7" stroke="#000" stroke-width="1.1"/>
<path d="M126.3,570.7 L130.6,568.2 L129.8,570.7 L130.6,573.2Z M146.4,570.7 L142.1,568.2 L142.9,570.7 L142.1,573.2Z" fill="#000"/>
<text x="137.4" y="578.3" font-size="6.6" text-anchor="middle" fill="#111" >d</text>
<line x1="77.6" y1="580.5" x2="77.6" y2="738.2" stroke="#888" stroke-width="1.1"/>
<line x1="77.1" y1="738.2" x2="240" y2="738.2" stroke="#888" stroke-width="1.1"/>
<line x1="84.3" y1="738.2" x2="84.3" y2="740" stroke="#333" stroke-width="0.5"/>
<text x="84.3" y="746.8" font-size="6.2" text-anchor="middle" fill="#333" >0</text>
<line x1="114.5" y1="738.2" x2="114.5" y2="740" stroke="#333" stroke-width="0.5"/>
<text x="114.5" y="746.8" font-size="6.2" text-anchor="middle" fill="#333" >10</text>
<line x1="144.7" y1="738.2" x2="144.7" y2="740" stroke="#333" stroke-width="0.5"/>
<text x="144.7" y="746.8" font-size="6.2" text-anchor="middle" fill="#333" >20</text>
<line x1="174.9" y1="738.2" x2="174.9" y2="740" stroke="#333" stroke-width="0.5"/>
<text x="174.9" y="746.8" font-size="6.2" text-anchor="middle" fill="#333" >30</text>
<line x1="205.1" y1="738.2" x2="205.1" y2="740" stroke="#333" stroke-width="0.5"/>
<text x="205.1" y="746.8" font-size="6.2" text-anchor="middle" fill="#333" >40</text>
<line x1="235.3" y1="738.2" x2="235.3" y2="740" stroke="#333" stroke-width="0.5"/>
<text x="235.3" y="746.8" font-size="6.2" text-anchor="middle" fill="#333" >50</text>
<line x1="75.9" y1="608.6" x2="77.6" y2="608.6" stroke="#333" stroke-width="0.4"/>
<text x="74.6" y="609.6" font-size="3" text-anchor="end" fill="#666" textLength="6.2" lengthAdjust="spacingAndGlyphs">0.03</text>
<line x1="75.9" y1="652" x2="77.6" y2="652" stroke="#333" stroke-width="0.4"/>
<text x="74.6" y="653.0" font-size="3" text-anchor="end" fill="#666" textLength="6.2" lengthAdjust="spacingAndGlyphs">0.02</text>
<line x1="75.9" y1="695.3" x2="77.6" y2="695.3" stroke="#333" stroke-width="0.4"/>
<text x="74.6" y="696.3" font-size="3" text-anchor="end" fill="#666" textLength="6.2" lengthAdjust="spacingAndGlyphs">0.01</text>
<line x1="75.9" y1="738.4" x2="77.6" y2="738.4" stroke="#333" stroke-width="0.4"/>
<text x="74.6" y="739.4" font-size="3" text-anchor="end" fill="#666" textLength="6.2" lengthAdjust="spacingAndGlyphs">0.00</text>
<text x="140.0" y="757.8" font-size="7.7" text-anchor="middle" fill="#111" >distance (nt) - absolute value</text>
<text transform="translate(50.9,621.7) rotate(-90)" font-size="7.9" text-anchor="middle" fill="#111">density</text>
<line x1="100.7" y1="580.5" x2="100.7" y2="738" stroke="#222" stroke-width="0.7" stroke-dasharray="2.2,1.3"/>
<line x1="132.4" y1="596" x2="132.4" y2="738" stroke="#4cb04c" stroke-width="1.1" stroke-dasharray="2.6,1.1"/>
<line x1="151.5" y1="646" x2="151.5" y2="738" stroke="#4cb04c" stroke-width="1.1" stroke-dasharray="2.6,1.1"/>
<path d="M84.5,647.3 C85.3,640.9 88.0,619.0 89.7,609.2 C91.5,599.3 93.2,593.0 95.0,588.1 C96.7,583.3 98.7,581.1 100.2,580.3 C101.7,579.4 102.6,580.7 104.2,582.9 C105.7,585.1 107.7,589.9 109.4,593.4 C111.2,596.9 112.5,600.2 114.7,603.9 C116.9,607.6 119.5,611.8 122.5,615.7 C125.6,619.7 129.1,623.4 133.1,627.5 C137.0,631.7 142.3,635.9 146.2,640.7 C150.1,645.5 153.2,651.6 156.7,656.5 C160.2,661.3 164.1,666.1 167.2,669.6 C170.3,673.1 172.0,674.8 175.1,677.5 C178.2,680.1 182.1,682.7 185.6,685.4 C189.1,688.0 192.6,690.6 196.1,693.2 C199.6,695.9 203.1,698.9 206.6,701.1 C210.1,703.3 214.1,704.6 217.1,706.4 C220.2,708.1 222.3,709.2 225.0,711.6 C227.7,714.0 232.0,719.3 233.4,720.8" fill="none" stroke="#e47ff0" stroke-width="1.2"/>
<path d="M84.5,656.5 C85.1,652.5 86.9,640.2 88.4,632.8 C89.9,625.4 91.9,616.8 93.6,611.8 C95.4,606.7 97.2,604.6 98.9,602.6 C100.7,600.6 102.4,599.7 104.2,600.0 C105.9,600.2 107.7,601.5 109.4,603.9 C111.2,606.3 112.5,609.6 114.7,614.4 C116.9,619.2 119.9,626.7 122.5,632.8 C125.2,638.9 127.8,647.0 130.4,651.2 C133.1,655.4 135.2,656.2 138.3,657.8 C141.4,659.3 145.8,659.3 148.8,660.4 C151.9,661.5 153.6,662.4 156.7,664.3 C159.8,666.3 163.7,669.8 167.2,672.2 C170.7,674.6 174.7,677.3 177.7,678.8 C180.8,680.3 182.5,681.2 185.6,681.4 C188.7,681.6 192.8,680.7 196.1,680.1 C199.4,679.5 202.7,678.0 205.3,678.0 C207.9,678.0 209.5,678.4 211.9,680.1 C214.3,681.8 217.1,684.9 219.8,688.0 C222.4,691.0 225.4,694.5 227.6,698.5 C229.9,702.4 232.5,709.4 233.4,711.6" fill="none" stroke="#f07b7d" stroke-width="1.2"/>
<path d="M84.5,688.0 C85.1,683.6 86.9,668.7 88.4,661.7 C89.9,654.7 91.7,650.3 93.6,645.9 C95.6,641.6 98.0,637.8 100.2,635.4 C102.4,633.0 104.8,633.2 106.8,631.5 C108.8,629.7 110.1,628.2 112.0,624.9 C114.0,621.6 116.6,615.3 118.6,611.8 C120.6,608.3 122.1,605.9 123.9,603.9 C125.6,601.9 127.4,600.4 129.1,600.0 C130.9,599.5 132.6,599.7 134.4,601.3 C136.1,602.8 137.7,605.2 139.6,609.2 C141.6,613.1 143.8,619.4 146.2,624.9 C148.6,630.4 151.5,636.7 154.1,642.0 C156.7,647.3 159.3,652.1 162.0,656.5 C164.6,660.8 167.2,665.3 169.8,668.3 C172.5,671.3 175.1,672.9 177.7,674.3 C180.4,675.8 182.5,675.8 185.6,676.9 C188.7,678.1 192.6,679.8 196.1,681.4 C199.6,683.0 203.1,685.1 206.6,686.7 C210.1,688.2 214.1,688.4 217.1,690.6 C220.2,692.8 222.3,695.9 225.0,699.8 C227.7,703.7 232.0,711.8 233.4,714.3" fill="none" stroke="#22b380" stroke-width="1.2"/>
<path d="M84.5,639.4 C85.1,636.5 86.9,628.2 88.4,622.3 C89.9,616.4 92.1,607.9 93.6,603.9 C95.2,599.9 96.3,598.8 97.6,598.1 C98.9,597.5 100.0,598.1 101.5,600.0 C103.1,601.8 105.0,605.4 106.8,609.2 C108.5,612.9 110.1,617.0 112.0,622.3 C114.0,627.5 116.6,635.9 118.6,640.7 C120.6,645.5 122.1,649.0 123.9,651.2 C125.6,653.4 127.1,654.0 129.1,653.8 C131.1,653.6 133.3,651.3 135.7,649.9 C138.1,648.5 141.2,646.3 143.6,645.4 C146.0,644.5 148.2,644.3 150.1,644.6 C152.1,644.9 153.4,645.1 155.4,647.3 C157.4,649.4 159.6,653.6 162.0,657.8 C164.4,661.9 167.2,668.5 169.8,672.2 C172.5,675.9 175.1,677.7 177.7,680.1 C180.4,682.5 183.0,685.1 185.6,686.7 C188.2,688.2 190.9,688.6 193.5,689.3 C196.1,690.0 198.3,690.4 201.4,690.6 C204.4,690.8 208.8,689.7 211.9,690.6 C214.9,691.5 217.1,693.2 219.8,695.9 C222.4,698.5 225.4,702.6 227.6,706.4 C229.9,710.1 232.5,716.2 233.4,718.2" fill="none" stroke="#22bdf0" stroke-width="1.2"/>
<path d="M84.5,691.9 C85.1,688.2 86.9,676.4 88.4,669.6 C89.9,662.8 91.7,656.8 93.6,651.2 C95.6,645.6 98.0,639.2 100.2,636.0 C102.4,632.7 104.8,633.1 106.8,631.5 C108.8,629.9 110.3,629.5 112.0,626.2 C113.8,623.0 115.5,616.2 117.3,611.8 C119.0,607.4 120.6,602.9 122.5,600.0 C124.5,597.0 127.1,594.8 129.1,594.2 C131.1,593.5 132.6,594.4 134.4,596.0 C136.1,597.6 137.7,600.0 139.6,603.9 C141.6,607.8 143.8,614.0 146.2,619.7 C148.6,625.4 151.5,631.9 154.1,638.1 C156.7,644.2 159.3,650.8 162.0,656.5 C164.6,662.1 167.2,668.3 169.8,672.2 C172.5,676.2 174.7,677.9 177.7,680.1 C180.8,682.3 184.7,684.0 188.2,685.4 C191.7,686.8 195.2,687.8 198.7,688.5 C202.2,689.2 206.4,689.0 209.3,689.3 C212.1,689.6 213.9,689.2 215.8,690.1 C217.8,691.0 219.1,692.3 221.1,694.5 C223.0,696.8 225.6,700.5 227.6,703.7 C229.7,707.0 232.5,712.5 233.4,714.3" fill="none" stroke="#1e1e80" stroke-width="1.55"/>
<rect x="233.1" y="611.5" width="8.4" height="7.6" fill="#fff" stroke="#e47ff0" stroke-width="1.5"/>
<text x="246.5" y="617.7" font-size="6.3" fill="#333" >P780L</text>
<rect x="233.1" y="621.5" width="8.4" height="7.6" fill="#fff" stroke="#f07b7d" stroke-width="1.5"/>
<text x="246.5" y="627.7" font-size="6.3" fill="#333" >E722K</text>
<rect x="233.1" y="631.6" width="8.4" height="7.6" fill="#fff" stroke="#22b380" stroke-width="1.5"/>
<text x="246.5" y="637.8" font-size="6.3" fill="#333" >N829S</text>
<rect x="233.1" y="641.6" width="8.4" height="7.6" fill="#fff" stroke="#22bdf0" stroke-width="1.5"/>
<text x="246.5" y="647.8" font-size="6.3" fill="#333" >K700E</text>
<rect x="233.1" y="651.7" width="8.4" height="7.6" fill="#fff" stroke="#1e1e80" stroke-width="1.5"/>
<text x="246.5" y="657.9" font-size="6.3" fill="#333" >R625H</text>
<text x="352.0" y="561.3" font-size="18.6" font-weight="bold" fill="#000" >F</text>
<line x1="391.7" y1="562.5" x2="391.7" y2="725" stroke="#333" stroke-width="0.6"/>
<line x1="391.7" y1="725" x2="602" y2="725" stroke="#333" stroke-width="0.6"/>
<line x1="401.2" y1="725" x2="401.2" y2="726.8" stroke="#333" stroke-width="0.5"/>
<text x="401.2" y="733.4" font-size="6.2" text-anchor="middle" fill="#333" >-50</text>
<line x1="447.8" y1="725" x2="447.8" y2="726.8" stroke="#333" stroke-width="0.5"/>
<text x="447.8" y="733.4" font-size="6.2" text-anchor="middle" fill="#333" >-25</text>
<line x1="495.3" y1="725" x2="495.3" y2="726.8" stroke="#333" stroke-width="0.5"/>
<text x="495.3" y="733.4" font-size="6.2" text-anchor="middle" fill="#333" >0</text>
<line x1="545.1" y1="725" x2="545.1" y2="726.8" stroke="#333" stroke-width="0.5"/>
<text x="545.1" y="733.4" font-size="6.2" text-anchor="middle" fill="#333" >25</text>
<line x1="592.3" y1="725" x2="592.3" y2="726.8" stroke="#333" stroke-width="0.5"/>
<text x="592.3" y="733.4" font-size="6.2" text-anchor="middle" fill="#333" >50</text>
<line x1="389.9" y1="581.3" x2="391.7" y2="581.3" stroke="#333" stroke-width="0.4"/>
<text x="389.6" y="582.3" font-size="3.1" text-anchor="end" fill="#666" textLength="13" lengthAdjust="spacingAndGlyphs">0.020</text>
<line x1="389.9" y1="615.5" x2="391.7" y2="615.5" stroke="#333" stroke-width="0.4"/>
<text x="389.6" y="616.5" font-size="3.1" text-anchor="end" fill="#666" textLength="13" lengthAdjust="spacingAndGlyphs">0.015</text>
<line x1="389.9" y1="649.7" x2="391.7" y2="649.7" stroke="#333" stroke-width="0.4"/>
<text x="389.6" y="650.7" font-size="3.1" text-anchor="end" fill="#666" textLength="13" lengthAdjust="spacingAndGlyphs">0.010</text>
<line x1="389.9" y1="684.3" x2="391.7" y2="684.3" stroke="#333" stroke-width="0.4"/>
<text x="389.6" y="685.3" font-size="3.1" text-anchor="end" fill="#666" textLength="13" lengthAdjust="spacingAndGlyphs">0.005</text>
<line x1="389.9" y1="718.4" x2="391.7" y2="718.4" stroke="#333" stroke-width="0.4"/>
<text x="389.6" y="719.4" font-size="3.1" text-anchor="end" fill="#666" textLength="13" lengthAdjust="spacingAndGlyphs">0.000</text>
<text x="474" y="742.8" font-size="7" text-anchor="middle" fill="#111" textLength="91" lengthAdjust="spacingAndGlyphs">distance (nt) relative value</text>
<text transform="translate(369.6,623) rotate(-90)" font-size="7.5" text-anchor="middle" fill="#111">density</text>
<line x1="466.4" y1="606.6" x2="466.4" y2="724.5" stroke="#1f8a1f" stroke-width="0.8" stroke-dasharray="2,1"/>
<line x1="505.9" y1="569.6" x2="505.9" y2="724.5" stroke="#777" stroke-width="1.1" stroke-dasharray="2,0.8"/>
<path d="M401.2,704.5 C402.6,703.2 406.3,698.9 409.3,696.5 C412.2,694.1 415.7,691.7 418.9,690.1 C422.1,688.5 425.3,687.9 428.5,686.9 C431.8,685.8 435.0,685.0 438.2,683.7 C441.4,682.3 444.6,680.7 447.8,678.8 C451.0,677.0 454.2,674.6 457.4,672.4 C460.7,670.3 464.4,669.2 467.1,666.0 C469.8,662.8 471.4,658.5 473.5,653.1 C475.6,647.8 477.8,640.3 479.9,633.9 C482.1,627.4 484.2,620.2 486.4,614.6 C488.5,609.0 490.6,603.9 492.8,600.1 C494.9,596.4 497.2,593.7 499.2,592.1 C501.2,590.5 503.1,590.2 505.0,590.5 C506.9,590.8 508.5,591.8 510.4,593.7 C512.4,595.6 514.5,598.0 516.9,601.8 C519.3,605.5 522.2,611.7 524.9,616.2 C527.6,620.8 530.2,625.6 532.9,629.1 C535.6,632.5 538.0,634.6 541.0,637.1 C543.9,639.6 547.4,642.0 550.6,644.1 C553.8,646.3 557.0,648.2 560.2,649.9 C563.4,651.7 566.9,653.1 569.9,654.7 C572.8,656.4 575.5,657.2 577.9,659.6 C580.3,662.0 582.5,666.3 584.3,669.2 C586.1,672.1 587.1,674.6 588.5,677.2 C589.8,679.9 591.7,683.9 592.3,685.3" fill="none" stroke="#f8766d" stroke-width="1.0"/>
<path d="M401.2,704.5 C402.6,703.5 406.3,700.2 409.3,698.1 C412.2,696.0 415.7,694.4 418.9,691.7 C422.1,689.0 425.3,685.3 428.5,682.0 C431.8,678.8 435.2,676.7 438.2,672.4 C441.1,668.1 443.5,663.3 446.2,656.4 C448.9,649.4 451.8,637.9 454.2,630.7 C456.6,623.4 458.6,617.0 460.7,613.0 C462.7,609.0 464.6,606.8 466.4,606.6 C468.3,606.3 469.9,608.4 471.9,611.4 C473.9,614.3 476.2,620.8 478.3,624.2 C480.5,627.7 482.6,630.5 484.7,632.3 C486.9,634.0 489.0,634.8 491.2,634.8 C493.3,634.8 495.2,633.4 497.6,632.3 C500.0,631.1 503.2,628.6 505.6,628.1 C508.0,627.6 509.9,628.1 512.0,629.1 C514.2,630.0 515.8,631.7 518.5,633.9 C521.1,636.0 524.9,639.7 528.1,641.9 C531.3,644.1 534.5,646.3 537.7,647.4 C541.0,648.4 544.2,647.6 547.4,648.3 C550.6,649.0 553.8,650.2 557.0,651.5 C560.2,652.9 563.4,654.2 566.6,656.4 C569.9,658.5 573.3,660.9 576.3,664.4 C579.2,667.9 581.6,672.7 584.3,677.2 C587.0,681.8 591.0,689.3 592.3,691.7" fill="none" stroke="#7cae00" stroke-width="1.0"/>
<path d="M401.2,704.5 C402.6,702.9 406.3,698.1 409.3,694.9 C412.2,691.7 415.7,687.9 418.9,685.3 C422.1,682.6 425.3,681.2 428.5,678.8 C431.8,676.4 435.0,673.6 438.2,670.8 C441.4,668.0 444.6,664.8 447.8,662.1 C451.0,659.5 454.2,657.6 457.4,654.7 C460.7,651.9 464.1,648.9 467.1,645.1 C470.0,641.4 472.7,637.1 475.1,632.3 C477.5,627.4 479.4,621.8 481.5,616.2 C483.7,610.6 486.0,602.8 488.0,598.5 C489.9,594.3 491.8,592.0 493.4,590.5 C495.0,589.0 496.1,589.0 497.6,589.5 C499.1,590.1 500.5,591.4 502.4,593.7 C504.3,596.0 506.7,599.6 508.8,603.4 C511.0,607.1 513.1,612.2 515.3,616.2 C517.4,620.2 519.0,624.0 521.7,627.4 C524.4,630.9 528.1,633.9 531.3,637.1 C534.5,640.3 537.7,643.8 541.0,646.7 C544.2,649.7 547.4,652.1 550.6,654.7 C553.8,657.4 557.0,659.8 560.2,662.8 C563.4,665.7 566.6,669.2 569.9,672.4 C573.1,675.6 576.5,679.1 579.5,682.0 C582.4,685.0 585.4,687.7 587.5,690.1 C589.7,692.5 591.5,695.4 592.3,696.5" fill="none" stroke="#00bfc4" stroke-width="1.0"/>
<path d="M401.2,711.6 C402.6,710.4 406.3,707.0 409.3,704.5 C412.2,702.0 415.7,699.4 418.9,696.5 C422.1,693.6 425.3,690.3 428.5,686.9 C431.8,683.4 435.0,679.6 438.2,675.6 C441.4,671.6 444.6,668.1 447.8,662.8 C451.0,657.4 454.5,647.9 457.4,643.5 C460.4,639.1 462.8,638.3 465.5,636.4 C468.2,634.6 471.1,634.6 473.5,632.3 C475.9,630.0 477.8,627.2 479.9,622.6 C482.1,618.1 484.2,611.1 486.4,605.0 C488.5,598.8 490.6,590.8 492.8,585.7 C494.9,580.6 497.2,577.1 499.2,574.5 C501.2,571.8 503.3,569.6 505.0,569.6 C506.7,569.6 507.8,570.7 509.5,574.5 C511.2,578.2 513.2,584.9 515.3,592.1 C517.3,599.3 519.0,609.8 521.7,617.8 C524.4,625.8 528.1,634.4 531.3,640.3 C534.5,646.2 537.7,649.9 541.0,653.1 C544.2,656.4 547.4,657.4 550.6,659.6 C553.8,661.7 557.0,663.6 560.2,666.0 C563.4,668.4 566.6,671.3 569.9,674.0 C573.1,676.7 576.5,679.4 579.5,682.0 C582.4,684.7 585.4,687.7 587.5,690.1 C589.7,692.5 591.5,695.4 592.3,696.5" fill="none" stroke="#c77cff" stroke-width="1.0"/>
<text x="560.2" y="590.8" font-size="6.2" fill="#333" >type</text>
<rect x="560.4" y="595.0" width="8.6" height="8.4" fill="#fff" stroke="#f8766d" stroke-width="0.9"/>
<text x="573.7" y="601.6" font-size="6.3" fill="#222" >E722K</text>
<rect x="560.4" y="605.1" width="8.6" height="8.4" fill="#fff" stroke="#7cae00" stroke-width="0.9"/>
<text x="573.7" y="611.7" font-size="6.3" fill="#222" >K700E</text>
<rect x="560.4" y="615.2" width="8.6" height="8.4" fill="#fff" stroke="#00bfc4" stroke-width="0.9"/>
<text x="573.7" y="621.8" font-size="6.3" fill="#222" >N829S</text>
<rect x="560.4" y="625.3" width="8.6" height="8.4" fill="#fff" stroke="#c77cff" stroke-width="0.9"/>
<text x="573.7" y="631.9" font-size="6.3" fill="#222" >P780L</text>
<line x1="401.3" y1="753" x2="496.4" y2="753" stroke="#3a6fb8" stroke-width="1.3"/>
<rect x="496.4" y="748.6" width="102.9" height="8.6" fill="url(#ex)" stroke="#3566a8" stroke-width="0.6"/>
<defs><symbol id="gA" viewBox="51 -1409 1374 1409" preserveAspectRatio="none"><path transform="scale(1,-1)" d="M1133 0 1008 360H471L346 0H51L565 1409H913L1425 0ZM739 1192 733 1170Q723 1134 709.0 1088.0Q695 1042 537 582H942L803 987L760 1123Z"/></symbol><symbol id="gC" viewBox="84 -1430 1339 1450" preserveAspectRatio="none"><path transform="scale(1,-1)" d="M795 212Q1062 212 1166 480L1423 383Q1340 179 1179.5 79.5Q1019 -20 795 -20Q455 -20 269.5 172.5Q84 365 84 711Q84 1058 263.0 1244.0Q442 1430 782 1430Q1030 1430 1186.0 1330.5Q1342 1231 1405 1038L1145 967Q1112 1073 1015.5 1135.5Q919 1198 788 1198Q588 1198 484.5 1074.0Q381 950 381 711Q381 468 487.5 340.0Q594 212 795 212Z"/></symbol><symbol id="gG" viewBox="84 -1430 1382 1450" preserveAspectRatio="none"><path transform="scale(1,-1)" d="M806 211Q921 211 1029.0 244.5Q1137 278 1196 330V525H852V743H1466V225Q1354 110 1174.5 45.0Q995 -20 798 -20Q454 -20 269.0 170.5Q84 361 84 711Q84 1059 270.0 1244.5Q456 1430 805 1430Q1301 1430 1436 1063L1164 981Q1120 1088 1026.0 1143.0Q932 1198 805 1198Q597 1198 489.0 1072.0Q381 946 381 711Q381 472 492.5 341.5Q604 211 806 211Z"/></symbol><symbol id="gT" viewBox="23 -1409 1206 1409" preserveAspectRatio="none"><path transform="scale(1,-1)" d="M773 1181V0H478V1181H23V1409H1229V1181Z"/></symbol></defs>
<text x="0.0" y="781.3" font-size="18.6" font-weight="bold" fill="#000" >G</text>
<text x="225.4" y="786.1" font-size="8.9" font-weight="bold" text-anchor="middle" fill="#111" >Canonical AG</text>
<text x="497.6" y="786.1" font-size="9.0" font-weight="bold" text-anchor="middle" fill="#111" >Cryptic AG&#8217;</text>
<text x="42.8" y="815.0" font-size="8.7" font-weight="bold" fill="#111" >K700E</text>
<text x="42.8" y="856.3" font-size="8.7" font-weight="bold" fill="#111" >P780L</text>
<text x="42.8" y="895.6" font-size="8.7" font-weight="bold" fill="#111" >E722K</text>
<use href="#gG" x="105.65" y="790.50" width="3.99" height="10.91" fill="#f7b32b"/>
<use href="#gT" x="105.65" y="801.66" width="3.99" height="7.97" fill="#d8263d"/>
<use href="#gC" x="105.65" y="809.89" width="3.99" height="8.14" fill="#2a5ea6"/>
<use href="#gA" x="105.65" y="818.28" width="3.99" height="8.07" fill="#189a4e"/>
<use href="#gT" x="109.94" y="790.50" width="3.99" height="10.35" fill="#d8263d"/>
<use href="#gA" x="109.94" y="801.10" width="3.99" height="9.60" fill="#189a4e"/>
<use href="#gG" x="109.94" y="810.94" width="3.99" height="7.92" fill="#f7b32b"/>
<use href="#gC" x="109.94" y="819.12" width="3.99" height="7.23" fill="#2a5ea6"/>
<use href="#gT" x="114.22" y="790.50" width="3.99" height="10.26" fill="#d8263d"/>
<use href="#gA" x="114.22" y="801.01" width="3.99" height="9.39" fill="#189a4e"/>
<use href="#gG" x="114.22" y="810.64" width="3.99" height="7.40" fill="#f7b32b"/>
<use href="#gC" x="114.22" y="818.30" width="3.99" height="8.05" fill="#2a5ea6"/>
<use href="#gT" x="118.51" y="790.50" width="3.99" height="10.63" fill="#d8263d"/>
<use href="#gC" x="118.51" y="801.38" width="3.99" height="8.41" fill="#2a5ea6"/>
<use href="#gG" x="118.51" y="810.04" width="3.99" height="8.26" fill="#f7b32b"/>
<use href="#gA" x="118.51" y="818.55" width="3.99" height="7.80" fill="#189a4e"/>
<use href="#gT" x="122.79" y="790.50" width="3.99" height="10.18" fill="#d8263d"/>
<use href="#gA" x="122.79" y="800.93" width="3.99" height="9.32" fill="#189a4e"/>
<use href="#gG" x="122.79" y="810.50" width="3.99" height="8.63" fill="#f7b32b"/>
<use href="#gC" x="122.79" y="819.39" width="3.99" height="6.96" fill="#2a5ea6"/>
<use href="#gG" x="127.08" y="790.50" width="3.99" height="10.91" fill="#f7b32b"/>
<use href="#gT" x="127.08" y="801.66" width="3.99" height="8.30" fill="#d8263d"/>
<use href="#gA" x="127.08" y="810.21" width="3.99" height="8.26" fill="#189a4e"/>
<use href="#gC" x="127.08" y="818.72" width="3.99" height="7.63" fill="#2a5ea6"/>
<use href="#gG" x="131.37" y="790.50" width="3.99" height="10.26" fill="#f7b32b"/>
<use href="#gA" x="131.37" y="801.01" width="3.99" height="7.93" fill="#189a4e"/>
<use href="#gT" x="131.37" y="809.19" width="3.99" height="8.58" fill="#d8263d"/>
<use href="#gC" x="131.37" y="818.02" width="3.99" height="8.33" fill="#2a5ea6"/>
<use href="#gT" x="135.65" y="790.50" width="3.99" height="10.71" fill="#d8263d"/>
<use href="#gG" x="135.65" y="801.46" width="3.99" height="7.80" fill="#f7b32b"/>
<use href="#gA" x="135.65" y="809.51" width="3.99" height="8.54" fill="#189a4e"/>
<use href="#gC" x="135.65" y="818.30" width="3.99" height="8.05" fill="#2a5ea6"/>
<use href="#gT" x="139.94" y="790.50" width="3.99" height="10.55" fill="#d8263d"/>
<use href="#gC" x="139.94" y="801.30" width="3.99" height="8.94" fill="#2a5ea6"/>
<use href="#gG" x="139.94" y="810.48" width="3.99" height="8.20" fill="#f7b32b"/>
<use href="#gA" x="139.94" y="818.93" width="3.99" height="7.42" fill="#189a4e"/>
<use href="#gT" x="144.22" y="790.50" width="3.99" height="10.21" fill="#d8263d"/>
<use href="#gA" x="144.22" y="800.96" width="3.99" height="8.77" fill="#189a4e"/>
<use href="#gG" x="144.22" y="809.99" width="3.99" height="7.99" fill="#f7b32b"/>
<use href="#gC" x="144.22" y="818.23" width="3.99" height="8.12" fill="#2a5ea6"/>
<use href="#gT" x="148.51" y="790.50" width="3.99" height="10.54" fill="#d8263d"/>
<use href="#gC" x="148.51" y="801.29" width="3.99" height="9.16" fill="#2a5ea6"/>
<use href="#gA" x="148.51" y="810.70" width="3.99" height="7.81" fill="#189a4e"/>
<use href="#gG" x="148.51" y="818.76" width="3.99" height="7.59" fill="#f7b32b"/>
<use href="#gT" x="152.80" y="790.50" width="3.99" height="10.84" fill="#d8263d"/>
<use href="#gC" x="152.80" y="801.59" width="3.99" height="8.65" fill="#2a5ea6"/>
<use href="#gA" x="152.80" y="810.49" width="3.99" height="8.19" fill="#189a4e"/>
<use href="#gG" x="152.80" y="818.93" width="3.99" height="7.42" fill="#f7b32b"/>
<use href="#gT" x="157.08" y="790.50" width="3.99" height="10.19" fill="#d8263d"/>
<use href="#gA" x="157.08" y="800.94" width="3.99" height="9.12" fill="#189a4e"/>
<use href="#gC" x="157.08" y="810.31" width="3.99" height="8.10" fill="#2a5ea6"/>
<use href="#gG" x="157.08" y="818.67" width="3.99" height="7.68" fill="#f7b32b"/>
<use href="#gT" x="161.37" y="790.50" width="3.99" height="9.98" fill="#d8263d"/>
<use href="#gC" x="161.37" y="800.73" width="3.99" height="8.24" fill="#2a5ea6"/>
<use href="#gA" x="161.37" y="809.22" width="3.99" height="8.33" fill="#189a4e"/>
<use href="#gG" x="161.37" y="817.80" width="3.99" height="8.55" fill="#f7b32b"/>
<use href="#gT" x="165.65" y="790.50" width="3.99" height="11.15" fill="#d8263d"/>
<use href="#gG" x="165.65" y="801.90" width="3.99" height="9.46" fill="#f7b32b"/>
<use href="#gC" x="165.65" y="811.62" width="3.99" height="7.94" fill="#2a5ea6"/>
<use href="#gA" x="165.65" y="819.81" width="3.99" height="6.54" fill="#189a4e"/>
<use href="#gT" x="169.94" y="790.50" width="3.99" height="10.17" fill="#d8263d"/>
<use href="#gG" x="169.94" y="800.92" width="3.99" height="8.13" fill="#f7b32b"/>
<use href="#gC" x="169.94" y="809.31" width="3.99" height="9.14" fill="#2a5ea6"/>
<use href="#gA" x="169.94" y="818.70" width="3.99" height="7.65" fill="#189a4e"/>
<use href="#gT" x="174.23" y="790.50" width="3.99" height="10.76" fill="#d8263d"/>
<use href="#gA" x="174.23" y="801.51" width="3.99" height="8.36" fill="#189a4e"/>
<use href="#gC" x="174.23" y="810.12" width="3.99" height="7.92" fill="#2a5ea6"/>
<use href="#gG" x="174.23" y="818.29" width="3.99" height="8.06" fill="#f7b32b"/>
<use href="#gT" x="178.51" y="790.50" width="3.99" height="11.15" fill="#d8263d"/>
<use href="#gC" x="178.51" y="801.90" width="3.99" height="7.97" fill="#2a5ea6"/>
<use href="#gA" x="178.51" y="810.12" width="3.99" height="8.45" fill="#189a4e"/>
<use href="#gG" x="178.51" y="818.82" width="3.99" height="7.53" fill="#f7b32b"/>
<use href="#gT" x="182.80" y="790.50" width="3.99" height="11.49" fill="#d8263d"/>
<use href="#gA" x="182.80" y="802.24" width="3.99" height="8.04" fill="#189a4e"/>
<use href="#gC" x="182.80" y="810.52" width="3.99" height="7.32" fill="#2a5ea6"/>
<use href="#gG" x="182.80" y="818.09" width="3.99" height="8.26" fill="#f7b32b"/>
<use href="#gT" x="187.08" y="790.50" width="3.99" height="10.28" fill="#d8263d"/>
<use href="#gG" x="187.08" y="801.03" width="3.99" height="7.81" fill="#f7b32b"/>
<use href="#gC" x="187.08" y="809.09" width="3.99" height="8.58" fill="#2a5ea6"/>
<use href="#gA" x="187.08" y="817.92" width="3.99" height="8.43" fill="#189a4e"/>
<use href="#gT" x="191.37" y="790.50" width="3.99" height="10.66" fill="#d8263d"/>
<use href="#gC" x="191.37" y="801.41" width="3.99" height="8.13" fill="#2a5ea6"/>
<use href="#gA" x="191.37" y="809.78" width="3.99" height="8.86" fill="#189a4e"/>
<use href="#gG" x="191.37" y="818.90" width="3.99" height="7.45" fill="#f7b32b"/>
<use href="#gT" x="195.66" y="790.50" width="3.99" height="10.33" fill="#d8263d"/>
<use href="#gA" x="195.66" y="801.08" width="3.99" height="8.11" fill="#189a4e"/>
<use href="#gG" x="195.66" y="809.44" width="3.99" height="9.18" fill="#f7b32b"/>
<use href="#gC" x="195.66" y="818.86" width="3.99" height="7.49" fill="#2a5ea6"/>
<use href="#gT" x="199.94" y="790.50" width="3.99" height="9.58" fill="#d8263d"/>
<use href="#gC" x="199.94" y="800.33" width="3.99" height="8.46" fill="#2a5ea6"/>
<use href="#gG" x="199.94" y="809.04" width="3.99" height="8.44" fill="#f7b32b"/>
<use href="#gA" x="199.94" y="817.73" width="3.99" height="8.62" fill="#189a4e"/>
<use href="#gT" x="204.23" y="790.50" width="3.99" height="9.90" fill="#d8263d"/>
<use href="#gC" x="204.23" y="800.65" width="3.99" height="9.10" fill="#2a5ea6"/>
<use href="#gA" x="204.23" y="810.00" width="3.99" height="7.65" fill="#189a4e"/>
<use href="#gG" x="204.23" y="817.90" width="3.99" height="8.45" fill="#f7b32b"/>
<use href="#gT" x="208.51" y="790.50" width="3.99" height="10.23" fill="#d8263d"/>
<use href="#gG" x="208.51" y="800.98" width="3.99" height="8.89" fill="#f7b32b"/>
<use href="#gA" x="208.51" y="810.12" width="3.99" height="8.46" fill="#189a4e"/>
<use href="#gC" x="208.51" y="818.83" width="3.99" height="7.52" fill="#2a5ea6"/>
<use href="#gT" x="212.80" y="790.50" width="3.99" height="10.95" fill="#d8263d"/>
<use href="#gC" x="212.80" y="801.70" width="3.99" height="8.04" fill="#2a5ea6"/>
<use href="#gA" x="212.80" y="809.99" width="3.99" height="7.70" fill="#189a4e"/>
<use href="#gG" x="212.80" y="817.95" width="3.99" height="8.40" fill="#f7b32b"/>
<use href="#gT" x="217.09" y="790.50" width="3.99" height="11.13" fill="#d8263d"/>
<use href="#gC" x="217.09" y="801.88" width="3.99" height="8.84" fill="#2a5ea6"/>
<use href="#gA" x="217.09" y="810.96" width="3.99" height="7.07" fill="#189a4e"/>
<use href="#gG" x="217.09" y="818.28" width="3.99" height="8.07" fill="#f7b32b"/>
<use href="#gT" x="221.37" y="790.50" width="3.99" height="10.73" fill="#d8263d"/>
<use href="#gA" x="221.37" y="801.48" width="3.99" height="8.91" fill="#189a4e"/>
<use href="#gC" x="221.37" y="810.65" width="3.99" height="7.98" fill="#2a5ea6"/>
<use href="#gG" x="221.37" y="818.88" width="3.99" height="7.47" fill="#f7b32b"/>
<use href="#gT" x="225.66" y="790.50" width="3.99" height="13.40" fill="#d8263d"/>
<use href="#gA" x="225.66" y="804.15" width="3.99" height="10.56" fill="#189a4e"/>
<use href="#gC" x="225.66" y="814.96" width="3.99" height="5.61" fill="#2a5ea6"/>
<use href="#gG" x="225.66" y="820.82" width="3.99" height="5.53" fill="#f7b32b"/>
<use href="#gT" x="229.94" y="790.50" width="3.99" height="13.10" fill="#d8263d"/>
<use href="#gC" x="229.94" y="803.85" width="3.99" height="11.52" fill="#2a5ea6"/>
<use href="#gA" x="229.94" y="815.62" width="3.99" height="5.56" fill="#189a4e"/>
<use href="#gG" x="229.94" y="821.43" width="3.99" height="4.92" fill="#f7b32b"/>
<use href="#gT" x="234.23" y="790.50" width="3.99" height="12.49" fill="#d8263d"/>
<use href="#gC" x="234.23" y="803.24" width="3.99" height="10.33" fill="#2a5ea6"/>
<use href="#gA" x="234.23" y="813.83" width="3.99" height="6.50" fill="#189a4e"/>
<use href="#gG" x="234.23" y="820.58" width="3.99" height="5.77" fill="#f7b32b"/>
<use href="#gT" x="238.52" y="790.50" width="3.99" height="14.63" fill="#d8263d"/>
<use href="#gA" x="238.52" y="805.38" width="3.99" height="9.24" fill="#189a4e"/>
<use href="#gG" x="238.52" y="814.86" width="3.99" height="6.07" fill="#f7b32b"/>
<use href="#gC" x="238.52" y="821.18" width="3.99" height="5.17" fill="#2a5ea6"/>
<use href="#gT" x="242.80" y="790.50" width="3.99" height="12.73" fill="#d8263d"/>
<use href="#gC" x="242.80" y="803.48" width="3.99" height="11.50" fill="#2a5ea6"/>
<use href="#gG" x="242.80" y="815.23" width="3.99" height="6.04" fill="#f7b32b"/>
<use href="#gA" x="242.80" y="821.52" width="3.99" height="4.83" fill="#189a4e"/>
<use href="#gT" x="247.09" y="790.50" width="3.99" height="14.21" fill="#d8263d"/>
<use href="#gC" x="247.09" y="804.96" width="3.99" height="10.18" fill="#2a5ea6"/>
<use href="#gA" x="247.09" y="815.39" width="3.99" height="5.70" fill="#189a4e"/>
<use href="#gG" x="247.09" y="821.34" width="3.99" height="5.01" fill="#f7b32b"/>
<use href="#gT" x="251.37" y="790.50" width="3.99" height="13.81" fill="#d8263d"/>
<use href="#gC" x="251.37" y="804.56" width="3.99" height="9.65" fill="#2a5ea6"/>
<use href="#gG" x="251.37" y="814.46" width="3.99" height="6.57" fill="#f7b32b"/>
<use href="#gA" x="251.37" y="821.28" width="3.99" height="5.07" fill="#189a4e"/>
<use href="#gT" x="255.66" y="790.50" width="3.99" height="13.88" fill="#d8263d"/>
<use href="#gC" x="255.66" y="804.63" width="3.99" height="10.16" fill="#2a5ea6"/>
<use href="#gG" x="255.66" y="815.04" width="3.99" height="6.25" fill="#f7b32b"/>
<use href="#gA" x="255.66" y="821.54" width="3.99" height="4.81" fill="#189a4e"/>
<use href="#gT" x="259.95" y="790.50" width="3.99" height="12.45" fill="#d8263d"/>
<use href="#gC" x="259.95" y="803.20" width="3.99" height="10.27" fill="#2a5ea6"/>
<use href="#gG" x="259.95" y="813.72" width="3.99" height="6.74" fill="#f7b32b"/>
<use href="#gA" x="259.95" y="820.70" width="3.99" height="5.65" fill="#189a4e"/>
<use href="#gT" x="264.23" y="790.50" width="3.99" height="14.24" fill="#d8263d"/>
<use href="#gC" x="264.23" y="804.99" width="3.99" height="9.55" fill="#2a5ea6"/>
<use href="#gG" x="264.23" y="814.78" width="3.99" height="5.83" fill="#f7b32b"/>
<use href="#gA" x="264.23" y="820.86" width="3.99" height="5.49" fill="#189a4e"/>
<use href="#gT" x="268.52" y="790.50" width="3.99" height="14.32" fill="#d8263d"/>
<use href="#gC" x="268.52" y="805.07" width="3.99" height="10.48" fill="#2a5ea6"/>
<use href="#gA" x="268.52" y="815.80" width="3.99" height="5.28" fill="#189a4e"/>
<use href="#gG" x="268.52" y="821.33" width="3.99" height="5.02" fill="#f7b32b"/>
<use href="#gT" x="272.80" y="790.50" width="3.99" height="13.97" fill="#d8263d"/>
<use href="#gC" x="272.80" y="804.72" width="3.99" height="10.84" fill="#2a5ea6"/>
<use href="#gG" x="272.80" y="815.81" width="3.99" height="5.65" fill="#f7b32b"/>
<use href="#gA" x="272.80" y="821.71" width="3.99" height="4.64" fill="#189a4e"/>
<use href="#gT" x="277.09" y="790.50" width="3.99" height="13.45" fill="#d8263d"/>
<use href="#gC" x="277.09" y="804.20" width="3.99" height="10.50" fill="#2a5ea6"/>
<use href="#gG" x="277.09" y="814.95" width="3.99" height="5.68" fill="#f7b32b"/>
<use href="#gA" x="277.09" y="820.87" width="3.99" height="5.48" fill="#189a4e"/>
<use href="#gT" x="281.38" y="790.50" width="3.99" height="13.77" fill="#d8263d"/>
<use href="#gC" x="281.38" y="804.52" width="3.99" height="9.60" fill="#2a5ea6"/>
<use href="#gG" x="281.38" y="814.37" width="3.99" height="6.27" fill="#f7b32b"/>
<use href="#gA" x="281.38" y="820.89" width="3.99" height="5.46" fill="#189a4e"/>
<use href="#gT" x="285.66" y="790.50" width="3.99" height="12.28" fill="#d8263d"/>
<use href="#gC" x="285.66" y="803.03" width="3.99" height="10.75" fill="#2a5ea6"/>
<use href="#gG" x="285.66" y="814.03" width="3.99" height="6.66" fill="#f7b32b"/>
<use href="#gA" x="285.66" y="820.94" width="3.99" height="5.41" fill="#189a4e"/>
<use href="#gT" x="289.95" y="790.50" width="3.99" height="13.64" fill="#d8263d"/>
<use href="#gC" x="289.95" y="804.39" width="3.99" height="10.22" fill="#2a5ea6"/>
<use href="#gA" x="289.95" y="814.86" width="3.99" height="5.61" fill="#189a4e"/>
<use href="#gG" x="289.95" y="820.72" width="3.99" height="5.63" fill="#f7b32b"/>
<use href="#gT" x="294.23" y="790.50" width="3.99" height="13.27" fill="#d8263d"/>
<use href="#gC" x="294.23" y="804.02" width="3.99" height="10.92" fill="#2a5ea6"/>
<use href="#gG" x="294.23" y="815.19" width="3.99" height="5.51" fill="#f7b32b"/>
<use href="#gA" x="294.23" y="820.95" width="3.99" height="5.40" fill="#189a4e"/>
<use href="#gT" x="298.52" y="790.50" width="3.99" height="13.46" fill="#d8263d"/>
<use href="#gC" x="298.52" y="804.21" width="3.99" height="10.65" fill="#2a5ea6"/>
<use href="#gA" x="298.52" y="815.11" width="3.99" height="6.33" fill="#189a4e"/>
<use href="#gG" x="298.52" y="821.69" width="3.99" height="4.66" fill="#f7b32b"/>
<use href="#gT" x="302.81" y="790.50" width="3.99" height="12.88" fill="#d8263d"/>
<use href="#gC" x="302.81" y="803.63" width="3.99" height="10.52" fill="#2a5ea6"/>
<use href="#gA" x="302.81" y="814.40" width="3.99" height="5.82" fill="#189a4e"/>
<use href="#gG" x="302.81" y="820.47" width="3.99" height="5.88" fill="#f7b32b"/>
<use href="#gT" x="307.09" y="790.50" width="3.99" height="12.66" fill="#d8263d"/>
<use href="#gC" x="307.09" y="803.41" width="3.99" height="10.63" fill="#2a5ea6"/>
<use href="#gG" x="307.09" y="814.29" width="3.99" height="6.70" fill="#f7b32b"/>
<use href="#gA" x="307.09" y="821.24" width="3.99" height="5.11" fill="#189a4e"/>
<use href="#gT" x="311.38" y="790.50" width="3.99" height="10.58" fill="#d8263d"/>
<use href="#gC" x="311.38" y="801.33" width="3.99" height="10.58" fill="#2a5ea6"/>
<use href="#gG" x="311.38" y="812.16" width="3.99" height="7.69" fill="#f7b32b"/>
<use href="#gA" x="311.38" y="820.10" width="3.99" height="6.25" fill="#189a4e"/>
<use href="#gC" x="315.66" y="790.50" width="3.99" height="21.41" fill="#2a5ea6"/>
<use href="#gT" x="315.66" y="812.16" width="3.99" height="5.89" fill="#d8263d"/>
<use href="#gA" x="315.66" y="818.30" width="3.99" height="6.25" fill="#189a4e"/>
<use href="#gG" x="315.66" y="824.80" width="3.99" height="1.56" fill="#f7b32b"/>
<use href="#gA" x="319.95" y="790.50" width="3.99" height="35.85" fill="#189a4e"/>
<use href="#gG" x="324.24" y="790.50" width="3.99" height="35.85" fill="#f7b32b"/>
<use href="#gA" x="328.52" y="790.50" width="3.99" height="11.30" fill="#189a4e"/>
<use href="#gG" x="328.52" y="802.05" width="3.99" height="12.02" fill="#f7b32b"/>
<use href="#gC" x="328.52" y="814.33" width="3.99" height="6.97" fill="#2a5ea6"/>
<use href="#gT" x="328.52" y="821.55" width="3.99" height="4.80" fill="#d8263d"/>
<use href="#gT" x="332.81" y="790.50" width="3.99" height="11.30" fill="#d8263d"/>
<use href="#gG" x="332.81" y="802.05" width="3.99" height="9.86" fill="#f7b32b"/>
<use href="#gA" x="332.81" y="812.16" width="3.99" height="6.97" fill="#189a4e"/>
<use href="#gC" x="332.81" y="819.38" width="3.99" height="6.97" fill="#2a5ea6"/>
<use href="#gG" x="337.09" y="790.50" width="3.99" height="11.30" fill="#f7b32b"/>
<use href="#gT" x="337.09" y="802.05" width="3.99" height="9.14" fill="#d8263d"/>
<use href="#gA" x="337.09" y="811.44" width="3.99" height="6.97" fill="#189a4e"/>
<use href="#gC" x="337.09" y="818.66" width="3.99" height="7.69" fill="#2a5ea6"/>
<use href="#gC" x="341.38" y="790.50" width="3.99" height="11.30" fill="#2a5ea6"/>
<use href="#gT" x="341.38" y="802.05" width="3.99" height="9.14" fill="#d8263d"/>
<use href="#gG" x="341.38" y="811.44" width="3.99" height="8.05" fill="#f7b32b"/>
<use href="#gA" x="341.38" y="819.74" width="3.99" height="6.61" fill="#189a4e"/>
<use href="#gT" x="105.65" y="835.00" width="3.99" height="10.41" fill="#d8263d"/>
<use href="#gG" x="105.65" y="845.66" width="3.99" height="9.27" fill="#f7b32b"/>
<use href="#gA" x="105.65" y="855.18" width="3.99" height="8.13" fill="#189a4e"/>
<use href="#gC" x="105.65" y="863.56" width="3.99" height="7.69" fill="#2a5ea6"/>
<use href="#gG" x="109.94" y="835.00" width="3.99" height="11.17" fill="#f7b32b"/>
<use href="#gA" x="109.94" y="846.42" width="3.99" height="7.99" fill="#189a4e"/>
<use href="#gC" x="109.94" y="854.66" width="3.99" height="8.79" fill="#2a5ea6"/>
<use href="#gT" x="109.94" y="863.70" width="3.99" height="7.55" fill="#d8263d"/>
<use href="#gT" x="114.22" y="835.00" width="3.99" height="9.69" fill="#d8263d"/>
<use href="#gC" x="114.22" y="844.94" width="3.99" height="9.44" fill="#2a5ea6"/>
<use href="#gG" x="114.22" y="854.63" width="3.99" height="7.63" fill="#f7b32b"/>
<use href="#gA" x="114.22" y="862.52" width="3.99" height="8.73" fill="#189a4e"/>
<use href="#gT" x="118.51" y="835.00" width="3.99" height="11.05" fill="#d8263d"/>
<use href="#gA" x="118.51" y="846.30" width="3.99" height="8.13" fill="#189a4e"/>
<use href="#gC" x="118.51" y="854.68" width="3.99" height="8.97" fill="#2a5ea6"/>
<use href="#gG" x="118.51" y="863.90" width="3.99" height="7.35" fill="#f7b32b"/>
<use href="#gT" x="122.79" y="835.00" width="3.99" height="11.91" fill="#d8263d"/>
<use href="#gG" x="122.79" y="847.16" width="3.99" height="7.81" fill="#f7b32b"/>
<use href="#gC" x="122.79" y="855.21" width="3.99" height="7.75" fill="#2a5ea6"/>
<use href="#gA" x="122.79" y="863.21" width="3.99" height="8.04" fill="#189a4e"/>
<use href="#gT" x="127.08" y="835.00" width="3.99" height="10.57" fill="#d8263d"/>
<use href="#gG" x="127.08" y="845.82" width="3.99" height="8.90" fill="#f7b32b"/>
<use href="#gC" x="127.08" y="854.97" width="3.99" height="7.68" fill="#2a5ea6"/>
<use href="#gA" x="127.08" y="862.90" width="3.99" height="8.35" fill="#189a4e"/>
<use href="#gT" x="131.37" y="835.00" width="3.99" height="11.33" fill="#d8263d"/>
<use href="#gG" x="131.37" y="846.58" width="3.99" height="8.24" fill="#f7b32b"/>
<use href="#gA" x="131.37" y="855.07" width="3.99" height="8.28" fill="#189a4e"/>
<use href="#gC" x="131.37" y="863.60" width="3.99" height="7.65" fill="#2a5ea6"/>
<use href="#gT" x="135.65" y="835.00" width="3.99" height="10.79" fill="#d8263d"/>
<use href="#gG" x="135.65" y="846.04" width="3.99" height="9.58" fill="#f7b32b"/>
<use href="#gC" x="135.65" y="855.87" width="3.99" height="7.90" fill="#2a5ea6"/>
<use href="#gA" x="135.65" y="864.02" width="3.99" height="7.23" fill="#189a4e"/>
<use href="#gG" x="139.94" y="835.00" width="3.99" height="9.98" fill="#f7b32b"/>
<use href="#gT" x="139.94" y="845.23" width="3.99" height="8.76" fill="#d8263d"/>
<use href="#gC" x="139.94" y="854.25" width="3.99" height="8.58" fill="#2a5ea6"/>
<use href="#gA" x="139.94" y="863.08" width="3.99" height="8.17" fill="#189a4e"/>
<use href="#gG" x="144.22" y="835.00" width="3.99" height="10.50" fill="#f7b32b"/>
<use href="#gC" x="144.22" y="845.75" width="3.99" height="8.24" fill="#2a5ea6"/>
<use href="#gT" x="144.22" y="854.23" width="3.99" height="9.33" fill="#d8263d"/>
<use href="#gA" x="144.22" y="863.81" width="3.99" height="7.44" fill="#189a4e"/>
<use href="#gT" x="148.51" y="835.00" width="3.99" height="11.13" fill="#d8263d"/>
<use href="#gC" x="148.51" y="846.38" width="3.99" height="8.07" fill="#2a5ea6"/>
<use href="#gG" x="148.51" y="854.70" width="3.99" height="8.12" fill="#f7b32b"/>
<use href="#gA" x="148.51" y="863.07" width="3.99" height="8.18" fill="#189a4e"/>
<use href="#gT" x="152.80" y="835.00" width="3.99" height="11.47" fill="#d8263d"/>
<use href="#gG" x="152.80" y="846.72" width="3.99" height="8.26" fill="#f7b32b"/>
<use href="#gC" x="152.80" y="855.22" width="3.99" height="7.71" fill="#2a5ea6"/>
<use href="#gA" x="152.80" y="863.18" width="3.99" height="8.07" fill="#189a4e"/>
<use href="#gT" x="157.08" y="835.00" width="3.99" height="11.26" fill="#d8263d"/>
<use href="#gG" x="157.08" y="846.51" width="3.99" height="8.41" fill="#f7b32b"/>
<use href="#gC" x="157.08" y="855.17" width="3.99" height="8.20" fill="#2a5ea6"/>
<use href="#gA" x="157.08" y="863.62" width="3.99" height="7.63" fill="#189a4e"/>
<use href="#gC" x="161.37" y="835.00" width="3.99" height="11.32" fill="#2a5ea6"/>
<use href="#gA" x="161.37" y="846.57" width="3.99" height="9.16" fill="#189a4e"/>
<use href="#gT" x="161.37" y="855.98" width="3.99" height="7.28" fill="#d8263d"/>
<use href="#gG" x="161.37" y="863.51" width="3.99" height="7.74" fill="#f7b32b"/>
<use href="#gT" x="165.65" y="835.00" width="3.99" height="10.79" fill="#d8263d"/>
<use href="#gC" x="165.65" y="846.04" width="3.99" height="9.09" fill="#2a5ea6"/>
<use href="#gA" x="165.65" y="855.38" width="3.99" height="8.12" fill="#189a4e"/>
<use href="#gG" x="165.65" y="863.75" width="3.99" height="7.50" fill="#f7b32b"/>
<use href="#gT" x="169.94" y="835.00" width="3.99" height="10.54" fill="#d8263d"/>
<use href="#gC" x="169.94" y="845.79" width="3.99" height="9.75" fill="#2a5ea6"/>
<use href="#gG" x="169.94" y="855.79" width="3.99" height="7.98" fill="#f7b32b"/>
<use href="#gA" x="169.94" y="864.03" width="3.99" height="7.22" fill="#189a4e"/>
<use href="#gT" x="174.23" y="835.00" width="3.99" height="10.60" fill="#d8263d"/>
<use href="#gG" x="174.23" y="845.85" width="3.99" height="8.96" fill="#f7b32b"/>
<use href="#gC" x="174.23" y="855.06" width="3.99" height="8.29" fill="#2a5ea6"/>
<use href="#gA" x="174.23" y="863.60" width="3.99" height="7.65" fill="#189a4e"/>
<use href="#gT" x="178.51" y="835.00" width="3.99" height="10.66" fill="#d8263d"/>
<use href="#gC" x="178.51" y="845.91" width="3.99" height="9.93" fill="#2a5ea6"/>
<use href="#gA" x="178.51" y="856.09" width="3.99" height="7.65" fill="#189a4e"/>
<use href="#gG" x="178.51" y="863.99" width="3.99" height="7.26" fill="#f7b32b"/>
<use href="#gT" x="182.80" y="835.00" width="3.99" height="9.93" fill="#d8263d"/>
<use href="#gA" x="182.80" y="845.18" width="3.99" height="8.11" fill="#189a4e"/>
<use href="#gG" x="182.80" y="853.55" width="3.99" height="9.07" fill="#f7b32b"/>
<use href="#gC" x="182.80" y="862.87" width="3.99" height="8.38" fill="#2a5ea6"/>
<use href="#gT" x="187.08" y="835.00" width="3.99" height="11.38" fill="#d8263d"/>
<use href="#gC" x="187.08" y="846.63" width="3.99" height="7.66" fill="#2a5ea6"/>
<use href="#gG" x="187.08" y="854.54" width="3.99" height="8.36" fill="#f7b32b"/>
<use href="#gA" x="187.08" y="863.15" width="3.99" height="8.10" fill="#189a4e"/>
<use href="#gT" x="191.37" y="835.00" width="3.99" height="10.34" fill="#d8263d"/>
<use href="#gC" x="191.37" y="845.59" width="3.99" height="8.72" fill="#2a5ea6"/>
<use href="#gA" x="191.37" y="854.56" width="3.99" height="8.52" fill="#189a4e"/>
<use href="#gG" x="191.37" y="863.33" width="3.99" height="7.92" fill="#f7b32b"/>
<use href="#gT" x="195.66" y="835.00" width="3.99" height="10.19" fill="#d8263d"/>
<use href="#gC" x="195.66" y="845.44" width="3.99" height="8.71" fill="#2a5ea6"/>
<use href="#gG" x="195.66" y="854.40" width="3.99" height="8.50" fill="#f7b32b"/>
<use href="#gA" x="195.66" y="863.16" width="3.99" height="8.09" fill="#189a4e"/>
<use href="#gT" x="199.94" y="835.00" width="3.99" height="11.28" fill="#d8263d"/>
<use href="#gC" x="199.94" y="846.53" width="3.99" height="9.23" fill="#2a5ea6"/>
<use href="#gA" x="199.94" y="856.01" width="3.99" height="7.26" fill="#189a4e"/>
<use href="#gG" x="199.94" y="863.51" width="3.99" height="7.74" fill="#f7b32b"/>
<use href="#gC" x="204.23" y="835.00" width="3.99" height="10.03" fill="#2a5ea6"/>
<use href="#gT" x="204.23" y="845.28" width="3.99" height="8.99" fill="#d8263d"/>
<use href="#gA" x="204.23" y="854.52" width="3.99" height="7.89" fill="#189a4e"/>
<use href="#gG" x="204.23" y="862.65" width="3.99" height="8.60" fill="#f7b32b"/>
<use href="#gA" x="208.51" y="835.00" width="3.99" height="10.77" fill="#189a4e"/>
<use href="#gT" x="208.51" y="846.02" width="3.99" height="8.96" fill="#d8263d"/>
<use href="#gC" x="208.51" y="855.23" width="3.99" height="7.85" fill="#2a5ea6"/>
<use href="#gG" x="208.51" y="863.33" width="3.99" height="7.92" fill="#f7b32b"/>
<use href="#gT" x="212.80" y="835.00" width="3.99" height="10.84" fill="#d8263d"/>
<use href="#gC" x="212.80" y="846.09" width="3.99" height="7.96" fill="#2a5ea6"/>
<use href="#gG" x="212.80" y="854.30" width="3.99" height="8.97" fill="#f7b32b"/>
<use href="#gA" x="212.80" y="863.52" width="3.99" height="7.73" fill="#189a4e"/>
<use href="#gT" x="217.09" y="835.00" width="3.99" height="10.14" fill="#d8263d"/>
<use href="#gC" x="217.09" y="845.39" width="3.99" height="9.74" fill="#2a5ea6"/>
<use href="#gA" x="217.09" y="855.37" width="3.99" height="7.34" fill="#189a4e"/>
<use href="#gG" x="217.09" y="862.96" width="3.99" height="8.29" fill="#f7b32b"/>
<use href="#gT" x="221.37" y="835.00" width="3.99" height="10.22" fill="#d8263d"/>
<use href="#gC" x="221.37" y="845.47" width="3.99" height="9.69" fill="#2a5ea6"/>
<use href="#gA" x="221.37" y="855.41" width="3.99" height="7.17" fill="#189a4e"/>
<use href="#gG" x="221.37" y="862.83" width="3.99" height="8.42" fill="#f7b32b"/>
<use href="#gT" x="225.66" y="835.00" width="3.99" height="13.81" fill="#d8263d"/>
<use href="#gC" x="225.66" y="849.06" width="3.99" height="11.06" fill="#2a5ea6"/>
<use href="#gA" x="225.66" y="860.36" width="3.99" height="5.73" fill="#189a4e"/>
<use href="#gG" x="225.66" y="866.34" width="3.99" height="4.91" fill="#f7b32b"/>
<use href="#gT" x="229.94" y="835.00" width="3.99" height="13.79" fill="#d8263d"/>
<use href="#gC" x="229.94" y="849.04" width="3.99" height="10.03" fill="#2a5ea6"/>
<use href="#gA" x="229.94" y="859.32" width="3.99" height="6.48" fill="#189a4e"/>
<use href="#gG" x="229.94" y="866.05" width="3.99" height="5.20" fill="#f7b32b"/>
<use href="#gT" x="234.23" y="835.00" width="3.99" height="14.08" fill="#d8263d"/>
<use href="#gC" x="234.23" y="849.33" width="3.99" height="11.01" fill="#2a5ea6"/>
<use href="#gA" x="234.23" y="860.60" width="3.99" height="5.36" fill="#189a4e"/>
<use href="#gG" x="234.23" y="866.20" width="3.99" height="5.05" fill="#f7b32b"/>
<use href="#gT" x="238.52" y="835.00" width="3.99" height="13.11" fill="#d8263d"/>
<use href="#gC" x="238.52" y="848.36" width="3.99" height="10.38" fill="#2a5ea6"/>
<use href="#gA" x="238.52" y="858.99" width="3.99" height="5.72" fill="#189a4e"/>
<use href="#gG" x="238.52" y="864.95" width="3.99" height="6.30" fill="#f7b32b"/>
<use href="#gT" x="242.80" y="835.00" width="3.99" height="13.68" fill="#d8263d"/>
<use href="#gC" x="242.80" y="848.93" width="3.99" height="10.55" fill="#2a5ea6"/>
<use href="#gA" x="242.80" y="859.73" width="3.99" height="6.35" fill="#189a4e"/>
<use href="#gG" x="242.80" y="866.33" width="3.99" height="4.92" fill="#f7b32b"/>
<use href="#gT" x="247.09" y="835.00" width="3.99" height="13.54" fill="#d8263d"/>
<use href="#gC" x="247.09" y="848.79" width="3.99" height="10.54" fill="#2a5ea6"/>
<use href="#gG" x="247.09" y="859.58" width="3.99" height="5.97" fill="#f7b32b"/>
<use href="#gA" x="247.09" y="865.80" width="3.99" height="5.45" fill="#189a4e"/>
<use href="#gT" x="251.37" y="835.00" width="3.99" height="13.01" fill="#d8263d"/>
<use href="#gC" x="251.37" y="848.26" width="3.99" height="10.80" fill="#2a5ea6"/>
<use href="#gG" x="251.37" y="859.31" width="3.99" height="5.83" fill="#f7b32b"/>
<use href="#gA" x="251.37" y="865.39" width="3.99" height="5.86" fill="#189a4e"/>
<use href="#gT" x="255.66" y="835.00" width="3.99" height="13.24" fill="#d8263d"/>
<use href="#gC" x="255.66" y="848.49" width="3.99" height="11.28" fill="#2a5ea6"/>
<use href="#gG" x="255.66" y="860.02" width="3.99" height="5.86" fill="#f7b32b"/>
<use href="#gA" x="255.66" y="866.13" width="3.99" height="5.12" fill="#189a4e"/>
<use href="#gT" x="259.95" y="835.00" width="3.99" height="14.58" fill="#d8263d"/>
<use href="#gC" x="259.95" y="849.83" width="3.99" height="9.13" fill="#2a5ea6"/>
<use href="#gA" x="259.95" y="859.21" width="3.99" height="6.32" fill="#189a4e"/>
<use href="#gG" x="259.95" y="865.78" width="3.99" height="5.47" fill="#f7b32b"/>
<use href="#gT" x="264.23" y="835.00" width="3.99" height="13.34" fill="#d8263d"/>
<use href="#gG" x="264.23" y="848.59" width="3.99" height="10.43" fill="#f7b32b"/>
<use href="#gC" x="264.23" y="859.26" width="3.99" height="6.31" fill="#2a5ea6"/>
<use href="#gA" x="264.23" y="865.82" width="3.99" height="5.43" fill="#189a4e"/>
<use href="#gT" x="268.52" y="835.00" width="3.99" height="13.97" fill="#d8263d"/>
<use href="#gC" x="268.52" y="849.22" width="3.99" height="10.14" fill="#2a5ea6"/>
<use href="#gG" x="268.52" y="859.61" width="3.99" height="6.22" fill="#f7b32b"/>
<use href="#gA" x="268.52" y="866.08" width="3.99" height="5.17" fill="#189a4e"/>
<use href="#gT" x="272.80" y="835.00" width="3.99" height="13.65" fill="#d8263d"/>
<use href="#gC" x="272.80" y="848.90" width="3.99" height="10.41" fill="#2a5ea6"/>
<use href="#gA" x="272.80" y="859.57" width="3.99" height="6.43" fill="#189a4e"/>
<use href="#gG" x="272.80" y="866.25" width="3.99" height="5.00" fill="#f7b32b"/>
<use href="#gT" x="277.09" y="835.00" width="3.99" height="13.72" fill="#d8263d"/>
<use href="#gC" x="277.09" y="848.97" width="3.99" height="10.02" fill="#2a5ea6"/>
<use href="#gG" x="277.09" y="859.25" width="3.99" height="6.25" fill="#f7b32b"/>
<use href="#gA" x="277.09" y="865.74" width="3.99" height="5.51" fill="#189a4e"/>
<use href="#gT" x="281.38" y="835.00" width="3.99" height="13.37" fill="#d8263d"/>
<use href="#gC" x="281.38" y="848.62" width="3.99" height="11.30" fill="#2a5ea6"/>
<use href="#gA" x="281.38" y="860.17" width="3.99" height="6.24" fill="#189a4e"/>
<use href="#gG" x="281.38" y="866.66" width="3.99" height="4.59" fill="#f7b32b"/>
<use href="#gT" x="285.66" y="835.00" width="3.99" height="13.75" fill="#d8263d"/>
<use href="#gC" x="285.66" y="849.00" width="3.99" height="10.60" fill="#2a5ea6"/>
<use href="#gG" x="285.66" y="859.85" width="3.99" height="6.02" fill="#f7b32b"/>
<use href="#gA" x="285.66" y="866.12" width="3.99" height="5.13" fill="#189a4e"/>
<use href="#gT" x="289.95" y="835.00" width="3.99" height="14.16" fill="#d8263d"/>
<use href="#gC" x="289.95" y="849.41" width="3.99" height="10.83" fill="#2a5ea6"/>
<use href="#gG" x="289.95" y="860.49" width="3.99" height="6.04" fill="#f7b32b"/>
<use href="#gA" x="289.95" y="866.78" width="3.99" height="4.47" fill="#189a4e"/>
<use href="#gT" x="294.23" y="835.00" width="3.99" height="13.39" fill="#d8263d"/>
<use href="#gC" x="294.23" y="848.64" width="3.99" height="10.06" fill="#2a5ea6"/>
<use href="#gG" x="294.23" y="858.95" width="3.99" height="6.70" fill="#f7b32b"/>
<use href="#gA" x="294.23" y="865.90" width="3.99" height="5.35" fill="#189a4e"/>
<use href="#gC" x="298.52" y="835.00" width="3.99" height="14.35" fill="#2a5ea6"/>
<use href="#gT" x="298.52" y="849.60" width="3.99" height="8.88" fill="#d8263d"/>
<use href="#gA" x="298.52" y="858.73" width="3.99" height="6.32" fill="#189a4e"/>
<use href="#gG" x="298.52" y="865.30" width="3.99" height="5.96" fill="#f7b32b"/>
<use href="#gT" x="302.81" y="835.00" width="3.99" height="12.81" fill="#d8263d"/>
<use href="#gC" x="302.81" y="848.06" width="3.99" height="11.82" fill="#2a5ea6"/>
<use href="#gA" x="302.81" y="860.13" width="3.99" height="5.50" fill="#189a4e"/>
<use href="#gG" x="302.81" y="865.88" width="3.99" height="5.37" fill="#f7b32b"/>
<use href="#gT" x="307.09" y="835.00" width="3.99" height="12.92" fill="#d8263d"/>
<use href="#gC" x="307.09" y="848.17" width="3.99" height="10.10" fill="#2a5ea6"/>
<use href="#gA" x="307.09" y="858.52" width="3.99" height="6.47" fill="#189a4e"/>
<use href="#gG" x="307.09" y="865.24" width="3.99" height="6.01" fill="#f7b32b"/>
<use href="#gT" x="311.38" y="835.00" width="3.99" height="10.70" fill="#d8263d"/>
<use href="#gC" x="311.38" y="845.95" width="3.99" height="11.43" fill="#2a5ea6"/>
<use href="#gG" x="311.38" y="857.63" width="3.99" height="7.05" fill="#f7b32b"/>
<use href="#gA" x="311.38" y="864.93" width="3.99" height="6.32" fill="#189a4e"/>
<use href="#gC" x="315.66" y="835.00" width="3.99" height="20.92" fill="#2a5ea6"/>
<use href="#gT" x="315.66" y="856.17" width="3.99" height="7.05" fill="#d8263d"/>
<use href="#gA" x="315.66" y="863.47" width="3.99" height="5.96" fill="#189a4e"/>
<use href="#gG" x="315.66" y="869.67" width="3.99" height="1.58" fill="#f7b32b"/>
<use href="#gA" x="319.95" y="835.00" width="3.99" height="36.25" fill="#189a4e"/>
<use href="#gG" x="324.24" y="835.00" width="3.99" height="36.25" fill="#f7b32b"/>
<use href="#gG" x="328.52" y="835.00" width="3.99" height="10.70" fill="#f7b32b"/>
<use href="#gA" x="328.52" y="845.95" width="3.99" height="10.70" fill="#189a4e"/>
<use href="#gC" x="328.52" y="856.90" width="3.99" height="7.78" fill="#2a5ea6"/>
<use href="#gT" x="328.52" y="864.93" width="3.99" height="6.32" fill="#d8263d"/>
<use href="#gT" x="332.81" y="835.00" width="3.99" height="10.70" fill="#d8263d"/>
<use href="#gA" x="332.81" y="845.95" width="3.99" height="10.70" fill="#189a4e"/>
<use href="#gC" x="332.81" y="856.90" width="3.99" height="7.78" fill="#2a5ea6"/>
<use href="#gG" x="332.81" y="864.93" width="3.99" height="6.32" fill="#f7b32b"/>
<use href="#gT" x="337.09" y="835.00" width="3.99" height="10.70" fill="#d8263d"/>
<use href="#gA" x="337.09" y="845.95" width="3.99" height="10.70" fill="#189a4e"/>
<use href="#gC" x="337.09" y="856.90" width="3.99" height="7.78" fill="#2a5ea6"/>
<use href="#gG" x="337.09" y="864.93" width="3.99" height="6.32" fill="#f7b32b"/>
<use href="#gC" x="341.38" y="835.00" width="3.99" height="10.70" fill="#2a5ea6"/>
<use href="#gT" x="341.38" y="845.95" width="3.99" height="9.97" fill="#d8263d"/>
<use href="#gG" x="341.38" y="856.17" width="3.99" height="7.78" fill="#f7b32b"/>
<use href="#gA" x="341.38" y="864.20" width="3.99" height="7.05" fill="#189a4e"/>
<use href="#gG" x="105.65" y="881.50" width="3.99" height="10.10" fill="#f7b32b"/>
<use href="#gA" x="105.65" y="891.85" width="3.99" height="9.24" fill="#189a4e"/>
<use href="#gT" x="105.65" y="901.34" width="3.99" height="8.61" fill="#d8263d"/>
<use href="#gC" x="105.65" y="910.21" width="3.99" height="7.54" fill="#2a5ea6"/>
<use href="#gG" x="109.94" y="881.50" width="3.99" height="10.02" fill="#f7b32b"/>
<use href="#gT" x="109.94" y="891.77" width="3.99" height="9.65" fill="#d8263d"/>
<use href="#gC" x="109.94" y="901.67" width="3.99" height="8.53" fill="#2a5ea6"/>
<use href="#gA" x="109.94" y="910.45" width="3.99" height="7.30" fill="#189a4e"/>
<use href="#gC" x="114.22" y="881.50" width="3.99" height="10.40" fill="#2a5ea6"/>
<use href="#gT" x="114.22" y="892.15" width="3.99" height="8.89" fill="#d8263d"/>
<use href="#gA" x="114.22" y="901.29" width="3.99" height="8.17" fill="#189a4e"/>
<use href="#gG" x="114.22" y="909.72" width="3.99" height="8.03" fill="#f7b32b"/>
<use href="#gT" x="118.51" y="881.50" width="3.99" height="11.10" fill="#d8263d"/>
<use href="#gC" x="118.51" y="892.85" width="3.99" height="8.66" fill="#2a5ea6"/>
<use href="#gA" x="118.51" y="901.76" width="3.99" height="8.49" fill="#189a4e"/>
<use href="#gG" x="118.51" y="910.50" width="3.99" height="7.25" fill="#f7b32b"/>
<use href="#gT" x="122.79" y="881.50" width="3.99" height="10.32" fill="#d8263d"/>
<use href="#gA" x="122.79" y="892.07" width="3.99" height="10.04" fill="#189a4e"/>
<use href="#gG" x="122.79" y="902.36" width="3.99" height="7.86" fill="#f7b32b"/>
<use href="#gC" x="122.79" y="910.47" width="3.99" height="7.28" fill="#2a5ea6"/>
<use href="#gT" x="127.08" y="881.50" width="3.99" height="9.82" fill="#d8263d"/>
<use href="#gG" x="127.08" y="891.57" width="3.99" height="9.05" fill="#f7b32b"/>
<use href="#gC" x="127.08" y="900.87" width="3.99" height="9.06" fill="#2a5ea6"/>
<use href="#gA" x="127.08" y="910.18" width="3.99" height="7.57" fill="#189a4e"/>
<use href="#gT" x="131.37" y="881.50" width="3.99" height="11.41" fill="#d8263d"/>
<use href="#gA" x="131.37" y="893.16" width="3.99" height="9.31" fill="#189a4e"/>
<use href="#gG" x="131.37" y="902.72" width="3.99" height="7.32" fill="#f7b32b"/>
<use href="#gC" x="131.37" y="910.30" width="3.99" height="7.45" fill="#2a5ea6"/>
<use href="#gT" x="135.65" y="881.50" width="3.99" height="10.91" fill="#d8263d"/>
<use href="#gG" x="135.65" y="892.66" width="3.99" height="9.18" fill="#f7b32b"/>
<use href="#gA" x="135.65" y="902.09" width="3.99" height="8.49" fill="#189a4e"/>
<use href="#gC" x="135.65" y="910.83" width="3.99" height="6.92" fill="#2a5ea6"/>
<use href="#gT" x="139.94" y="881.50" width="3.99" height="11.27" fill="#d8263d"/>
<use href="#gG" x="139.94" y="893.02" width="3.99" height="8.18" fill="#f7b32b"/>
<use href="#gA" x="139.94" y="901.45" width="3.99" height="8.17" fill="#189a4e"/>
<use href="#gC" x="139.94" y="909.87" width="3.99" height="7.88" fill="#2a5ea6"/>
<use href="#gC" x="144.22" y="881.50" width="3.99" height="9.98" fill="#2a5ea6"/>
<use href="#gT" x="144.22" y="891.73" width="3.99" height="9.47" fill="#d8263d"/>
<use href="#gG" x="144.22" y="901.45" width="3.99" height="8.55" fill="#f7b32b"/>
<use href="#gA" x="144.22" y="910.25" width="3.99" height="7.50" fill="#189a4e"/>
<use href="#gT" x="148.51" y="881.50" width="3.99" height="11.40" fill="#d8263d"/>
<use href="#gC" x="148.51" y="893.15" width="3.99" height="8.11" fill="#2a5ea6"/>
<use href="#gG" x="148.51" y="901.51" width="3.99" height="9.01" fill="#f7b32b"/>
<use href="#gA" x="148.51" y="910.77" width="3.99" height="6.98" fill="#189a4e"/>
<use href="#gT" x="152.80" y="881.50" width="3.99" height="11.59" fill="#d8263d"/>
<use href="#gC" x="152.80" y="893.34" width="3.99" height="9.03" fill="#2a5ea6"/>
<use href="#gA" x="152.80" y="902.62" width="3.99" height="7.48" fill="#189a4e"/>
<use href="#gG" x="152.80" y="910.35" width="3.99" height="7.40" fill="#f7b32b"/>
<use href="#gT" x="157.08" y="881.50" width="3.99" height="11.23" fill="#d8263d"/>
<use href="#gA" x="157.08" y="892.98" width="3.99" height="8.71" fill="#189a4e"/>
<use href="#gC" x="157.08" y="901.95" width="3.99" height="7.85" fill="#2a5ea6"/>
<use href="#gG" x="157.08" y="910.05" width="3.99" height="7.70" fill="#f7b32b"/>
<use href="#gG" x="161.37" y="881.50" width="3.99" height="9.93" fill="#f7b32b"/>
<use href="#gC" x="161.37" y="891.68" width="3.99" height="9.05" fill="#2a5ea6"/>
<use href="#gA" x="161.37" y="900.98" width="3.99" height="9.03" fill="#189a4e"/>
<use href="#gT" x="161.37" y="910.26" width="3.99" height="7.49" fill="#d8263d"/>
<use href="#gT" x="165.65" y="881.50" width="3.99" height="10.15" fill="#d8263d"/>
<use href="#gG" x="165.65" y="891.90" width="3.99" height="9.59" fill="#f7b32b"/>
<use href="#gA" x="165.65" y="901.74" width="3.99" height="8.63" fill="#189a4e"/>
<use href="#gC" x="165.65" y="910.62" width="3.99" height="7.13" fill="#2a5ea6"/>
<use href="#gA" x="169.94" y="881.50" width="3.99" height="11.57" fill="#189a4e"/>
<use href="#gT" x="169.94" y="893.32" width="3.99" height="7.62" fill="#d8263d"/>
<use href="#gC" x="169.94" y="901.19" width="3.99" height="8.06" fill="#2a5ea6"/>
<use href="#gG" x="169.94" y="909.50" width="3.99" height="8.25" fill="#f7b32b"/>
<use href="#gC" x="174.23" y="881.50" width="3.99" height="10.89" fill="#2a5ea6"/>
<use href="#gT" x="174.23" y="892.64" width="3.99" height="8.80" fill="#d8263d"/>
<use href="#gG" x="174.23" y="901.69" width="3.99" height="7.44" fill="#f7b32b"/>
<use href="#gA" x="174.23" y="909.37" width="3.99" height="8.38" fill="#189a4e"/>
<use href="#gT" x="178.51" y="881.50" width="3.99" height="10.21" fill="#d8263d"/>
<use href="#gC" x="178.51" y="891.96" width="3.99" height="9.18" fill="#2a5ea6"/>
<use href="#gA" x="178.51" y="901.39" width="3.99" height="8.45" fill="#189a4e"/>
<use href="#gG" x="178.51" y="910.09" width="3.99" height="7.66" fill="#f7b32b"/>
<use href="#gT" x="182.80" y="881.50" width="3.99" height="10.84" fill="#d8263d"/>
<use href="#gA" x="182.80" y="892.59" width="3.99" height="9.41" fill="#189a4e"/>
<use href="#gC" x="182.80" y="902.26" width="3.99" height="7.62" fill="#2a5ea6"/>
<use href="#gG" x="182.80" y="910.12" width="3.99" height="7.63" fill="#f7b32b"/>
<use href="#gT" x="187.08" y="881.50" width="3.99" height="11.83" fill="#d8263d"/>
<use href="#gG" x="187.08" y="893.58" width="3.99" height="8.06" fill="#f7b32b"/>
<use href="#gC" x="187.08" y="901.89" width="3.99" height="7.14" fill="#2a5ea6"/>
<use href="#gA" x="187.08" y="909.28" width="3.99" height="8.47" fill="#189a4e"/>
<use href="#gT" x="191.37" y="881.50" width="3.99" height="10.44" fill="#d8263d"/>
<use href="#gC" x="191.37" y="892.19" width="3.99" height="8.19" fill="#2a5ea6"/>
<use href="#gG" x="191.37" y="900.63" width="3.99" height="8.78" fill="#f7b32b"/>
<use href="#gA" x="191.37" y="909.66" width="3.99" height="8.09" fill="#189a4e"/>
<use href="#gT" x="195.66" y="881.50" width="3.99" height="10.74" fill="#d8263d"/>
<use href="#gA" x="195.66" y="892.49" width="3.99" height="8.99" fill="#189a4e"/>
<use href="#gC" x="195.66" y="901.73" width="3.99" height="7.90" fill="#2a5ea6"/>
<use href="#gG" x="195.66" y="909.88" width="3.99" height="7.87" fill="#f7b32b"/>
<use href="#gT" x="199.94" y="881.50" width="3.99" height="10.78" fill="#d8263d"/>
<use href="#gC" x="199.94" y="892.53" width="3.99" height="8.94" fill="#2a5ea6"/>
<use href="#gG" x="199.94" y="901.72" width="3.99" height="7.51" fill="#f7b32b"/>
<use href="#gA" x="199.94" y="909.48" width="3.99" height="8.27" fill="#189a4e"/>
<use href="#gT" x="204.23" y="881.50" width="3.99" height="9.64" fill="#d8263d"/>
<use href="#gC" x="204.23" y="891.39" width="3.99" height="9.97" fill="#2a5ea6"/>
<use href="#gG" x="204.23" y="901.61" width="3.99" height="8.71" fill="#f7b32b"/>
<use href="#gA" x="204.23" y="910.56" width="3.99" height="7.19" fill="#189a4e"/>
<use href="#gT" x="208.51" y="881.50" width="3.99" height="10.72" fill="#d8263d"/>
<use href="#gA" x="208.51" y="892.47" width="3.99" height="9.44" fill="#189a4e"/>
<use href="#gC" x="208.51" y="902.16" width="3.99" height="8.10" fill="#2a5ea6"/>
<use href="#gG" x="208.51" y="910.51" width="3.99" height="7.24" fill="#f7b32b"/>
<use href="#gT" x="212.80" y="881.50" width="3.99" height="11.33" fill="#d8263d"/>
<use href="#gC" x="212.80" y="893.08" width="3.99" height="8.91" fill="#2a5ea6"/>
<use href="#gG" x="212.80" y="902.25" width="3.99" height="8.52" fill="#f7b32b"/>
<use href="#gA" x="212.80" y="911.01" width="3.99" height="6.74" fill="#189a4e"/>
<use href="#gT" x="217.09" y="881.50" width="3.99" height="10.13" fill="#d8263d"/>
<use href="#gC" x="217.09" y="891.88" width="3.99" height="9.28" fill="#2a5ea6"/>
<use href="#gG" x="217.09" y="901.41" width="3.99" height="7.78" fill="#f7b32b"/>
<use href="#gA" x="217.09" y="909.43" width="3.99" height="8.32" fill="#189a4e"/>
<use href="#gT" x="221.37" y="881.50" width="3.99" height="11.12" fill="#d8263d"/>
<use href="#gC" x="221.37" y="892.87" width="3.99" height="8.34" fill="#2a5ea6"/>
<use href="#gA" x="221.37" y="901.46" width="3.99" height="8.83" fill="#189a4e"/>
<use href="#gG" x="221.37" y="910.54" width="3.99" height="7.21" fill="#f7b32b"/>
<use href="#gT" x="225.66" y="881.50" width="3.99" height="12.86" fill="#d8263d"/>
<use href="#gC" x="225.66" y="894.61" width="3.99" height="11.65" fill="#2a5ea6"/>
<use href="#gA" x="225.66" y="906.51" width="3.99" height="6.22" fill="#189a4e"/>
<use href="#gG" x="225.66" y="912.98" width="3.99" height="4.77" fill="#f7b32b"/>
<use href="#gT" x="229.94" y="881.50" width="3.99" height="13.02" fill="#d8263d"/>
<use href="#gC" x="229.94" y="894.77" width="3.99" height="11.56" fill="#2a5ea6"/>
<use href="#gA" x="229.94" y="906.59" width="3.99" height="5.73" fill="#189a4e"/>
<use href="#gG" x="229.94" y="912.56" width="3.99" height="5.19" fill="#f7b32b"/>
<use href="#gT" x="234.23" y="881.50" width="3.99" height="13.59" fill="#d8263d"/>
<use href="#gC" x="234.23" y="895.34" width="3.99" height="10.50" fill="#2a5ea6"/>
<use href="#gA" x="234.23" y="906.09" width="3.99" height="5.91" fill="#189a4e"/>
<use href="#gG" x="234.23" y="912.25" width="3.99" height="5.50" fill="#f7b32b"/>
<use href="#gT" x="238.52" y="881.50" width="3.99" height="13.15" fill="#d8263d"/>
<use href="#gA" x="238.52" y="894.90" width="3.99" height="11.15" fill="#189a4e"/>
<use href="#gC" x="238.52" y="906.30" width="3.99" height="5.56" fill="#2a5ea6"/>
<use href="#gG" x="238.52" y="912.11" width="3.99" height="5.64" fill="#f7b32b"/>
<use href="#gT" x="242.80" y="881.50" width="3.99" height="13.83" fill="#d8263d"/>
<use href="#gC" x="242.80" y="895.58" width="3.99" height="10.98" fill="#2a5ea6"/>
<use href="#gG" x="242.80" y="906.81" width="3.99" height="5.18" fill="#f7b32b"/>
<use href="#gA" x="242.80" y="912.24" width="3.99" height="5.51" fill="#189a4e"/>
<use href="#gT" x="247.09" y="881.50" width="3.99" height="13.73" fill="#d8263d"/>
<use href="#gC" x="247.09" y="895.48" width="3.99" height="11.03" fill="#2a5ea6"/>
<use href="#gG" x="247.09" y="906.76" width="3.99" height="5.60" fill="#f7b32b"/>
<use href="#gA" x="247.09" y="912.62" width="3.99" height="5.13" fill="#189a4e"/>
<use href="#gT" x="251.37" y="881.50" width="3.99" height="12.52" fill="#d8263d"/>
<use href="#gC" x="251.37" y="894.27" width="3.99" height="12.22" fill="#2a5ea6"/>
<use href="#gG" x="251.37" y="906.74" width="3.99" height="5.42" fill="#f7b32b"/>
<use href="#gA" x="251.37" y="912.41" width="3.99" height="5.34" fill="#189a4e"/>
<use href="#gT" x="255.66" y="881.50" width="3.99" height="12.53" fill="#d8263d"/>
<use href="#gC" x="255.66" y="894.28" width="3.99" height="11.90" fill="#2a5ea6"/>
<use href="#gA" x="255.66" y="906.43" width="3.99" height="6.00" fill="#189a4e"/>
<use href="#gG" x="255.66" y="912.68" width="3.99" height="5.07" fill="#f7b32b"/>
<use href="#gT" x="259.95" y="881.50" width="3.99" height="13.87" fill="#d8263d"/>
<use href="#gC" x="259.95" y="895.62" width="3.99" height="11.33" fill="#2a5ea6"/>
<use href="#gG" x="259.95" y="907.20" width="3.99" height="5.31" fill="#f7b32b"/>
<use href="#gA" x="259.95" y="912.76" width="3.99" height="4.99" fill="#189a4e"/>
<use href="#gT" x="264.23" y="881.50" width="3.99" height="13.37" fill="#d8263d"/>
<use href="#gC" x="264.23" y="895.12" width="3.99" height="11.20" fill="#2a5ea6"/>
<use href="#gA" x="264.23" y="906.57" width="3.99" height="5.44" fill="#189a4e"/>
<use href="#gG" x="264.23" y="912.26" width="3.99" height="5.49" fill="#f7b32b"/>
<use href="#gT" x="268.52" y="881.50" width="3.99" height="13.62" fill="#d8263d"/>
<use href="#gC" x="268.52" y="895.37" width="3.99" height="11.30" fill="#2a5ea6"/>
<use href="#gG" x="268.52" y="906.92" width="3.99" height="5.88" fill="#f7b32b"/>
<use href="#gA" x="268.52" y="913.05" width="3.99" height="4.70" fill="#189a4e"/>
<use href="#gT" x="272.80" y="881.50" width="3.99" height="14.43" fill="#d8263d"/>
<use href="#gG" x="272.80" y="896.18" width="3.99" height="10.05" fill="#f7b32b"/>
<use href="#gC" x="272.80" y="906.48" width="3.99" height="6.09" fill="#2a5ea6"/>
<use href="#gA" x="272.80" y="912.82" width="3.99" height="4.93" fill="#189a4e"/>
<use href="#gT" x="277.09" y="881.50" width="3.99" height="14.51" fill="#d8263d"/>
<use href="#gC" x="277.09" y="896.26" width="3.99" height="10.68" fill="#2a5ea6"/>
<use href="#gG" x="277.09" y="907.19" width="3.99" height="5.59" fill="#f7b32b"/>
<use href="#gA" x="277.09" y="913.03" width="3.99" height="4.72" fill="#189a4e"/>
<use href="#gT" x="281.38" y="881.50" width="3.99" height="13.29" fill="#d8263d"/>
<use href="#gC" x="281.38" y="895.04" width="3.99" height="10.30" fill="#2a5ea6"/>
<use href="#gA" x="281.38" y="905.59" width="3.99" height="6.54" fill="#189a4e"/>
<use href="#gG" x="281.38" y="912.38" width="3.99" height="5.37" fill="#f7b32b"/>
<use href="#gT" x="285.66" y="881.50" width="3.99" height="13.49" fill="#d8263d"/>
<use href="#gC" x="285.66" y="895.24" width="3.99" height="10.42" fill="#2a5ea6"/>
<use href="#gA" x="285.66" y="905.91" width="3.99" height="6.51" fill="#189a4e"/>
<use href="#gG" x="285.66" y="912.67" width="3.99" height="5.08" fill="#f7b32b"/>
<use href="#gC" x="289.95" y="881.50" width="3.99" height="14.35" fill="#2a5ea6"/>
<use href="#gT" x="289.95" y="896.10" width="3.99" height="8.88" fill="#d8263d"/>
<use href="#gA" x="289.95" y="905.23" width="3.99" height="6.32" fill="#189a4e"/>
<use href="#gG" x="289.95" y="911.80" width="3.99" height="5.96" fill="#f7b32b"/>
<use href="#gT" x="294.23" y="881.50" width="3.99" height="14.36" fill="#d8263d"/>
<use href="#gC" x="294.23" y="896.11" width="3.99" height="10.76" fill="#2a5ea6"/>
<use href="#gA" x="294.23" y="907.13" width="3.99" height="5.84" fill="#189a4e"/>
<use href="#gG" x="294.23" y="913.22" width="3.99" height="4.53" fill="#f7b32b"/>
<use href="#gT" x="298.52" y="881.50" width="3.99" height="14.35" fill="#d8263d"/>
<use href="#gC" x="298.52" y="896.10" width="3.99" height="9.87" fill="#2a5ea6"/>
<use href="#gG" x="298.52" y="906.22" width="3.99" height="5.89" fill="#f7b32b"/>
<use href="#gA" x="298.52" y="912.36" width="3.99" height="5.39" fill="#189a4e"/>
<use href="#gT" x="302.81" y="881.50" width="3.99" height="14.68" fill="#d8263d"/>
<use href="#gC" x="302.81" y="896.43" width="3.99" height="9.85" fill="#2a5ea6"/>
<use href="#gA" x="302.81" y="906.53" width="3.99" height="6.48" fill="#189a4e"/>
<use href="#gG" x="302.81" y="913.26" width="3.99" height="4.49" fill="#f7b32b"/>
<use href="#gT" x="307.09" y="881.50" width="3.99" height="12.41" fill="#d8263d"/>
<use href="#gC" x="307.09" y="894.16" width="3.99" height="11.18" fill="#2a5ea6"/>
<use href="#gA" x="307.09" y="905.59" width="3.99" height="6.14" fill="#189a4e"/>
<use href="#gG" x="307.09" y="911.98" width="3.99" height="5.77" fill="#f7b32b"/>
<use href="#gG" x="311.38" y="881.50" width="3.99" height="10.70" fill="#f7b32b"/>
<use href="#gA" x="311.38" y="892.45" width="3.99" height="9.97" fill="#189a4e"/>
<use href="#gC" x="311.38" y="902.67" width="3.99" height="7.78" fill="#2a5ea6"/>
<use href="#gT" x="311.38" y="910.70" width="3.99" height="7.05" fill="#d8263d"/>
<use href="#gC" x="315.66" y="881.50" width="3.99" height="21.65" fill="#2a5ea6"/>
<use href="#gT" x="315.66" y="903.40" width="3.99" height="5.96" fill="#d8263d"/>
<use href="#gA" x="315.66" y="909.61" width="3.99" height="6.32" fill="#189a4e"/>
<use href="#gG" x="315.66" y="916.18" width="3.99" height="1.58" fill="#f7b32b"/>
<use href="#gA" x="319.95" y="881.50" width="3.99" height="36.25" fill="#189a4e"/>
<use href="#gG" x="324.24" y="881.50" width="3.99" height="36.25" fill="#f7b32b"/>
<use href="#gG" x="328.52" y="881.50" width="3.99" height="10.70" fill="#f7b32b"/>
<use href="#gA" x="328.52" y="892.45" width="3.99" height="10.70" fill="#189a4e"/>
<use href="#gT" x="328.52" y="903.40" width="3.99" height="7.78" fill="#d8263d"/>
<use href="#gC" x="328.52" y="911.43" width="3.99" height="6.32" fill="#2a5ea6"/>
<use href="#gT" x="332.81" y="881.50" width="3.99" height="10.70" fill="#d8263d"/>
<use href="#gA" x="332.81" y="892.45" width="3.99" height="10.70" fill="#189a4e"/>
<use href="#gC" x="332.81" y="903.40" width="3.99" height="7.78" fill="#2a5ea6"/>
<use href="#gG" x="332.81" y="911.43" width="3.99" height="6.32" fill="#f7b32b"/>
<use href="#gA" x="337.09" y="881.50" width="3.99" height="10.70" fill="#189a4e"/>
<use href="#gC" x="337.09" y="892.45" width="3.99" height="10.70" fill="#2a5ea6"/>
<use href="#gG" x="337.09" y="903.40" width="3.99" height="7.78" fill="#f7b32b"/>
<use href="#gT" x="337.09" y="911.43" width="3.99" height="6.32" fill="#d8263d"/>
<use href="#gC" x="341.38" y="881.50" width="3.99" height="10.70" fill="#2a5ea6"/>
<use href="#gT" x="341.38" y="892.45" width="3.99" height="10.70" fill="#d8263d"/>
<use href="#gA" x="341.38" y="903.40" width="3.99" height="7.78" fill="#189a4e"/>
<use href="#gG" x="341.38" y="911.43" width="3.99" height="6.32" fill="#f7b32b"/>
<use href="#gT" x="394.05" y="790.50" width="3.99" height="10.73" fill="#f01e23"/>
<use href="#gG" x="394.05" y="801.48" width="3.99" height="8.43" fill="#f9a71a"/>
<use href="#gA" x="394.05" y="810.16" width="3.99" height="7.39" fill="#1e8a2a"/>
<use href="#gC" x="394.05" y="817.80" width="3.99" height="8.55" fill="#6a3cf2"/>
<use href="#gT" x="398.34" y="790.50" width="3.99" height="10.72" fill="#f01e23"/>
<use href="#gG" x="398.34" y="801.47" width="3.99" height="8.18" fill="#f9a71a"/>
<use href="#gC" x="398.34" y="809.89" width="3.99" height="7.68" fill="#6a3cf2"/>
<use href="#gA" x="398.34" y="817.82" width="3.99" height="8.53" fill="#1e8a2a"/>
<use href="#gT" x="402.62" y="790.50" width="3.99" height="10.05" fill="#f01e23"/>
<use href="#gA" x="402.62" y="800.80" width="3.99" height="8.27" fill="#1e8a2a"/>
<use href="#gC" x="402.62" y="809.32" width="3.99" height="8.48" fill="#6a3cf2"/>
<use href="#gG" x="402.62" y="818.05" width="3.99" height="8.30" fill="#f9a71a"/>
<use href="#gT" x="406.91" y="790.50" width="3.99" height="10.27" fill="#f01e23"/>
<use href="#gG" x="406.91" y="801.02" width="3.99" height="9.39" fill="#f9a71a"/>
<use href="#gA" x="406.91" y="810.66" width="3.99" height="8.35" fill="#1e8a2a"/>
<use href="#gC" x="406.91" y="819.25" width="3.99" height="7.10" fill="#6a3cf2"/>
<use href="#gC" x="411.20" y="790.50" width="3.99" height="9.63" fill="#6a3cf2"/>
<use href="#gA" x="411.20" y="800.38" width="3.99" height="8.99" fill="#1e8a2a"/>
<use href="#gT" x="411.20" y="809.63" width="3.99" height="8.51" fill="#f01e23"/>
<use href="#gG" x="411.20" y="818.39" width="3.99" height="7.96" fill="#f9a71a"/>
<use href="#gT" x="415.48" y="790.50" width="3.99" height="10.97" fill="#f01e23"/>
<use href="#gA" x="415.48" y="801.72" width="3.99" height="8.52" fill="#1e8a2a"/>
<use href="#gG" x="415.48" y="810.48" width="3.99" height="8.27" fill="#f9a71a"/>
<use href="#gC" x="415.48" y="819.00" width="3.99" height="7.35" fill="#6a3cf2"/>
<use href="#gT" x="419.77" y="790.50" width="3.99" height="10.85" fill="#f01e23"/>
<use href="#gA" x="419.77" y="801.60" width="3.99" height="8.84" fill="#1e8a2a"/>
<use href="#gG" x="419.77" y="810.68" width="3.99" height="7.81" fill="#f9a71a"/>
<use href="#gC" x="419.77" y="818.74" width="3.99" height="7.61" fill="#6a3cf2"/>
<use href="#gA" x="424.06" y="790.50" width="3.99" height="11.05" fill="#1e8a2a"/>
<use href="#gT" x="424.06" y="801.80" width="3.99" height="8.03" fill="#f01e23"/>
<use href="#gG" x="424.06" y="810.09" width="3.99" height="8.51" fill="#f9a71a"/>
<use href="#gC" x="424.06" y="818.84" width="3.99" height="7.51" fill="#6a3cf2"/>
<use href="#gT" x="428.35" y="790.50" width="3.99" height="10.80" fill="#f01e23"/>
<use href="#gG" x="428.35" y="801.55" width="3.99" height="8.03" fill="#f9a71a"/>
<use href="#gC" x="428.35" y="809.83" width="3.99" height="8.77" fill="#6a3cf2"/>
<use href="#gA" x="428.35" y="818.85" width="3.99" height="7.50" fill="#1e8a2a"/>
<use href="#gT" x="432.63" y="790.50" width="3.99" height="10.77" fill="#f01e23"/>
<use href="#gC" x="432.63" y="801.52" width="3.99" height="9.03" fill="#6a3cf2"/>
<use href="#gA" x="432.63" y="810.79" width="3.99" height="7.32" fill="#1e8a2a"/>
<use href="#gG" x="432.63" y="818.37" width="3.99" height="7.98" fill="#f9a71a"/>
<use href="#gG" x="436.92" y="790.50" width="3.99" height="11.50" fill="#f9a71a"/>
<use href="#gT" x="436.92" y="802.25" width="3.99" height="8.05" fill="#f01e23"/>
<use href="#gC" x="436.92" y="810.56" width="3.99" height="8.33" fill="#6a3cf2"/>
<use href="#gA" x="436.92" y="819.14" width="3.99" height="7.21" fill="#1e8a2a"/>
<use href="#gT" x="441.21" y="790.50" width="3.99" height="11.27" fill="#f01e23"/>
<use href="#gG" x="441.21" y="802.02" width="3.99" height="7.52" fill="#f9a71a"/>
<use href="#gC" x="441.21" y="809.79" width="3.99" height="8.32" fill="#6a3cf2"/>
<use href="#gA" x="441.21" y="818.36" width="3.99" height="7.99" fill="#1e8a2a"/>
<use href="#gT" x="445.49" y="790.50" width="3.99" height="10.75" fill="#f01e23"/>
<use href="#gG" x="445.49" y="801.50" width="3.99" height="9.49" fill="#f9a71a"/>
<use href="#gA" x="445.49" y="811.24" width="3.99" height="7.19" fill="#1e8a2a"/>
<use href="#gC" x="445.49" y="818.68" width="3.99" height="7.67" fill="#6a3cf2"/>
<use href="#gT" x="449.78" y="790.50" width="3.99" height="10.13" fill="#f01e23"/>
<use href="#gC" x="449.78" y="800.88" width="3.99" height="7.96" fill="#6a3cf2"/>
<use href="#gG" x="449.78" y="809.09" width="3.99" height="8.30" fill="#f9a71a"/>
<use href="#gA" x="449.78" y="817.64" width="3.99" height="8.71" fill="#1e8a2a"/>
<use href="#gT" x="454.07" y="790.50" width="3.99" height="10.44" fill="#f01e23"/>
<use href="#gC" x="454.07" y="801.19" width="3.99" height="8.46" fill="#6a3cf2"/>
<use href="#gA" x="454.07" y="809.91" width="3.99" height="9.09" fill="#1e8a2a"/>
<use href="#gG" x="454.07" y="819.25" width="3.99" height="7.10" fill="#f9a71a"/>
<use href="#gT" x="458.35" y="790.50" width="3.99" height="10.60" fill="#f01e23"/>
<use href="#gG" x="458.35" y="801.35" width="3.99" height="8.36" fill="#f9a71a"/>
<use href="#gC" x="458.35" y="809.96" width="3.99" height="7.56" fill="#6a3cf2"/>
<use href="#gA" x="458.35" y="817.76" width="3.99" height="8.59" fill="#1e8a2a"/>
<use href="#gT" x="462.64" y="790.50" width="3.99" height="10.76" fill="#f01e23"/>
<use href="#gG" x="462.64" y="801.51" width="3.99" height="8.20" fill="#f9a71a"/>
<use href="#gC" x="462.64" y="809.96" width="3.99" height="7.83" fill="#6a3cf2"/>
<use href="#gA" x="462.64" y="818.05" width="3.99" height="8.30" fill="#1e8a2a"/>
<use href="#gT" x="466.93" y="790.50" width="3.99" height="10.41" fill="#f01e23"/>
<use href="#gA" x="466.93" y="801.16" width="3.99" height="9.06" fill="#1e8a2a"/>
<use href="#gG" x="466.93" y="810.47" width="3.99" height="7.94" fill="#f9a71a"/>
<use href="#gC" x="466.93" y="818.66" width="3.99" height="7.69" fill="#6a3cf2"/>
<use href="#gT" x="471.22" y="790.50" width="3.99" height="10.36" fill="#f01e23"/>
<use href="#gC" x="471.22" y="801.11" width="3.99" height="8.40" fill="#6a3cf2"/>
<use href="#gA" x="471.22" y="809.76" width="3.99" height="8.20" fill="#1e8a2a"/>
<use href="#gG" x="471.22" y="818.21" width="3.99" height="8.14" fill="#f9a71a"/>
<use href="#gC" x="475.50" y="790.50" width="3.99" height="9.47" fill="#6a3cf2"/>
<use href="#gT" x="475.50" y="800.22" width="3.99" height="9.10" fill="#f01e23"/>
<use href="#gA" x="475.50" y="809.57" width="3.99" height="8.46" fill="#1e8a2a"/>
<use href="#gG" x="475.50" y="818.28" width="3.99" height="8.07" fill="#f9a71a"/>
<use href="#gT" x="479.79" y="790.50" width="3.99" height="10.79" fill="#f01e23"/>
<use href="#gC" x="479.79" y="801.54" width="3.99" height="9.37" fill="#6a3cf2"/>
<use href="#gG" x="479.79" y="811.16" width="3.99" height="7.80" fill="#f9a71a"/>
<use href="#gA" x="479.79" y="819.21" width="3.99" height="7.14" fill="#1e8a2a"/>
<use href="#gT" x="484.08" y="790.50" width="3.99" height="10.41" fill="#f01e23"/>
<use href="#gA" x="484.08" y="801.16" width="3.99" height="9.28" fill="#1e8a2a"/>
<use href="#gG" x="484.08" y="810.69" width="3.99" height="8.07" fill="#f9a71a"/>
<use href="#gC" x="484.08" y="819.00" width="3.99" height="7.35" fill="#6a3cf2"/>
<use href="#gT" x="488.36" y="790.50" width="3.99" height="9.92" fill="#f01e23"/>
<use href="#gC" x="488.36" y="800.67" width="3.99" height="8.54" fill="#6a3cf2"/>
<use href="#gG" x="488.36" y="809.46" width="3.99" height="8.56" fill="#f9a71a"/>
<use href="#gA" x="488.36" y="818.27" width="3.99" height="8.08" fill="#1e8a2a"/>
<use href="#gT" x="492.65" y="790.50" width="3.99" height="11.10" fill="#f01e23"/>
<use href="#gA" x="492.65" y="801.85" width="3.99" height="8.65" fill="#1e8a2a"/>
<use href="#gG" x="492.65" y="810.75" width="3.99" height="8.05" fill="#f9a71a"/>
<use href="#gC" x="492.65" y="819.05" width="3.99" height="7.30" fill="#6a3cf2"/>
<use href="#gC" x="496.94" y="790.50" width="3.99" height="10.80" fill="#6a3cf2"/>
<use href="#gT" x="496.94" y="801.55" width="3.99" height="8.51" fill="#f01e23"/>
<use href="#gA" x="496.94" y="810.31" width="3.99" height="7.55" fill="#1e8a2a"/>
<use href="#gG" x="496.94" y="818.11" width="3.99" height="8.24" fill="#f9a71a"/>
<use href="#gT" x="501.22" y="790.50" width="3.99" height="10.42" fill="#f01e23"/>
<use href="#gC" x="501.22" y="801.17" width="3.99" height="8.35" fill="#6a3cf2"/>
<use href="#gA" x="501.22" y="809.77" width="3.99" height="8.44" fill="#1e8a2a"/>
<use href="#gG" x="501.22" y="818.46" width="3.99" height="7.89" fill="#f9a71a"/>
<use href="#gT" x="505.51" y="790.50" width="3.99" height="10.06" fill="#f01e23"/>
<use href="#gA" x="505.51" y="800.81" width="3.99" height="8.60" fill="#1e8a2a"/>
<use href="#gG" x="505.51" y="809.67" width="3.99" height="8.08" fill="#f9a71a"/>
<use href="#gC" x="505.51" y="818.00" width="3.99" height="8.35" fill="#6a3cf2"/>
<use href="#gT" x="509.80" y="790.50" width="3.99" height="10.91" fill="#f01e23"/>
<use href="#gC" x="509.80" y="801.66" width="3.99" height="9.67" fill="#6a3cf2"/>
<use href="#gA" x="509.80" y="811.58" width="3.99" height="7.41" fill="#1e8a2a"/>
<use href="#gG" x="509.80" y="819.24" width="3.99" height="7.11" fill="#f9a71a"/>
<use href="#gT" x="514.09" y="790.50" width="3.99" height="13.13" fill="#f01e23"/>
<use href="#gC" x="514.09" y="803.88" width="3.99" height="10.62" fill="#6a3cf2"/>
<use href="#gA" x="514.09" y="814.74" width="3.99" height="5.81" fill="#1e8a2a"/>
<use href="#gG" x="514.09" y="820.80" width="3.99" height="5.55" fill="#f9a71a"/>
<use href="#gT" x="518.37" y="790.50" width="3.99" height="12.96" fill="#f01e23"/>
<use href="#gC" x="518.37" y="803.71" width="3.99" height="11.76" fill="#6a3cf2"/>
<use href="#gG" x="518.37" y="815.72" width="3.99" height="5.83" fill="#f9a71a"/>
<use href="#gA" x="518.37" y="821.80" width="3.99" height="4.55" fill="#1e8a2a"/>
<use href="#gT" x="522.66" y="790.50" width="3.99" height="12.87" fill="#f01e23"/>
<use href="#gC" x="522.66" y="803.62" width="3.99" height="10.64" fill="#6a3cf2"/>
<use href="#gA" x="522.66" y="814.51" width="3.99" height="6.54" fill="#1e8a2a"/>
<use href="#gG" x="522.66" y="821.29" width="3.99" height="5.06" fill="#f9a71a"/>
<use href="#gT" x="526.95" y="790.50" width="3.99" height="14.84" fill="#f01e23"/>
<use href="#gC" x="526.95" y="805.59" width="3.99" height="9.53" fill="#6a3cf2"/>
<use href="#gA" x="526.95" y="815.37" width="3.99" height="5.42" fill="#1e8a2a"/>
<use href="#gG" x="526.95" y="821.04" width="3.99" height="5.31" fill="#f9a71a"/>
<use href="#gT" x="531.23" y="790.50" width="3.99" height="13.72" fill="#f01e23"/>
<use href="#gC" x="531.23" y="804.47" width="3.99" height="9.87" fill="#6a3cf2"/>
<use href="#gA" x="531.23" y="814.58" width="3.99" height="5.64" fill="#1e8a2a"/>
<use href="#gG" x="531.23" y="820.47" width="3.99" height="5.88" fill="#f9a71a"/>
<use href="#gT" x="535.52" y="790.50" width="3.99" height="13.44" fill="#f01e23"/>
<use href="#gC" x="535.52" y="804.19" width="3.99" height="11.20" fill="#6a3cf2"/>
<use href="#gA" x="535.52" y="815.64" width="3.99" height="5.72" fill="#1e8a2a"/>
<use href="#gG" x="535.52" y="821.61" width="3.99" height="4.74" fill="#f9a71a"/>
<use href="#gT" x="539.81" y="790.50" width="3.99" height="14.28" fill="#f01e23"/>
<use href="#gC" x="539.81" y="805.03" width="3.99" height="10.12" fill="#6a3cf2"/>
<use href="#gA" x="539.81" y="815.41" width="3.99" height="5.54" fill="#1e8a2a"/>
<use href="#gG" x="539.81" y="821.19" width="3.99" height="5.16" fill="#f9a71a"/>
<use href="#gT" x="544.09" y="790.50" width="3.99" height="13.25" fill="#f01e23"/>
<use href="#gC" x="544.09" y="804.00" width="3.99" height="10.52" fill="#6a3cf2"/>
<use href="#gG" x="544.09" y="814.77" width="3.99" height="6.00" fill="#f9a71a"/>
<use href="#gA" x="544.09" y="821.02" width="3.99" height="5.33" fill="#1e8a2a"/>
<use href="#gT" x="548.38" y="790.50" width="3.99" height="14.23" fill="#f01e23"/>
<use href="#gC" x="548.38" y="804.98" width="3.99" height="10.76" fill="#6a3cf2"/>
<use href="#gA" x="548.38" y="815.98" width="3.99" height="5.42" fill="#1e8a2a"/>
<use href="#gG" x="548.38" y="821.65" width="3.99" height="4.70" fill="#f9a71a"/>
<use href="#gC" x="552.67" y="790.50" width="3.99" height="10.58" fill="#6a3cf2"/>
<use href="#gT" x="552.67" y="801.33" width="3.99" height="11.30" fill="#f01e23"/>
<use href="#gA" x="552.67" y="812.88" width="3.99" height="6.97" fill="#1e8a2a"/>
<use href="#gG" x="552.67" y="820.10" width="3.99" height="6.25" fill="#f9a71a"/>
<use href="#gT" x="556.96" y="790.50" width="3.99" height="13.98" fill="#f01e23"/>
<use href="#gC" x="556.96" y="804.73" width="3.99" height="11.04" fill="#6a3cf2"/>
<use href="#gG" x="556.96" y="816.02" width="3.99" height="4.90" fill="#f9a71a"/>
<use href="#gA" x="556.96" y="821.17" width="3.99" height="5.18" fill="#1e8a2a"/>
<use href="#gT" x="561.24" y="790.50" width="3.99" height="13.71" fill="#f01e23"/>
<use href="#gC" x="561.24" y="804.46" width="3.99" height="9.91" fill="#6a3cf2"/>
<use href="#gG" x="561.24" y="814.63" width="3.99" height="5.63" fill="#f9a71a"/>
<use href="#gA" x="561.24" y="820.50" width="3.99" height="5.85" fill="#1e8a2a"/>
<use href="#gT" x="565.53" y="790.50" width="3.99" height="13.08" fill="#f01e23"/>
<use href="#gC" x="565.53" y="803.83" width="3.99" height="10.79" fill="#6a3cf2"/>
<use href="#gG" x="565.53" y="814.87" width="3.99" height="5.74" fill="#f9a71a"/>
<use href="#gA" x="565.53" y="820.85" width="3.99" height="5.50" fill="#1e8a2a"/>
<use href="#gT" x="569.82" y="790.50" width="3.99" height="12.61" fill="#f01e23"/>
<use href="#gC" x="569.82" y="803.36" width="3.99" height="10.91" fill="#6a3cf2"/>
<use href="#gG" x="569.82" y="814.52" width="3.99" height="6.25" fill="#f9a71a"/>
<use href="#gA" x="569.82" y="821.03" width="3.99" height="5.32" fill="#1e8a2a"/>
<use href="#gT" x="574.10" y="790.50" width="3.99" height="13.58" fill="#f01e23"/>
<use href="#gC" x="574.10" y="804.33" width="3.99" height="11.00" fill="#6a3cf2"/>
<use href="#gA" x="574.10" y="815.57" width="3.99" height="5.82" fill="#1e8a2a"/>
<use href="#gG" x="574.10" y="821.64" width="3.99" height="4.71" fill="#f9a71a"/>
<use href="#gT" x="578.39" y="790.50" width="3.99" height="13.90" fill="#f01e23"/>
<use href="#gC" x="578.39" y="804.65" width="3.99" height="10.22" fill="#6a3cf2"/>
<use href="#gA" x="578.39" y="815.12" width="3.99" height="5.53" fill="#1e8a2a"/>
<use href="#gG" x="578.39" y="820.90" width="3.99" height="5.45" fill="#f9a71a"/>
<use href="#gT" x="582.68" y="790.50" width="3.99" height="12.36" fill="#f01e23"/>
<use href="#gC" x="582.68" y="803.11" width="3.99" height="11.18" fill="#6a3cf2"/>
<use href="#gG" x="582.68" y="814.53" width="3.99" height="5.80" fill="#f9a71a"/>
<use href="#gA" x="582.68" y="820.58" width="3.99" height="5.77" fill="#1e8a2a"/>
<use href="#gT" x="586.96" y="790.50" width="3.99" height="12.52" fill="#f01e23"/>
<use href="#gC" x="586.96" y="803.27" width="3.99" height="10.60" fill="#6a3cf2"/>
<use href="#gA" x="586.96" y="814.12" width="3.99" height="6.70" fill="#1e8a2a"/>
<use href="#gG" x="586.96" y="821.07" width="3.99" height="5.28" fill="#f9a71a"/>
<use href="#gT" x="591.25" y="790.50" width="3.99" height="12.54" fill="#f01e23"/>
<use href="#gC" x="591.25" y="803.29" width="3.99" height="10.37" fill="#6a3cf2"/>
<use href="#gA" x="591.25" y="813.92" width="3.99" height="6.56" fill="#1e8a2a"/>
<use href="#gG" x="591.25" y="820.73" width="3.99" height="5.62" fill="#f9a71a"/>
<use href="#gT" x="595.54" y="790.50" width="3.99" height="14.77" fill="#f01e23"/>
<use href="#gC" x="595.54" y="805.52" width="3.99" height="10.32" fill="#6a3cf2"/>
<use href="#gA" x="595.54" y="816.09" width="3.99" height="5.44" fill="#1e8a2a"/>
<use href="#gG" x="595.54" y="821.78" width="3.99" height="4.57" fill="#f9a71a"/>
<use href="#gC" x="599.83" y="790.50" width="3.99" height="10.58" fill="#6a3cf2"/>
<use href="#gG" x="599.83" y="801.33" width="3.99" height="8.78" fill="#f9a71a"/>
<use href="#gT" x="599.83" y="810.36" width="3.99" height="9.50" fill="#f01e23"/>
<use href="#gA" x="599.83" y="820.10" width="3.99" height="6.25" fill="#1e8a2a"/>
<use href="#gC" x="604.11" y="790.50" width="3.99" height="22.13" fill="#6a3cf2"/>
<use href="#gT" x="604.11" y="812.88" width="3.99" height="6.25" fill="#f01e23"/>
<use href="#gA" x="604.11" y="819.38" width="3.99" height="5.17" fill="#1e8a2a"/>
<use href="#gG" x="604.11" y="824.80" width="3.99" height="1.56" fill="#f9a71a"/>
<use href="#gA" x="608.40" y="790.50" width="3.99" height="35.85" fill="#1e8a2a"/>
<use href="#gG" x="612.69" y="790.50" width="3.99" height="35.85" fill="#f9a71a"/>
<use href="#gG" x="616.97" y="790.50" width="3.99" height="12.39" fill="#f9a71a"/>
<use href="#gC" x="616.97" y="803.13" width="3.99" height="10.58" fill="#6a3cf2"/>
<use href="#gT" x="616.97" y="813.97" width="3.99" height="6.97" fill="#f01e23"/>
<use href="#gA" x="616.97" y="821.19" width="3.99" height="5.17" fill="#1e8a2a"/>
<use href="#gT" x="621.26" y="790.50" width="3.99" height="10.58" fill="#f01e23"/>
<use href="#gA" x="621.26" y="801.33" width="3.99" height="10.58" fill="#1e8a2a"/>
<use href="#gC" x="621.26" y="812.16" width="3.99" height="7.69" fill="#6a3cf2"/>
<use href="#gG" x="621.26" y="820.10" width="3.99" height="6.25" fill="#f9a71a"/>
<use href="#gT" x="625.55" y="790.50" width="3.99" height="10.58" fill="#f01e23"/>
<use href="#gC" x="625.55" y="801.33" width="3.99" height="10.58" fill="#6a3cf2"/>
<use href="#gA" x="625.55" y="812.16" width="3.99" height="7.69" fill="#1e8a2a"/>
<use href="#gG" x="625.55" y="820.10" width="3.99" height="6.25" fill="#f9a71a"/>
<use href="#gT" x="629.83" y="790.50" width="3.99" height="10.58" fill="#f01e23"/>
<use href="#gC" x="629.83" y="801.33" width="3.99" height="10.58" fill="#6a3cf2"/>
<use href="#gG" x="629.83" y="812.16" width="3.99" height="7.69" fill="#f9a71a"/>
<use href="#gA" x="629.83" y="820.10" width="3.99" height="6.25" fill="#1e8a2a"/>
<use href="#gG" x="394.05" y="835.00" width="3.99" height="11.12" fill="#f9a71a"/>
<use href="#gT" x="394.05" y="846.37" width="3.99" height="8.78" fill="#f01e23"/>
<use href="#gC" x="394.05" y="855.39" width="3.99" height="8.61" fill="#6a3cf2"/>
<use href="#gA" x="394.05" y="864.25" width="3.99" height="7.00" fill="#1e8a2a"/>
<use href="#gT" x="398.34" y="835.00" width="3.99" height="10.26" fill="#f01e23"/>
<use href="#gG" x="398.34" y="845.51" width="3.99" height="9.07" fill="#f9a71a"/>
<use href="#gA" x="398.34" y="854.83" width="3.99" height="8.55" fill="#1e8a2a"/>
<use href="#gC" x="398.34" y="863.63" width="3.99" height="7.62" fill="#6a3cf2"/>
<use href="#gT" x="402.62" y="835.00" width="3.99" height="10.06" fill="#f01e23"/>
<use href="#gG" x="402.62" y="845.31" width="3.99" height="8.69" fill="#f9a71a"/>
<use href="#gC" x="402.62" y="854.26" width="3.99" height="8.55" fill="#6a3cf2"/>
<use href="#gA" x="402.62" y="863.05" width="3.99" height="8.20" fill="#1e8a2a"/>
<use href="#gT" x="406.91" y="835.00" width="3.99" height="10.79" fill="#f01e23"/>
<use href="#gC" x="406.91" y="846.04" width="3.99" height="8.24" fill="#6a3cf2"/>
<use href="#gG" x="406.91" y="854.53" width="3.99" height="8.83" fill="#f9a71a"/>
<use href="#gA" x="406.91" y="863.61" width="3.99" height="7.64" fill="#1e8a2a"/>
<use href="#gT" x="411.20" y="835.00" width="3.99" height="10.84" fill="#f01e23"/>
<use href="#gG" x="411.20" y="846.09" width="3.99" height="9.37" fill="#f9a71a"/>
<use href="#gA" x="411.20" y="855.71" width="3.99" height="7.67" fill="#1e8a2a"/>
<use href="#gC" x="411.20" y="863.62" width="3.99" height="7.63" fill="#6a3cf2"/>
<use href="#gT" x="415.48" y="835.00" width="3.99" height="10.78" fill="#f01e23"/>
<use href="#gG" x="415.48" y="846.03" width="3.99" height="8.54" fill="#f9a71a"/>
<use href="#gC" x="415.48" y="854.81" width="3.99" height="7.76" fill="#6a3cf2"/>
<use href="#gA" x="415.48" y="862.82" width="3.99" height="8.43" fill="#1e8a2a"/>
<use href="#gT" x="419.77" y="835.00" width="3.99" height="11.04" fill="#f01e23"/>
<use href="#gC" x="419.77" y="846.29" width="3.99" height="8.60" fill="#6a3cf2"/>
<use href="#gG" x="419.77" y="855.14" width="3.99" height="8.01" fill="#f9a71a"/>
<use href="#gA" x="419.77" y="863.40" width="3.99" height="7.85" fill="#1e8a2a"/>
<use href="#gT" x="424.06" y="835.00" width="3.99" height="10.43" fill="#f01e23"/>
<use href="#gC" x="424.06" y="845.68" width="3.99" height="9.46" fill="#6a3cf2"/>
<use href="#gG" x="424.06" y="855.39" width="3.99" height="7.96" fill="#f9a71a"/>
<use href="#gA" x="424.06" y="863.60" width="3.99" height="7.65" fill="#1e8a2a"/>
<use href="#gT" x="428.35" y="835.00" width="3.99" height="10.13" fill="#f01e23"/>
<use href="#gA" x="428.35" y="845.38" width="3.99" height="9.58" fill="#1e8a2a"/>
<use href="#gC" x="428.35" y="855.21" width="3.99" height="8.17" fill="#6a3cf2"/>
<use href="#gG" x="428.35" y="863.63" width="3.99" height="7.62" fill="#f9a71a"/>
<use href="#gT" x="432.63" y="835.00" width="3.99" height="11.37" fill="#f01e23"/>
<use href="#gG" x="432.63" y="846.62" width="3.99" height="9.69" fill="#f9a71a"/>
<use href="#gC" x="432.63" y="856.56" width="3.99" height="7.40" fill="#6a3cf2"/>
<use href="#gA" x="432.63" y="864.22" width="3.99" height="7.03" fill="#1e8a2a"/>
<use href="#gC" x="436.92" y="835.00" width="3.99" height="9.83" fill="#6a3cf2"/>
<use href="#gG" x="436.92" y="845.08" width="3.99" height="9.01" fill="#f9a71a"/>
<use href="#gA" x="436.92" y="854.34" width="3.99" height="8.76" fill="#1e8a2a"/>
<use href="#gT" x="436.92" y="863.35" width="3.99" height="7.90" fill="#f01e23"/>
<use href="#gT" x="441.21" y="835.00" width="3.99" height="9.86" fill="#f01e23"/>
<use href="#gC" x="441.21" y="845.11" width="3.99" height="9.55" fill="#6a3cf2"/>
<use href="#gG" x="441.21" y="854.91" width="3.99" height="9.06" fill="#f9a71a"/>
<use href="#gA" x="441.21" y="864.21" width="3.99" height="7.04" fill="#1e8a2a"/>
<use href="#gT" x="445.49" y="835.00" width="3.99" height="11.77" fill="#f01e23"/>
<use href="#gG" x="445.49" y="847.02" width="3.99" height="8.29" fill="#f9a71a"/>
<use href="#gC" x="445.49" y="855.57" width="3.99" height="8.12" fill="#6a3cf2"/>
<use href="#gA" x="445.49" y="863.94" width="3.99" height="7.31" fill="#1e8a2a"/>
<use href="#gT" x="449.78" y="835.00" width="3.99" height="10.00" fill="#f01e23"/>
<use href="#gC" x="449.78" y="845.25" width="3.99" height="9.71" fill="#6a3cf2"/>
<use href="#gG" x="449.78" y="855.21" width="3.99" height="8.31" fill="#f9a71a"/>
<use href="#gA" x="449.78" y="863.77" width="3.99" height="7.48" fill="#1e8a2a"/>
<use href="#gC" x="454.07" y="835.00" width="3.99" height="11.12" fill="#6a3cf2"/>
<use href="#gG" x="454.07" y="846.37" width="3.99" height="9.12" fill="#f9a71a"/>
<use href="#gT" x="454.07" y="855.75" width="3.99" height="8.13" fill="#f01e23"/>
<use href="#gA" x="454.07" y="864.12" width="3.99" height="7.13" fill="#1e8a2a"/>
<use href="#gT" x="458.35" y="835.00" width="3.99" height="10.66" fill="#f01e23"/>
<use href="#gA" x="458.35" y="845.91" width="3.99" height="9.40" fill="#1e8a2a"/>
<use href="#gC" x="458.35" y="855.56" width="3.99" height="7.89" fill="#6a3cf2"/>
<use href="#gG" x="458.35" y="863.70" width="3.99" height="7.55" fill="#f9a71a"/>
<use href="#gT" x="462.64" y="835.00" width="3.99" height="10.56" fill="#f01e23"/>
<use href="#gG" x="462.64" y="845.81" width="3.99" height="8.30" fill="#f9a71a"/>
<use href="#gC" x="462.64" y="854.36" width="3.99" height="8.54" fill="#6a3cf2"/>
<use href="#gA" x="462.64" y="863.15" width="3.99" height="8.10" fill="#1e8a2a"/>
<use href="#gT" x="466.93" y="835.00" width="3.99" height="10.26" fill="#f01e23"/>
<use href="#gC" x="466.93" y="845.51" width="3.99" height="8.72" fill="#6a3cf2"/>
<use href="#gG" x="466.93" y="854.48" width="3.99" height="8.43" fill="#f9a71a"/>
<use href="#gA" x="466.93" y="863.16" width="3.99" height="8.09" fill="#1e8a2a"/>
<use href="#gT" x="471.22" y="835.00" width="3.99" height="11.23" fill="#f01e23"/>
<use href="#gC" x="471.22" y="846.48" width="3.99" height="8.70" fill="#6a3cf2"/>
<use href="#gG" x="471.22" y="855.43" width="3.99" height="8.21" fill="#f9a71a"/>
<use href="#gA" x="471.22" y="863.88" width="3.99" height="7.37" fill="#1e8a2a"/>
<use href="#gT" x="475.50" y="835.00" width="3.99" height="9.41" fill="#f01e23"/>
<use href="#gC" x="475.50" y="844.66" width="3.99" height="9.49" fill="#6a3cf2"/>
<use href="#gA" x="475.50" y="854.39" width="3.99" height="8.58" fill="#1e8a2a"/>
<use href="#gG" x="475.50" y="863.22" width="3.99" height="8.03" fill="#f9a71a"/>
<use href="#gT" x="479.79" y="835.00" width="3.99" height="9.41" fill="#f01e23"/>
<use href="#gC" x="479.79" y="844.66" width="3.99" height="9.44" fill="#6a3cf2"/>
<use href="#gA" x="479.79" y="854.34" width="3.99" height="8.72" fill="#1e8a2a"/>
<use href="#gG" x="479.79" y="863.31" width="3.99" height="7.94" fill="#f9a71a"/>
<use href="#gT" x="484.08" y="835.00" width="3.99" height="9.98" fill="#f01e23"/>
<use href="#gG" x="484.08" y="845.23" width="3.99" height="9.38" fill="#f9a71a"/>
<use href="#gC" x="484.08" y="854.87" width="3.99" height="8.15" fill="#6a3cf2"/>
<use href="#gA" x="484.08" y="863.27" width="3.99" height="7.98" fill="#1e8a2a"/>
<use href="#gT" x="488.36" y="835.00" width="3.99" height="10.20" fill="#f01e23"/>
<use href="#gC" x="488.36" y="845.45" width="3.99" height="9.76" fill="#6a3cf2"/>
<use href="#gG" x="488.36" y="855.47" width="3.99" height="8.07" fill="#f9a71a"/>
<use href="#gA" x="488.36" y="863.78" width="3.99" height="7.47" fill="#1e8a2a"/>
<use href="#gT" x="492.65" y="835.00" width="3.99" height="10.46" fill="#f01e23"/>
<use href="#gC" x="492.65" y="845.71" width="3.99" height="9.14" fill="#6a3cf2"/>
<use href="#gG" x="492.65" y="855.10" width="3.99" height="8.65" fill="#f9a71a"/>
<use href="#gA" x="492.65" y="864.00" width="3.99" height="7.25" fill="#1e8a2a"/>
<use href="#gT" x="496.94" y="835.00" width="3.99" height="9.79" fill="#f01e23"/>
<use href="#gC" x="496.94" y="845.04" width="3.99" height="9.06" fill="#6a3cf2"/>
<use href="#gA" x="496.94" y="854.35" width="3.99" height="8.90" fill="#1e8a2a"/>
<use href="#gG" x="496.94" y="863.51" width="3.99" height="7.74" fill="#f9a71a"/>
<use href="#gT" x="501.22" y="835.00" width="3.99" height="10.32" fill="#f01e23"/>
<use href="#gA" x="501.22" y="845.57" width="3.99" height="8.72" fill="#1e8a2a"/>
<use href="#gC" x="501.22" y="854.54" width="3.99" height="8.33" fill="#6a3cf2"/>
<use href="#gG" x="501.22" y="863.12" width="3.99" height="8.13" fill="#f9a71a"/>
<use href="#gT" x="505.51" y="835.00" width="3.99" height="10.77" fill="#f01e23"/>
<use href="#gA" x="505.51" y="846.02" width="3.99" height="8.04" fill="#1e8a2a"/>
<use href="#gC" x="505.51" y="854.31" width="3.99" height="8.20" fill="#6a3cf2"/>
<use href="#gG" x="505.51" y="862.76" width="3.99" height="8.49" fill="#f9a71a"/>
<use href="#gT" x="509.80" y="835.00" width="3.99" height="11.74" fill="#f01e23"/>
<use href="#gC" x="509.80" y="846.99" width="3.99" height="9.15" fill="#6a3cf2"/>
<use href="#gA" x="509.80" y="856.39" width="3.99" height="7.17" fill="#1e8a2a"/>
<use href="#gG" x="509.80" y="863.81" width="3.99" height="7.44" fill="#f9a71a"/>
<use href="#gT" x="514.09" y="835.00" width="3.99" height="13.62" fill="#f01e23"/>
<use href="#gC" x="514.09" y="848.87" width="3.99" height="10.10" fill="#6a3cf2"/>
<use href="#gA" x="514.09" y="859.22" width="3.99" height="6.57" fill="#1e8a2a"/>
<use href="#gG" x="514.09" y="866.04" width="3.99" height="5.21" fill="#f9a71a"/>
<use href="#gT" x="518.37" y="835.00" width="3.99" height="14.61" fill="#f01e23"/>
<use href="#gC" x="518.37" y="849.86" width="3.99" height="10.18" fill="#6a3cf2"/>
<use href="#gG" x="518.37" y="860.29" width="3.99" height="5.74" fill="#f9a71a"/>
<use href="#gA" x="518.37" y="866.28" width="3.99" height="4.97" fill="#1e8a2a"/>
<use href="#gT" x="522.66" y="835.00" width="3.99" height="12.92" fill="#f01e23"/>
<use href="#gC" x="522.66" y="848.17" width="3.99" height="11.54" fill="#6a3cf2"/>
<use href="#gA" x="522.66" y="859.95" width="3.99" height="6.03" fill="#1e8a2a"/>
<use href="#gG" x="522.66" y="866.23" width="3.99" height="5.02" fill="#f9a71a"/>
<use href="#gT" x="526.95" y="835.00" width="3.99" height="13.39" fill="#f01e23"/>
<use href="#gC" x="526.95" y="848.64" width="3.99" height="9.80" fill="#6a3cf2"/>
<use href="#gA" x="526.95" y="858.69" width="3.99" height="6.67" fill="#1e8a2a"/>
<use href="#gG" x="526.95" y="865.61" width="3.99" height="5.64" fill="#f9a71a"/>
<use href="#gT" x="531.23" y="835.00" width="3.99" height="12.96" fill="#f01e23"/>
<use href="#gC" x="531.23" y="848.21" width="3.99" height="10.49" fill="#6a3cf2"/>
<use href="#gA" x="531.23" y="858.95" width="3.99" height="6.41" fill="#1e8a2a"/>
<use href="#gG" x="531.23" y="865.61" width="3.99" height="5.64" fill="#f9a71a"/>
<use href="#gT" x="535.52" y="835.00" width="3.99" height="13.30" fill="#f01e23"/>
<use href="#gC" x="535.52" y="848.55" width="3.99" height="10.73" fill="#6a3cf2"/>
<use href="#gA" x="535.52" y="859.53" width="3.99" height="5.77" fill="#1e8a2a"/>
<use href="#gG" x="535.52" y="865.55" width="3.99" height="5.70" fill="#f9a71a"/>
<use href="#gT" x="539.81" y="835.00" width="3.99" height="12.65" fill="#f01e23"/>
<use href="#gC" x="539.81" y="847.90" width="3.99" height="12.18" fill="#6a3cf2"/>
<use href="#gA" x="539.81" y="860.33" width="3.99" height="5.61" fill="#1e8a2a"/>
<use href="#gG" x="539.81" y="866.20" width="3.99" height="5.05" fill="#f9a71a"/>
<use href="#gT" x="544.09" y="835.00" width="3.99" height="12.51" fill="#f01e23"/>
<use href="#gC" x="544.09" y="847.76" width="3.99" height="10.56" fill="#6a3cf2"/>
<use href="#gG" x="544.09" y="858.57" width="3.99" height="6.63" fill="#f9a71a"/>
<use href="#gA" x="544.09" y="865.45" width="3.99" height="5.80" fill="#1e8a2a"/>
<use href="#gT" x="548.38" y="835.00" width="3.99" height="13.84" fill="#f01e23"/>
<use href="#gC" x="548.38" y="849.09" width="3.99" height="10.39" fill="#6a3cf2"/>
<use href="#gA" x="548.38" y="859.73" width="3.99" height="6.34" fill="#1e8a2a"/>
<use href="#gG" x="548.38" y="866.32" width="3.99" height="4.93" fill="#f9a71a"/>
<use href="#gT" x="552.67" y="835.00" width="3.99" height="13.71" fill="#f01e23"/>
<use href="#gC" x="552.67" y="848.96" width="3.99" height="9.93" fill="#6a3cf2"/>
<use href="#gA" x="552.67" y="859.14" width="3.99" height="6.28" fill="#1e8a2a"/>
<use href="#gG" x="552.67" y="865.66" width="3.99" height="5.59" fill="#f9a71a"/>
<use href="#gT" x="556.96" y="835.00" width="3.99" height="13.11" fill="#f01e23"/>
<use href="#gC" x="556.96" y="848.36" width="3.99" height="10.65" fill="#6a3cf2"/>
<use href="#gG" x="556.96" y="859.26" width="3.99" height="6.43" fill="#f9a71a"/>
<use href="#gA" x="556.96" y="865.94" width="3.99" height="5.31" fill="#1e8a2a"/>
<use href="#gT" x="561.24" y="835.00" width="3.99" height="13.07" fill="#f01e23"/>
<use href="#gC" x="561.24" y="848.32" width="3.99" height="11.03" fill="#6a3cf2"/>
<use href="#gG" x="561.24" y="859.59" width="3.99" height="6.09" fill="#f9a71a"/>
<use href="#gA" x="561.24" y="865.94" width="3.99" height="5.31" fill="#1e8a2a"/>
<use href="#gT" x="565.53" y="835.00" width="3.99" height="12.30" fill="#f01e23"/>
<use href="#gC" x="565.53" y="847.55" width="3.99" height="10.88" fill="#6a3cf2"/>
<use href="#gG" x="565.53" y="858.69" width="3.99" height="6.60" fill="#f9a71a"/>
<use href="#gA" x="565.53" y="865.53" width="3.99" height="5.72" fill="#1e8a2a"/>
<use href="#gT" x="569.82" y="835.00" width="3.99" height="14.61" fill="#f01e23"/>
<use href="#gC" x="569.82" y="849.86" width="3.99" height="10.06" fill="#6a3cf2"/>
<use href="#gG" x="569.82" y="860.18" width="3.99" height="5.68" fill="#f9a71a"/>
<use href="#gA" x="569.82" y="866.10" width="3.99" height="5.15" fill="#1e8a2a"/>
<use href="#gT" x="574.10" y="835.00" width="3.99" height="14.32" fill="#f01e23"/>
<use href="#gC" x="574.10" y="849.57" width="3.99" height="9.79" fill="#6a3cf2"/>
<use href="#gA" x="574.10" y="859.61" width="3.99" height="5.77" fill="#1e8a2a"/>
<use href="#gG" x="574.10" y="865.63" width="3.99" height="5.62" fill="#f9a71a"/>
<use href="#gT" x="578.39" y="835.00" width="3.99" height="13.93" fill="#f01e23"/>
<use href="#gC" x="578.39" y="849.18" width="3.99" height="10.22" fill="#6a3cf2"/>
<use href="#gA" x="578.39" y="859.65" width="3.99" height="6.13" fill="#1e8a2a"/>
<use href="#gG" x="578.39" y="866.03" width="3.99" height="5.22" fill="#f9a71a"/>
<use href="#gT" x="582.68" y="835.00" width="3.99" height="13.05" fill="#f01e23"/>
<use href="#gC" x="582.68" y="848.30" width="3.99" height="10.95" fill="#6a3cf2"/>
<use href="#gG" x="582.68" y="859.50" width="3.99" height="5.54" fill="#f9a71a"/>
<use href="#gA" x="582.68" y="865.29" width="3.99" height="5.96" fill="#1e8a2a"/>
<use href="#gC" x="586.96" y="835.00" width="3.99" height="14.35" fill="#6a3cf2"/>
<use href="#gT" x="586.96" y="849.60" width="3.99" height="8.88" fill="#f01e23"/>
<use href="#gA" x="586.96" y="858.73" width="3.99" height="6.32" fill="#1e8a2a"/>
<use href="#gG" x="586.96" y="865.30" width="3.99" height="5.96" fill="#f9a71a"/>
<use href="#gT" x="591.25" y="835.00" width="3.99" height="12.67" fill="#f01e23"/>
<use href="#gC" x="591.25" y="847.92" width="3.99" height="11.36" fill="#6a3cf2"/>
<use href="#gA" x="591.25" y="859.53" width="3.99" height="6.05" fill="#1e8a2a"/>
<use href="#gG" x="591.25" y="865.83" width="3.99" height="5.42" fill="#f9a71a"/>
<use href="#gT" x="595.54" y="835.00" width="3.99" height="12.91" fill="#f01e23"/>
<use href="#gC" x="595.54" y="848.16" width="3.99" height="11.03" fill="#6a3cf2"/>
<use href="#gA" x="595.54" y="859.45" width="3.99" height="5.77" fill="#1e8a2a"/>
<use href="#gG" x="595.54" y="865.47" width="3.99" height="5.78" fill="#f9a71a"/>
<use href="#gC" x="599.83" y="835.00" width="3.99" height="12.52" fill="#6a3cf2"/>
<use href="#gA" x="599.83" y="847.77" width="3.99" height="9.61" fill="#1e8a2a"/>
<use href="#gT" x="599.83" y="857.63" width="3.99" height="7.05" fill="#f01e23"/>
<use href="#gG" x="599.83" y="864.93" width="3.99" height="6.32" fill="#f9a71a"/>
<use href="#gC" x="604.11" y="835.00" width="3.99" height="19.83" fill="#6a3cf2"/>
<use href="#gA" x="604.11" y="855.08" width="3.99" height="7.05" fill="#1e8a2a"/>
<use href="#gT" x="604.11" y="862.38" width="3.99" height="5.22" fill="#f01e23"/>
<use href="#gG" x="604.11" y="867.85" width="3.99" height="3.40" fill="#f9a71a"/>
<use href="#gA" x="608.40" y="835.00" width="3.99" height="36.25" fill="#1e8a2a"/>
<use href="#gG" x="612.69" y="835.00" width="3.99" height="36.25" fill="#f9a71a"/>
<use href="#gA" x="616.97" y="835.00" width="3.99" height="10.70" fill="#1e8a2a"/>
<use href="#gG" x="616.97" y="845.95" width="3.99" height="10.70" fill="#f9a71a"/>
<use href="#gC" x="616.97" y="856.90" width="3.99" height="7.78" fill="#6a3cf2"/>
<use href="#gT" x="616.97" y="864.93" width="3.99" height="6.32" fill="#f01e23"/>
<use href="#gT" x="621.26" y="835.00" width="3.99" height="10.70" fill="#f01e23"/>
<use href="#gC" x="621.26" y="845.95" width="3.99" height="10.70" fill="#6a3cf2"/>
<use href="#gA" x="621.26" y="856.90" width="3.99" height="7.78" fill="#1e8a2a"/>
<use href="#gG" x="621.26" y="864.93" width="3.99" height="6.32" fill="#f9a71a"/>
<use href="#gT" x="625.55" y="835.00" width="3.99" height="10.70" fill="#f01e23"/>
<use href="#gC" x="625.55" y="845.95" width="3.99" height="10.70" fill="#6a3cf2"/>
<use href="#gG" x="625.55" y="856.90" width="3.99" height="7.78" fill="#f9a71a"/>
<use href="#gA" x="625.55" y="864.93" width="3.99" height="6.32" fill="#1e8a2a"/>
<use href="#gT" x="629.83" y="835.00" width="3.99" height="10.70" fill="#f01e23"/>
<use href="#gC" x="629.83" y="845.95" width="3.99" height="10.70" fill="#6a3cf2"/>
<use href="#gG" x="629.83" y="856.90" width="3.99" height="7.78" fill="#f9a71a"/>
<use href="#gA" x="629.83" y="864.93" width="3.99" height="6.32" fill="#1e8a2a"/>
<use href="#gT" x="394.05" y="881.50" width="3.99" height="11.70" fill="#f01e23"/>
<use href="#gA" x="394.05" y="893.45" width="3.99" height="8.50" fill="#1e8a2a"/>
<use href="#gG" x="394.05" y="902.21" width="3.99" height="8.38" fill="#f9a71a"/>
<use href="#gC" x="394.05" y="910.84" width="3.99" height="6.91" fill="#6a3cf2"/>
<use href="#gT" x="398.34" y="881.50" width="3.99" height="11.27" fill="#f01e23"/>
<use href="#gG" x="398.34" y="893.02" width="3.99" height="9.01" fill="#f9a71a"/>
<use href="#gA" x="398.34" y="902.29" width="3.99" height="8.07" fill="#1e8a2a"/>
<use href="#gC" x="398.34" y="910.61" width="3.99" height="7.14" fill="#6a3cf2"/>
<use href="#gT" x="402.62" y="881.50" width="3.99" height="10.82" fill="#f01e23"/>
<use href="#gG" x="402.62" y="892.57" width="3.99" height="8.89" fill="#f9a71a"/>
<use href="#gC" x="402.62" y="901.71" width="3.99" height="8.83" fill="#6a3cf2"/>
<use href="#gA" x="402.62" y="910.79" width="3.99" height="6.96" fill="#1e8a2a"/>
<use href="#gC" x="406.91" y="881.50" width="3.99" height="11.60" fill="#6a3cf2"/>
<use href="#gG" x="406.91" y="893.35" width="3.99" height="9.47" fill="#f9a71a"/>
<use href="#gT" x="406.91" y="903.07" width="3.99" height="7.44" fill="#f01e23"/>
<use href="#gA" x="406.91" y="910.76" width="3.99" height="6.99" fill="#1e8a2a"/>
<use href="#gT" x="411.20" y="881.50" width="3.99" height="10.28" fill="#f01e23"/>
<use href="#gG" x="411.20" y="892.03" width="3.99" height="9.00" fill="#f9a71a"/>
<use href="#gC" x="411.20" y="901.28" width="3.99" height="8.97" fill="#6a3cf2"/>
<use href="#gA" x="411.20" y="910.50" width="3.99" height="7.25" fill="#1e8a2a"/>
<use href="#gC" x="415.48" y="881.50" width="3.99" height="9.94" fill="#6a3cf2"/>
<use href="#gG" x="415.48" y="891.69" width="3.99" height="8.11" fill="#f9a71a"/>
<use href="#gT" x="415.48" y="900.05" width="3.99" height="9.36" fill="#f01e23"/>
<use href="#gA" x="415.48" y="909.66" width="3.99" height="8.09" fill="#1e8a2a"/>
<use href="#gG" x="419.77" y="881.50" width="3.99" height="10.26" fill="#f9a71a"/>
<use href="#gT" x="419.77" y="892.01" width="3.99" height="9.09" fill="#f01e23"/>
<use href="#gA" x="419.77" y="901.36" width="3.99" height="7.55" fill="#1e8a2a"/>
<use href="#gC" x="419.77" y="909.16" width="3.99" height="8.59" fill="#6a3cf2"/>
<use href="#gT" x="424.06" y="881.50" width="3.99" height="11.58" fill="#f01e23"/>
<use href="#gG" x="424.06" y="893.33" width="3.99" height="9.22" fill="#f9a71a"/>
<use href="#gA" x="424.06" y="902.79" width="3.99" height="7.97" fill="#1e8a2a"/>
<use href="#gC" x="424.06" y="911.02" width="3.99" height="6.73" fill="#6a3cf2"/>
<use href="#gC" x="428.35" y="881.50" width="3.99" height="10.21" fill="#6a3cf2"/>
<use href="#gT" x="428.35" y="891.96" width="3.99" height="8.51" fill="#f01e23"/>
<use href="#gA" x="428.35" y="900.72" width="3.99" height="9.02" fill="#1e8a2a"/>
<use href="#gG" x="428.35" y="909.99" width="3.99" height="7.76" fill="#f9a71a"/>
<use href="#gT" x="432.63" y="881.50" width="3.99" height="11.80" fill="#f01e23"/>
<use href="#gA" x="432.63" y="893.55" width="3.99" height="8.71" fill="#1e8a2a"/>
<use href="#gC" x="432.63" y="902.51" width="3.99" height="7.40" fill="#6a3cf2"/>
<use href="#gG" x="432.63" y="910.17" width="3.99" height="7.58" fill="#f9a71a"/>
<use href="#gG" x="436.92" y="881.50" width="3.99" height="11.41" fill="#f9a71a"/>
<use href="#gT" x="436.92" y="893.16" width="3.99" height="8.32" fill="#f01e23"/>
<use href="#gC" x="436.92" y="901.73" width="3.99" height="7.33" fill="#6a3cf2"/>
<use href="#gA" x="436.92" y="909.31" width="3.99" height="8.44" fill="#1e8a2a"/>
<use href="#gT" x="441.21" y="881.50" width="3.99" height="10.32" fill="#f01e23"/>
<use href="#gC" x="441.21" y="892.07" width="3.99" height="8.71" fill="#6a3cf2"/>
<use href="#gG" x="441.21" y="901.03" width="3.99" height="8.88" fill="#f9a71a"/>
<use href="#gA" x="441.21" y="910.16" width="3.99" height="7.59" fill="#1e8a2a"/>
<use href="#gC" x="445.49" y="881.50" width="3.99" height="10.34" fill="#6a3cf2"/>
<use href="#gT" x="445.49" y="892.09" width="3.99" height="8.90" fill="#f01e23"/>
<use href="#gG" x="445.49" y="901.24" width="3.99" height="8.26" fill="#f9a71a"/>
<use href="#gA" x="445.49" y="909.76" width="3.99" height="7.99" fill="#1e8a2a"/>
<use href="#gC" x="449.78" y="881.50" width="3.99" height="9.70" fill="#6a3cf2"/>
<use href="#gG" x="449.78" y="891.45" width="3.99" height="9.40" fill="#f9a71a"/>
<use href="#gT" x="449.78" y="901.11" width="3.99" height="8.74" fill="#f01e23"/>
<use href="#gA" x="449.78" y="910.10" width="3.99" height="7.65" fill="#1e8a2a"/>
<use href="#gT" x="454.07" y="881.50" width="3.99" height="10.75" fill="#f01e23"/>
<use href="#gG" x="454.07" y="892.50" width="3.99" height="8.61" fill="#f9a71a"/>
<use href="#gC" x="454.07" y="901.36" width="3.99" height="8.63" fill="#6a3cf2"/>
<use href="#gA" x="454.07" y="910.25" width="3.99" height="7.50" fill="#1e8a2a"/>
<use href="#gT" x="458.35" y="881.50" width="3.99" height="10.38" fill="#f01e23"/>
<use href="#gG" x="458.35" y="892.13" width="3.99" height="8.32" fill="#f9a71a"/>
<use href="#gA" x="458.35" y="900.70" width="3.99" height="8.30" fill="#1e8a2a"/>
<use href="#gC" x="458.35" y="909.25" width="3.99" height="8.50" fill="#6a3cf2"/>
<use href="#gT" x="462.64" y="881.50" width="3.99" height="9.58" fill="#f01e23"/>
<use href="#gG" x="462.64" y="891.33" width="3.99" height="9.80" fill="#f9a71a"/>
<use href="#gC" x="462.64" y="901.38" width="3.99" height="8.26" fill="#6a3cf2"/>
<use href="#gA" x="462.64" y="909.89" width="3.99" height="7.86" fill="#1e8a2a"/>
<use href="#gT" x="466.93" y="881.50" width="3.99" height="10.79" fill="#f01e23"/>
<use href="#gG" x="466.93" y="892.54" width="3.99" height="9.03" fill="#f9a71a"/>
<use href="#gC" x="466.93" y="901.82" width="3.99" height="8.20" fill="#6a3cf2"/>
<use href="#gA" x="466.93" y="910.26" width="3.99" height="7.49" fill="#1e8a2a"/>
<use href="#gT" x="471.22" y="881.50" width="3.99" height="11.05" fill="#f01e23"/>
<use href="#gC" x="471.22" y="892.80" width="3.99" height="9.31" fill="#6a3cf2"/>
<use href="#gA" x="471.22" y="902.36" width="3.99" height="7.62" fill="#1e8a2a"/>
<use href="#gG" x="471.22" y="910.23" width="3.99" height="7.52" fill="#f9a71a"/>
<use href="#gT" x="475.50" y="881.50" width="3.99" height="11.39" fill="#f01e23"/>
<use href="#gC" x="475.50" y="893.14" width="3.99" height="8.80" fill="#6a3cf2"/>
<use href="#gA" x="475.50" y="902.20" width="3.99" height="7.93" fill="#1e8a2a"/>
<use href="#gG" x="475.50" y="910.38" width="3.99" height="7.37" fill="#f9a71a"/>
<use href="#gC" x="479.79" y="881.50" width="3.99" height="9.64" fill="#6a3cf2"/>
<use href="#gT" x="479.79" y="891.39" width="3.99" height="9.86" fill="#f01e23"/>
<use href="#gA" x="479.79" y="901.50" width="3.99" height="7.66" fill="#1e8a2a"/>
<use href="#gG" x="479.79" y="909.41" width="3.99" height="8.34" fill="#f9a71a"/>
<use href="#gT" x="484.08" y="881.50" width="3.99" height="12.05" fill="#f01e23"/>
<use href="#gA" x="484.08" y="893.80" width="3.99" height="9.18" fill="#1e8a2a"/>
<use href="#gC" x="484.08" y="903.23" width="3.99" height="7.26" fill="#6a3cf2"/>
<use href="#gG" x="484.08" y="910.74" width="3.99" height="7.01" fill="#f9a71a"/>
<use href="#gT" x="488.36" y="881.50" width="3.99" height="10.16" fill="#f01e23"/>
<use href="#gG" x="488.36" y="891.91" width="3.99" height="9.35" fill="#f9a71a"/>
<use href="#gA" x="488.36" y="901.51" width="3.99" height="7.89" fill="#1e8a2a"/>
<use href="#gC" x="488.36" y="909.65" width="3.99" height="8.10" fill="#6a3cf2"/>
<use href="#gG" x="492.65" y="881.50" width="3.99" height="10.49" fill="#f9a71a"/>
<use href="#gC" x="492.65" y="892.24" width="3.99" height="8.44" fill="#6a3cf2"/>
<use href="#gT" x="492.65" y="900.93" width="3.99" height="8.16" fill="#f01e23"/>
<use href="#gA" x="492.65" y="909.34" width="3.99" height="8.41" fill="#1e8a2a"/>
<use href="#gA" x="496.94" y="881.50" width="3.99" height="10.44" fill="#1e8a2a"/>
<use href="#gG" x="496.94" y="892.19" width="3.99" height="7.72" fill="#f9a71a"/>
<use href="#gT" x="496.94" y="900.16" width="3.99" height="8.85" fill="#f01e23"/>
<use href="#gC" x="496.94" y="909.26" width="3.99" height="8.49" fill="#6a3cf2"/>
<use href="#gT" x="501.22" y="881.50" width="3.99" height="10.47" fill="#f01e23"/>
<use href="#gG" x="501.22" y="892.22" width="3.99" height="9.11" fill="#f9a71a"/>
<use href="#gC" x="501.22" y="901.59" width="3.99" height="7.95" fill="#6a3cf2"/>
<use href="#gA" x="501.22" y="909.79" width="3.99" height="7.96" fill="#1e8a2a"/>
<use href="#gT" x="505.51" y="881.50" width="3.99" height="10.80" fill="#f01e23"/>
<use href="#gC" x="505.51" y="892.55" width="3.99" height="9.16" fill="#6a3cf2"/>
<use href="#gA" x="505.51" y="901.95" width="3.99" height="7.57" fill="#1e8a2a"/>
<use href="#gG" x="505.51" y="909.77" width="3.99" height="7.98" fill="#f9a71a"/>
<use href="#gT" x="509.80" y="881.50" width="3.99" height="10.24" fill="#f01e23"/>
<use href="#gC" x="509.80" y="891.99" width="3.99" height="8.86" fill="#6a3cf2"/>
<use href="#gA" x="509.80" y="901.10" width="3.99" height="7.99" fill="#1e8a2a"/>
<use href="#gG" x="509.80" y="909.34" width="3.99" height="8.41" fill="#f9a71a"/>
<use href="#gT" x="514.09" y="881.50" width="3.99" height="13.84" fill="#f01e23"/>
<use href="#gC" x="514.09" y="895.59" width="3.99" height="10.49" fill="#6a3cf2"/>
<use href="#gA" x="514.09" y="906.34" width="3.99" height="5.61" fill="#1e8a2a"/>
<use href="#gG" x="514.09" y="912.20" width="3.99" height="5.55" fill="#f9a71a"/>
<use href="#gT" x="518.37" y="881.50" width="3.99" height="12.32" fill="#f01e23"/>
<use href="#gC" x="518.37" y="894.07" width="3.99" height="11.07" fill="#6a3cf2"/>
<use href="#gA" x="518.37" y="905.39" width="3.99" height="6.33" fill="#1e8a2a"/>
<use href="#gG" x="518.37" y="911.97" width="3.99" height="5.78" fill="#f9a71a"/>
<use href="#gT" x="522.66" y="881.50" width="3.99" height="13.87" fill="#f01e23"/>
<use href="#gC" x="522.66" y="895.62" width="3.99" height="10.14" fill="#6a3cf2"/>
<use href="#gG" x="522.66" y="906.01" width="3.99" height="6.43" fill="#f9a71a"/>
<use href="#gA" x="522.66" y="912.69" width="3.99" height="5.06" fill="#1e8a2a"/>
<use href="#gT" x="526.95" y="881.50" width="3.99" height="12.86" fill="#f01e23"/>
<use href="#gC" x="526.95" y="894.61" width="3.99" height="10.84" fill="#6a3cf2"/>
<use href="#gA" x="526.95" y="905.70" width="3.99" height="6.51" fill="#1e8a2a"/>
<use href="#gG" x="526.95" y="912.45" width="3.99" height="5.30" fill="#f9a71a"/>
<use href="#gT" x="531.23" y="881.50" width="3.99" height="12.80" fill="#f01e23"/>
<use href="#gA" x="531.23" y="894.55" width="3.99" height="11.04" fill="#1e8a2a"/>
<use href="#gC" x="531.23" y="905.84" width="3.99" height="5.71" fill="#6a3cf2"/>
<use href="#gG" x="531.23" y="911.80" width="3.99" height="5.95" fill="#f9a71a"/>
<use href="#gT" x="535.52" y="881.50" width="3.99" height="14.16" fill="#f01e23"/>
<use href="#gA" x="535.52" y="895.91" width="3.99" height="10.03" fill="#1e8a2a"/>
<use href="#gC" x="535.52" y="906.19" width="3.99" height="6.34" fill="#6a3cf2"/>
<use href="#gG" x="535.52" y="912.79" width="3.99" height="4.96" fill="#f9a71a"/>
<use href="#gC" x="539.81" y="881.50" width="3.99" height="13.54" fill="#6a3cf2"/>
<use href="#gT" x="539.81" y="895.29" width="3.99" height="10.77" fill="#f01e23"/>
<use href="#gA" x="539.81" y="906.32" width="3.99" height="5.56" fill="#1e8a2a"/>
<use href="#gG" x="539.81" y="912.12" width="3.99" height="5.63" fill="#f9a71a"/>
<use href="#gT" x="544.09" y="881.50" width="3.99" height="13.44" fill="#f01e23"/>
<use href="#gC" x="544.09" y="895.19" width="3.99" height="11.45" fill="#6a3cf2"/>
<use href="#gA" x="544.09" y="906.89" width="3.99" height="5.63" fill="#1e8a2a"/>
<use href="#gG" x="544.09" y="912.77" width="3.99" height="4.98" fill="#f9a71a"/>
<use href="#gT" x="548.38" y="881.50" width="3.99" height="14.46" fill="#f01e23"/>
<use href="#gC" x="548.38" y="896.21" width="3.99" height="10.11" fill="#6a3cf2"/>
<use href="#gA" x="548.38" y="906.57" width="3.99" height="5.50" fill="#1e8a2a"/>
<use href="#gG" x="548.38" y="912.32" width="3.99" height="5.43" fill="#f9a71a"/>
<use href="#gT" x="552.67" y="881.50" width="3.99" height="12.22" fill="#f01e23"/>
<use href="#gC" x="552.67" y="893.97" width="3.99" height="10.79" fill="#6a3cf2"/>
<use href="#gA" x="552.67" y="905.01" width="3.99" height="6.65" fill="#1e8a2a"/>
<use href="#gG" x="552.67" y="911.91" width="3.99" height="5.84" fill="#f9a71a"/>
<use href="#gT" x="556.96" y="881.50" width="3.99" height="14.82" fill="#f01e23"/>
<use href="#gC" x="556.96" y="896.57" width="3.99" height="9.68" fill="#6a3cf2"/>
<use href="#gA" x="556.96" y="906.50" width="3.99" height="5.92" fill="#1e8a2a"/>
<use href="#gG" x="556.96" y="912.67" width="3.99" height="5.08" fill="#f9a71a"/>
<use href="#gT" x="561.24" y="881.50" width="3.99" height="13.01" fill="#f01e23"/>
<use href="#gC" x="561.24" y="894.76" width="3.99" height="10.64" fill="#6a3cf2"/>
<use href="#gA" x="561.24" y="905.65" width="3.99" height="6.74" fill="#1e8a2a"/>
<use href="#gG" x="561.24" y="912.64" width="3.99" height="5.11" fill="#f9a71a"/>
<use href="#gT" x="565.53" y="881.50" width="3.99" height="12.85" fill="#f01e23"/>
<use href="#gC" x="565.53" y="894.60" width="3.99" height="11.48" fill="#6a3cf2"/>
<use href="#gG" x="565.53" y="906.33" width="3.99" height="5.48" fill="#f9a71a"/>
<use href="#gA" x="565.53" y="912.06" width="3.99" height="5.69" fill="#1e8a2a"/>
<use href="#gT" x="569.82" y="881.50" width="3.99" height="13.23" fill="#f01e23"/>
<use href="#gC" x="569.82" y="894.98" width="3.99" height="10.97" fill="#6a3cf2"/>
<use href="#gA" x="569.82" y="906.19" width="3.99" height="6.42" fill="#1e8a2a"/>
<use href="#gG" x="569.82" y="912.87" width="3.99" height="4.88" fill="#f9a71a"/>
<use href="#gT" x="574.10" y="881.50" width="3.99" height="12.80" fill="#f01e23"/>
<use href="#gC" x="574.10" y="894.55" width="3.99" height="11.20" fill="#6a3cf2"/>
<use href="#gA" x="574.10" y="906.00" width="3.99" height="5.67" fill="#1e8a2a"/>
<use href="#gG" x="574.10" y="911.92" width="3.99" height="5.83" fill="#f9a71a"/>
<use href="#gT" x="578.39" y="881.50" width="3.99" height="12.39" fill="#f01e23"/>
<use href="#gC" x="578.39" y="894.14" width="3.99" height="11.47" fill="#6a3cf2"/>
<use href="#gA" x="578.39" y="905.86" width="3.99" height="5.94" fill="#1e8a2a"/>
<use href="#gG" x="578.39" y="912.05" width="3.99" height="5.70" fill="#f9a71a"/>
<use href="#gT" x="582.68" y="881.50" width="3.99" height="13.27" fill="#f01e23"/>
<use href="#gC" x="582.68" y="895.02" width="3.99" height="10.89" fill="#6a3cf2"/>
<use href="#gG" x="582.68" y="906.16" width="3.99" height="5.58" fill="#f9a71a"/>
<use href="#gA" x="582.68" y="911.99" width="3.99" height="5.76" fill="#1e8a2a"/>
<use href="#gT" x="586.96" y="881.50" width="3.99" height="13.61" fill="#f01e23"/>
<use href="#gC" x="586.96" y="895.36" width="3.99" height="11.11" fill="#6a3cf2"/>
<use href="#gA" x="586.96" y="906.72" width="3.99" height="5.76" fill="#1e8a2a"/>
<use href="#gG" x="586.96" y="912.74" width="3.99" height="5.01" fill="#f9a71a"/>
<use href="#gT" x="591.25" y="881.50" width="3.99" height="13.29" fill="#f01e23"/>
<use href="#gC" x="591.25" y="895.04" width="3.99" height="10.88" fill="#6a3cf2"/>
<use href="#gA" x="591.25" y="906.17" width="3.99" height="6.17" fill="#1e8a2a"/>
<use href="#gG" x="591.25" y="912.59" width="3.99" height="5.16" fill="#f9a71a"/>
<use href="#gT" x="595.54" y="881.50" width="3.99" height="14.12" fill="#f01e23"/>
<use href="#gC" x="595.54" y="895.87" width="3.99" height="10.13" fill="#6a3cf2"/>
<use href="#gA" x="595.54" y="906.25" width="3.99" height="5.52" fill="#1e8a2a"/>
<use href="#gG" x="595.54" y="912.02" width="3.99" height="5.73" fill="#f9a71a"/>
<use href="#gG" x="599.83" y="881.50" width="3.99" height="10.70" fill="#f9a71a"/>
<use href="#gC" x="599.83" y="892.45" width="3.99" height="9.61" fill="#6a3cf2"/>
<use href="#gT" x="599.83" y="902.31" width="3.99" height="8.88" fill="#f01e23"/>
<use href="#gA" x="599.83" y="911.43" width="3.99" height="6.32" fill="#1e8a2a"/>
<use href="#gC" x="604.11" y="881.50" width="3.99" height="21.65" fill="#6a3cf2"/>
<use href="#gT" x="604.11" y="903.40" width="3.99" height="6.32" fill="#f01e23"/>
<use href="#gA" x="604.11" y="909.97" width="3.99" height="5.96" fill="#1e8a2a"/>
<use href="#gG" x="604.11" y="916.18" width="3.99" height="1.58" fill="#f9a71a"/>
<use href="#gA" x="608.40" y="881.50" width="3.99" height="36.25" fill="#1e8a2a"/>
<use href="#gG" x="612.69" y="881.50" width="3.99" height="36.25" fill="#f9a71a"/>
<use href="#gG" x="616.97" y="881.50" width="3.99" height="10.70" fill="#f9a71a"/>
<use href="#gA" x="616.97" y="892.45" width="3.99" height="10.70" fill="#1e8a2a"/>
<use href="#gT" x="616.97" y="903.40" width="3.99" height="7.78" fill="#f01e23"/>
<use href="#gC" x="616.97" y="911.43" width="3.99" height="6.32" fill="#6a3cf2"/>
<use href="#gA" x="621.26" y="881.50" width="3.99" height="10.70" fill="#1e8a2a"/>
<use href="#gT" x="621.26" y="892.45" width="3.99" height="10.70" fill="#f01e23"/>
<use href="#gC" x="621.26" y="903.40" width="3.99" height="7.78" fill="#6a3cf2"/>
<use href="#gG" x="621.26" y="911.43" width="3.99" height="6.32" fill="#f9a71a"/>
<use href="#gG" x="625.55" y="881.50" width="3.99" height="10.70" fill="#f9a71a"/>
<use href="#gC" x="625.55" y="892.45" width="3.99" height="10.70" fill="#6a3cf2"/>
<use href="#gT" x="625.55" y="903.40" width="3.99" height="7.78" fill="#f01e23"/>
<use href="#gA" x="625.55" y="911.43" width="3.99" height="6.32" fill="#1e8a2a"/>
<use href="#gG" x="629.83" y="881.50" width="3.99" height="10.70" fill="#f9a71a"/>
<use href="#gC" x="629.83" y="892.45" width="3.99" height="10.70" fill="#6a3cf2"/>
<use href="#gA" x="629.83" y="903.40" width="3.99" height="7.78" fill="#1e8a2a"/>
<use href="#gT" x="629.83" y="911.43" width="3.99" height="6.32" fill="#f01e23"/>
<text x="102.3" y="792.1" font-size="4.6" text-anchor="end" fill="#444" >1.00</text>
<text x="102.3" y="801.1" font-size="4.6" text-anchor="end" fill="#444" >0.75</text>
<text x="102.3" y="810.1" font-size="4.6" text-anchor="end" fill="#444" >0.50</text>
<text x="102.3" y="819.2" font-size="4.6" text-anchor="end" fill="#444" >0.25</text>
<text x="95.8" y="828.2" font-size="4.6" text-anchor="middle" fill="#444" >0</text>
<text transform="translate(86.0,808.5) rotate(-90)" font-size="5.1" text-anchor="middle" fill="#333">Probability</text>
<text x="390.4" y="792.1" font-size="4.6" text-anchor="end" fill="#444" >1.00</text>
<text x="390.4" y="801.1" font-size="4.6" text-anchor="end" fill="#444" >0.75</text>
<text x="390.4" y="810.1" font-size="4.6" text-anchor="end" fill="#444" >0.50</text>
<text x="390.4" y="819.2" font-size="4.6" text-anchor="end" fill="#444" >0.25</text>
<text x="383.9" y="828.2" font-size="4.6" text-anchor="middle" fill="#444" >0</text>
<text transform="translate(374.4,808.5) rotate(-90)" font-size="5.1" text-anchor="middle" fill="#333">Probability</text>
<text x="102.3" y="836.6" font-size="4.6" text-anchor="end" fill="#444" >1.00</text>
<text x="102.3" y="845.7" font-size="4.6" text-anchor="end" fill="#444" >0.75</text>
<text x="102.3" y="854.9" font-size="4.6" text-anchor="end" fill="#444" >0.50</text>
<text x="102.3" y="864.0" font-size="4.6" text-anchor="end" fill="#444" >0.25</text>
<text x="95.8" y="873.1" font-size="4.6" text-anchor="middle" fill="#444" >0</text>
<text transform="translate(86.0,853.2) rotate(-90)" font-size="5.1" text-anchor="middle" fill="#333">Probability</text>
<text x="390.4" y="836.6" font-size="4.6" text-anchor="end" fill="#444" >1.00</text>
<text x="390.4" y="845.7" font-size="4.6" text-anchor="end" fill="#444" >0.75</text>
<text x="390.4" y="854.9" font-size="4.6" text-anchor="end" fill="#444" >0.50</text>
<text x="390.4" y="864.0" font-size="4.6" text-anchor="end" fill="#444" >0.25</text>
<text x="383.9" y="873.1" font-size="4.6" text-anchor="middle" fill="#444" >0</text>
<text transform="translate(374.4,853.2) rotate(-90)" font-size="5.1" text-anchor="middle" fill="#333">Probability</text>
<text x="102.3" y="883.1" font-size="4.6" text-anchor="end" fill="#444" >1.00</text>
<text x="102.3" y="892.2" font-size="4.6" text-anchor="end" fill="#444" >0.75</text>
<text x="102.3" y="901.4" font-size="4.6" text-anchor="end" fill="#444" >0.50</text>
<text x="102.3" y="910.5" font-size="4.6" text-anchor="end" fill="#444" >0.25</text>
<text x="95.8" y="919.6" font-size="4.6" text-anchor="middle" fill="#444" >0</text>
<text transform="translate(86.0,899.8) rotate(-90)" font-size="5.1" text-anchor="middle" fill="#333">Probability</text>
<text x="390.4" y="883.1" font-size="4.6" text-anchor="end" fill="#444" >1.00</text>
<text x="390.4" y="892.2" font-size="4.6" text-anchor="end" fill="#444" >0.75</text>
<text x="390.4" y="901.4" font-size="4.6" text-anchor="end" fill="#444" >0.50</text>
<text x="390.4" y="910.5" font-size="4.6" text-anchor="end" fill="#444" >0.25</text>
<text x="383.9" y="919.6" font-size="4.6" text-anchor="middle" fill="#444" >0</text>
<text transform="translate(374.4,899.8) rotate(-90)" font-size="5.1" text-anchor="middle" fill="#333">Probability</text>
</svg></body></html>
